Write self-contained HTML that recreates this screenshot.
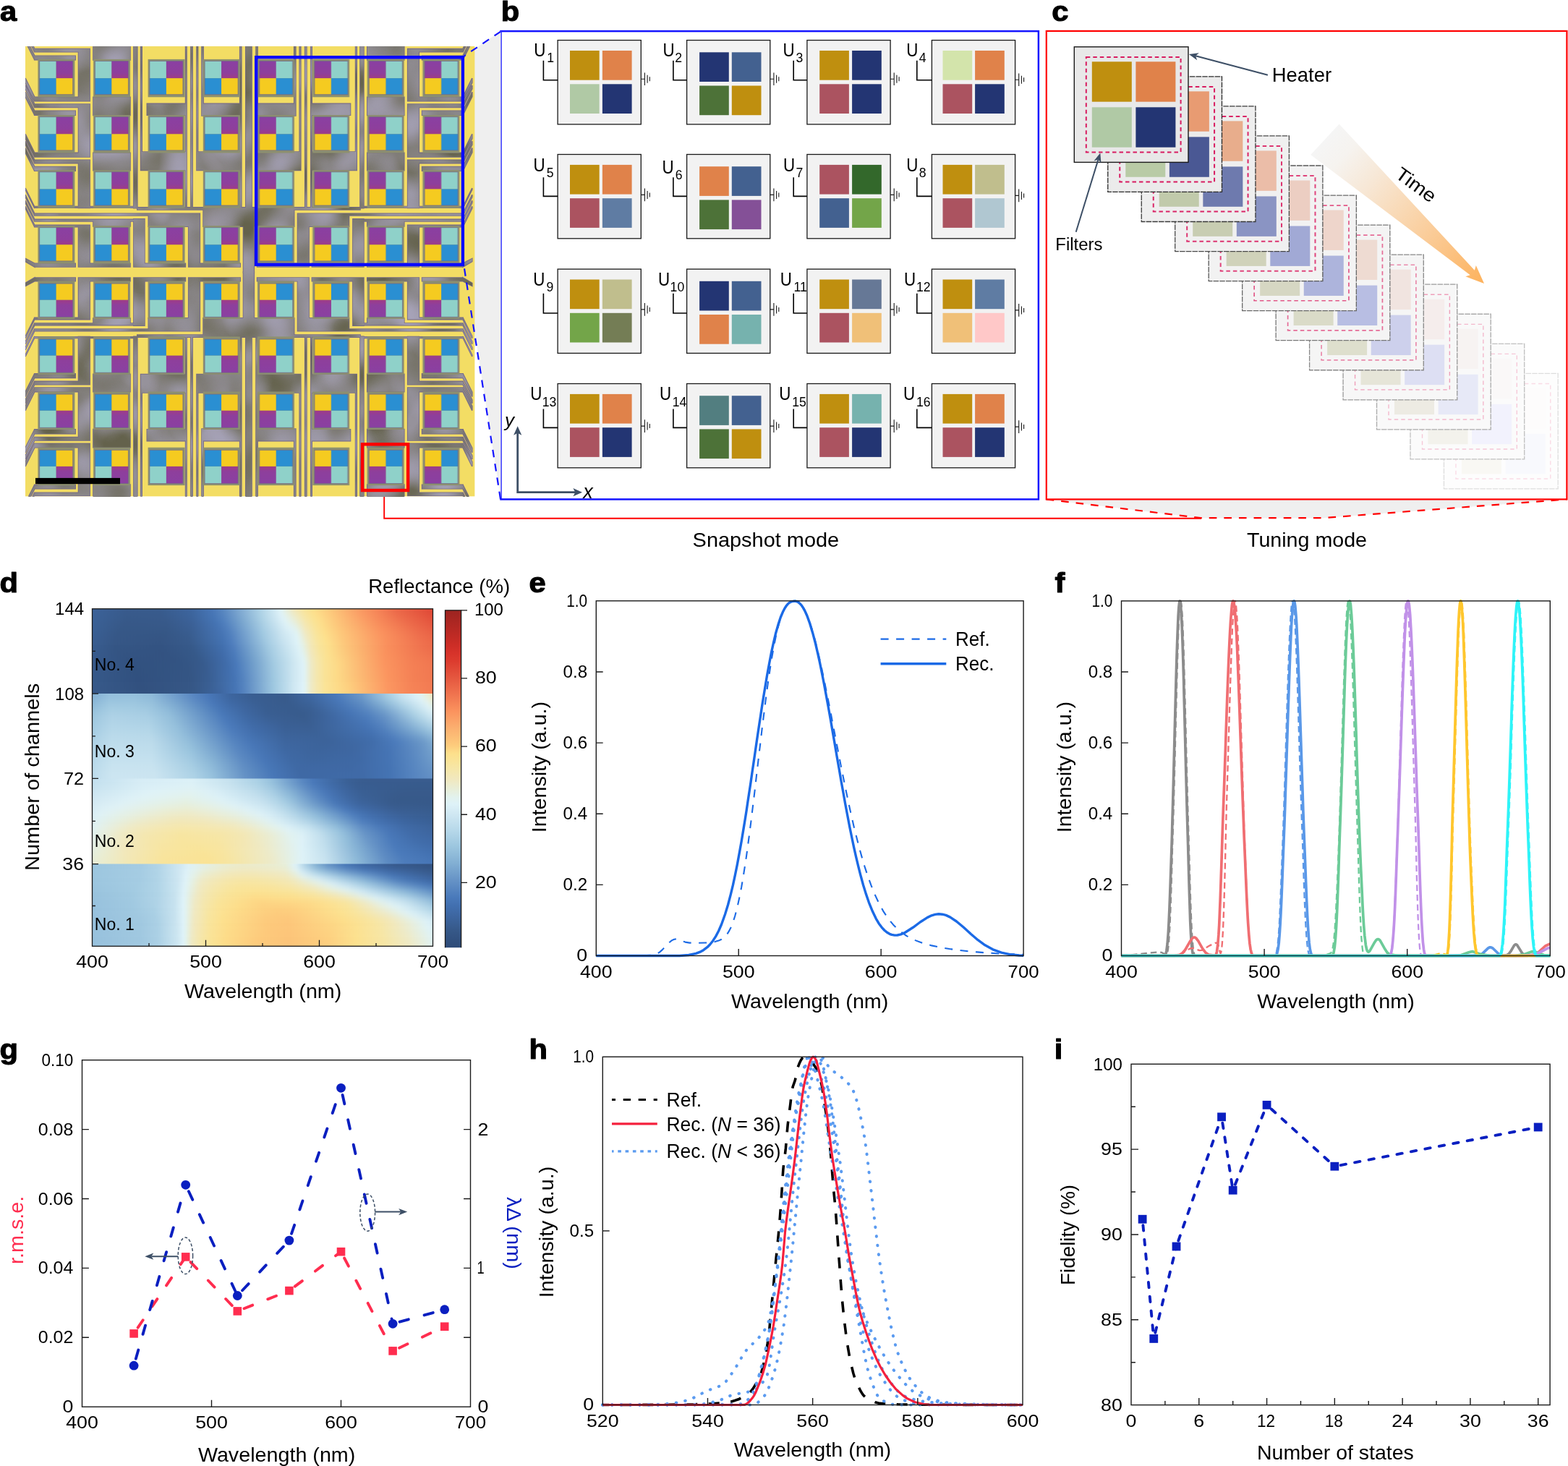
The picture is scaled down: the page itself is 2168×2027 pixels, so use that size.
<!DOCTYPE html>
<html lang="en">
<head>
<meta charset="utf-8">
<title>Figure</title>
<style>
html,body{margin:0;padding:0;background:#fff;}
body{width:2168px;height:2027px;overflow:hidden;}
svg{display:block;font-family:"Liberation Sans",sans-serif;}
</style>
</head>
<body>
<svg xmlns="http://www.w3.org/2000/svg" width="2168" height="2027" viewBox="0 0 2168 2027">
<rect width="2168" height="2027" fill="#fff"/>
<g id="panel_bc">
<path d="M1446.7 690.4 L1660 716.2 L1829 716.2 L2166.4 690.4Z" fill="#efefef"/>
<path d="M1446.7 690.4 L1660 716.2 L1829 716.2 L2166.4 690.4" fill="none" stroke="#ff0000" stroke-width="2.2" stroke-dasharray="10.6 10"/>
<path d="M531.2 680 L531.2 716.8 L1661 716.8" fill="none" stroke="#ff0000" stroke-width="1.9"/>
<rect x="1446.8" y="42.9" width="719.6" height="647.5" fill="#fff" stroke="#ff0000" stroke-width="2.2"/>
<rect x="692.5" y="43.1" width="743.4" height="647.3" fill="#fff" stroke="#1414ff" stroke-width="2.5"/>
<rect x="771.1" y="55.6" width="115.2" height="116.3" fill="#f2f2f2" stroke="#1a1a1a" stroke-width="1.3"/>
<rect x="788" y="70" width="40.7" height="40.7" fill="#BF8F0F"/>
<rect x="832.9" y="70" width="40.7" height="40.7" fill="#E0824A"/>
<rect x="788" y="116.3" width="40.7" height="40.7" fill="#B0C9A5"/>
<rect x="832.9" y="116.3" width="40.7" height="40.7" fill="#233573"/>
<path d="M751.4 83.7 L751.4 110.7 L771.1 110.7" fill="none" stroke="#000" stroke-width="1.6"/>
<path d="M886.3 109.2H891.4M891.4 100.4V118M895.1 103.7V114.7M898.3 106.2V112.2" fill="none" stroke="#1a1a1a" stroke-width="1.1"/>
<text transform="translate(738.2 77.7) scale(0.860 1)" font-size="26">U</text>
<text transform="translate(756.2 86.3) scale(0.980 1)" font-size="18">1</text>
<rect x="949.6" y="55.6" width="115.2" height="116.3" fill="#f2f2f2" stroke="#1a1a1a" stroke-width="1.3"/>
<rect x="967.1" y="72.3" width="40.7" height="40.7" fill="#233573"/>
<rect x="1011.8" y="72.3" width="40.7" height="40.7" fill="#436190"/>
<rect x="967.1" y="118.5" width="40.7" height="40.7" fill="#4D7238"/>
<rect x="1011.8" y="118.5" width="40.7" height="40.7" fill="#BF8F0F"/>
<path d="M930.9 83.7 L930.9 110.7 L949.6 110.7" fill="none" stroke="#000" stroke-width="1.6"/>
<path d="M1064.8 109.2H1069.9M1069.9 100.4V118M1073.6 103.7V114.7M1076.8 106.2V112.2" fill="none" stroke="#1a1a1a" stroke-width="1.1"/>
<text transform="translate(916.4 77.7) scale(0.860 1)" font-size="26">U</text>
<text transform="translate(933.2 86.3) scale(0.980 1)" font-size="18">2</text>
<rect x="1115.9" y="55.6" width="115.2" height="116.3" fill="#f2f2f2" stroke="#1a1a1a" stroke-width="1.3"/>
<rect x="1133.2" y="70" width="40.7" height="40.7" fill="#BF8F0F"/>
<rect x="1178.1" y="70" width="40.7" height="40.7" fill="#233573"/>
<rect x="1133.2" y="116.3" width="40.7" height="40.7" fill="#AB5360"/>
<rect x="1178.1" y="116.3" width="40.7" height="40.7" fill="#233573"/>
<path d="M1097.2 83.7 L1097.2 110.7 L1115.9 110.7" fill="none" stroke="#000" stroke-width="1.6"/>
<path d="M1231.1 109.2H1236.2M1236.2 100.4V118M1239.9 103.7V114.7M1243.1 106.2V112.2" fill="none" stroke="#1a1a1a" stroke-width="1.1"/>
<text transform="translate(1082.5 77.7) scale(0.860 1)" font-size="26">U</text>
<text transform="translate(1100.4 86.3) scale(0.980 1)" font-size="18">3</text>
<rect x="1288.4" y="55.6" width="115.2" height="116.3" fill="#f2f2f2" stroke="#1a1a1a" stroke-width="1.3"/>
<rect x="1303.5" y="70" width="40.7" height="40.7" fill="#D3E4AB"/>
<rect x="1348.1" y="70" width="40.7" height="40.7" fill="#E0824A"/>
<rect x="1303.5" y="116.3" width="40.7" height="40.7" fill="#AB5360"/>
<rect x="1348.1" y="116.3" width="40.7" height="40.7" fill="#233573"/>
<path d="M1267.8 83.7 L1267.8 110.7 L1288.4 110.7" fill="none" stroke="#000" stroke-width="1.6"/>
<path d="M1403.6 110.2H1408.7M1408.7 101.4V119M1412.4 104.7V115.7M1415.6 107.2V113.2" fill="none" stroke="#1a1a1a" stroke-width="1.1"/>
<text transform="translate(1253.2 77.7) scale(0.860 1)" font-size="26">U</text>
<text transform="translate(1270.7 86.3) scale(0.980 1)" font-size="18">4</text>
<rect x="771.1" y="213.5" width="115.2" height="116.3" fill="#f2f2f2" stroke="#1a1a1a" stroke-width="1.3"/>
<rect x="788" y="227.9" width="40.7" height="40.7" fill="#BF8F0F"/>
<rect x="832.9" y="227.9" width="40.7" height="40.7" fill="#E0824A"/>
<rect x="788" y="274.2" width="40.7" height="40.7" fill="#AB5360"/>
<rect x="832.9" y="274.2" width="40.7" height="40.7" fill="#5F7CA3"/>
<path d="M751.4 245.3 L751.4 271.4 L771.1 271.4" fill="none" stroke="#000" stroke-width="1.6"/>
<path d="M886.3 269.4H891.4M891.4 260.6V278.2M895.1 263.9V274.9M898.3 266.4V272.4" fill="none" stroke="#1a1a1a" stroke-width="1.1"/>
<text transform="translate(737.4 236.6) scale(0.860 1)" font-size="26">U</text>
<text transform="translate(755.8 245.2) scale(0.980 1)" font-size="18">5</text>
<rect x="949.6" y="213.5" width="115.2" height="116.3" fill="#f2f2f2" stroke="#1a1a1a" stroke-width="1.3"/>
<rect x="967.1" y="230.2" width="40.7" height="40.7" fill="#E0824A"/>
<rect x="1011.8" y="230.2" width="40.7" height="40.7" fill="#436190"/>
<rect x="967.1" y="276.4" width="40.7" height="40.7" fill="#4D7238"/>
<rect x="1011.8" y="276.4" width="40.7" height="40.7" fill="#845097"/>
<path d="M930.9 245.3 L930.9 271.4 L949.6 271.4" fill="none" stroke="#000" stroke-width="1.6"/>
<path d="M1064.8 269.4H1069.9M1069.9 260.6V278.2M1073.6 263.9V274.9M1076.8 266.4V272.4" fill="none" stroke="#1a1a1a" stroke-width="1.1"/>
<text transform="translate(915.4 239.8) scale(0.860 1)" font-size="26">U</text>
<text transform="translate(933.8 248.4) scale(0.980 1)" font-size="18">6</text>
<rect x="1115.9" y="213.5" width="115.2" height="116.3" fill="#f2f2f2" stroke="#1a1a1a" stroke-width="1.3"/>
<rect x="1133.2" y="227.9" width="40.7" height="40.7" fill="#AB5360"/>
<rect x="1178.1" y="227.9" width="40.7" height="40.7" fill="#33682B"/>
<rect x="1133.2" y="274.2" width="40.7" height="40.7" fill="#436190"/>
<rect x="1178.1" y="274.2" width="40.7" height="40.7" fill="#73A549"/>
<path d="M1097.2 245.3 L1097.2 271.4 L1115.9 271.4" fill="none" stroke="#000" stroke-width="1.6"/>
<path d="M1231.1 269.4H1236.2M1236.2 260.6V278.2M1239.9 263.9V274.9M1243.1 266.4V272.4" fill="none" stroke="#1a1a1a" stroke-width="1.1"/>
<text transform="translate(1083.1 236.6) scale(0.860 1)" font-size="26">U</text>
<text transform="translate(1100.4 245.2) scale(0.980 1)" font-size="18">7</text>
<rect x="1288.4" y="213.5" width="115.2" height="116.3" fill="#f2f2f2" stroke="#1a1a1a" stroke-width="1.3"/>
<rect x="1303.5" y="227.9" width="40.7" height="40.7" fill="#BF8F0F"/>
<rect x="1348.1" y="227.9" width="40.7" height="40.7" fill="#C0BE8D"/>
<rect x="1303.5" y="274.2" width="40.7" height="40.7" fill="#AB5360"/>
<rect x="1348.1" y="274.2" width="40.7" height="40.7" fill="#B0C7D1"/>
<path d="M1267.8 245.3 L1267.8 271.4 L1288.4 271.4" fill="none" stroke="#000" stroke-width="1.6"/>
<path d="M1403.6 270.4H1408.7M1408.7 261.6V279.2M1412.4 264.9V275.9M1415.6 267.4V273.4" fill="none" stroke="#1a1a1a" stroke-width="1.1"/>
<text transform="translate(1253.2 236.6) scale(0.860 1)" font-size="26">U</text>
<text transform="translate(1270.7 245.2) scale(0.980 1)" font-size="18">8</text>
<rect x="771.1" y="372.1" width="115.2" height="116.3" fill="#f2f2f2" stroke="#1a1a1a" stroke-width="1.3"/>
<rect x="788" y="386.5" width="40.7" height="40.7" fill="#BF8F0F"/>
<rect x="832.9" y="386.5" width="40.7" height="40.7" fill="#C0BE8D"/>
<rect x="788" y="432.8" width="40.7" height="40.7" fill="#73A549"/>
<rect x="832.9" y="432.8" width="40.7" height="40.7" fill="#747D55"/>
<path d="M751.4 405.8 L751.4 433 L771.1 433" fill="none" stroke="#000" stroke-width="1.6"/>
<path d="M886.3 427.9H891.4M891.4 419.1V436.7M895.1 422.4V433.4M898.3 424.9V430.9" fill="none" stroke="#1a1a1a" stroke-width="1.1"/>
<text transform="translate(737.3 394.8) scale(0.860 1)" font-size="26">U</text>
<text transform="translate(755.4 403.4) scale(0.980 1)" font-size="18">9</text>
<rect x="949.6" y="372.1" width="115.2" height="116.3" fill="#f2f2f2" stroke="#1a1a1a" stroke-width="1.3"/>
<rect x="967.1" y="388.8" width="40.7" height="40.7" fill="#233573"/>
<rect x="1011.8" y="388.8" width="40.7" height="40.7" fill="#436190"/>
<rect x="967.1" y="435" width="40.7" height="40.7" fill="#E0824A"/>
<rect x="1011.8" y="435" width="40.7" height="40.7" fill="#76B2AE"/>
<path d="M930.9 405.8 L930.9 433 L949.6 433" fill="none" stroke="#000" stroke-width="1.6"/>
<path d="M1064.8 427.9H1069.9M1069.9 419.1V436.7M1073.6 422.4V433.4M1076.8 424.9V430.9" fill="none" stroke="#1a1a1a" stroke-width="1.1"/>
<text transform="translate(910 394.8) scale(0.860 1)" font-size="26">U</text>
<text transform="translate(926.6 403.4) scale(0.980 1)" font-size="18">10</text>
<rect x="1115.9" y="372.1" width="115.2" height="116.3" fill="#f2f2f2" stroke="#1a1a1a" stroke-width="1.3"/>
<rect x="1133.2" y="386.5" width="40.7" height="40.7" fill="#BF8F0F"/>
<rect x="1178.1" y="386.5" width="40.7" height="40.7" fill="#667896"/>
<rect x="1133.2" y="432.8" width="40.7" height="40.7" fill="#AB5360"/>
<rect x="1178.1" y="432.8" width="40.7" height="40.7" fill="#F0C078"/>
<path d="M1097.2 405.8 L1097.2 433 L1115.9 433" fill="none" stroke="#000" stroke-width="1.6"/>
<path d="M1231.1 427.9H1236.2M1236.2 419.1V436.7M1239.9 422.4V433.4M1243.1 424.9V430.9" fill="none" stroke="#1a1a1a" stroke-width="1.1"/>
<text transform="translate(1078.8 394.8) scale(0.860 1)" font-size="26">U</text>
<text transform="translate(1097.6 403.4) scale(0.980 1)" font-size="18">11</text>
<rect x="1288.4" y="372.1" width="115.2" height="116.3" fill="#f2f2f2" stroke="#1a1a1a" stroke-width="1.3"/>
<rect x="1303.5" y="386.5" width="40.7" height="40.7" fill="#BF8F0F"/>
<rect x="1348.1" y="386.5" width="40.7" height="40.7" fill="#5F7CA3"/>
<rect x="1303.5" y="432.8" width="40.7" height="40.7" fill="#F0C078"/>
<rect x="1348.1" y="432.8" width="40.7" height="40.7" fill="#FFC8C8"/>
<path d="M1267.8 405.8 L1267.8 433 L1288.4 433" fill="none" stroke="#000" stroke-width="1.6"/>
<path d="M1403.6 428.9H1408.7M1408.7 420.1V437.7M1412.4 423.4V434.4M1415.6 425.9V431.9" fill="none" stroke="#1a1a1a" stroke-width="1.1"/>
<text transform="translate(1249.9 394.8) scale(0.860 1)" font-size="26">U</text>
<text transform="translate(1267 403.4) scale(0.980 1)" font-size="18">12</text>
<rect x="771.1" y="530.5" width="115.2" height="116.3" fill="#f2f2f2" stroke="#1a1a1a" stroke-width="1.3"/>
<rect x="788" y="544.9" width="40.7" height="40.7" fill="#BF8F0F"/>
<rect x="832.9" y="544.9" width="40.7" height="40.7" fill="#E0824A"/>
<rect x="788" y="591.2" width="40.7" height="40.7" fill="#AB5360"/>
<rect x="832.9" y="591.2" width="40.7" height="40.7" fill="#233573"/>
<path d="M751.4 565.4 L751.4 591.4 L771.1 591.4" fill="none" stroke="#000" stroke-width="1.6"/>
<path d="M886.3 589.1H891.4M891.4 580.3V597.9M895.1 583.6V594.6M898.3 586.1V592.1" fill="none" stroke="#1a1a1a" stroke-width="1.1"/>
<text transform="translate(733.2 553.2) scale(0.860 1)" font-size="26">U</text>
<text transform="translate(749.7 561.8) scale(0.980 1)" font-size="18">13</text>
<rect x="949.6" y="530.5" width="115.2" height="116.3" fill="#f2f2f2" stroke="#1a1a1a" stroke-width="1.3"/>
<rect x="967.1" y="547.2" width="40.7" height="40.7" fill="#527E80"/>
<rect x="1011.8" y="547.2" width="40.7" height="40.7" fill="#436190"/>
<rect x="967.1" y="593.4" width="40.7" height="40.7" fill="#4D7238"/>
<rect x="1011.8" y="593.4" width="40.7" height="40.7" fill="#BF8F0F"/>
<path d="M930.9 565.4 L930.9 591.4 L949.6 591.4" fill="none" stroke="#000" stroke-width="1.6"/>
<path d="M1064.8 589.1H1069.9M1069.9 580.3V597.9M1073.6 583.6V594.6M1076.8 586.1V592.1" fill="none" stroke="#1a1a1a" stroke-width="1.1"/>
<text transform="translate(912 553.2) scale(0.860 1)" font-size="26">U</text>
<text transform="translate(929.8 561.8) scale(0.980 1)" font-size="18">14</text>
<rect x="1115.9" y="530.5" width="115.2" height="116.3" fill="#f2f2f2" stroke="#1a1a1a" stroke-width="1.3"/>
<rect x="1133.2" y="544.9" width="40.7" height="40.7" fill="#BF8F0F"/>
<rect x="1178.1" y="544.9" width="40.7" height="40.7" fill="#76B2AE"/>
<rect x="1133.2" y="591.2" width="40.7" height="40.7" fill="#AB5360"/>
<rect x="1178.1" y="591.2" width="40.7" height="40.7" fill="#233573"/>
<path d="M1097.2 565.4 L1097.2 591.4 L1115.9 591.4" fill="none" stroke="#000" stroke-width="1.6"/>
<path d="M1231.1 589.1H1236.2M1236.2 580.3V597.9M1239.9 583.6V594.6M1243.1 586.1V592.1" fill="none" stroke="#1a1a1a" stroke-width="1.1"/>
<text transform="translate(1077.2 553.2) scale(0.860 1)" font-size="26">U</text>
<text transform="translate(1095.2 561.8) scale(0.980 1)" font-size="18">15</text>
<rect x="1288.4" y="530.5" width="115.2" height="116.3" fill="#f2f2f2" stroke="#1a1a1a" stroke-width="1.3"/>
<rect x="1303.5" y="544.9" width="40.7" height="40.7" fill="#BF8F0F"/>
<rect x="1348.1" y="544.9" width="40.7" height="40.7" fill="#E0824A"/>
<rect x="1303.5" y="591.2" width="40.7" height="40.7" fill="#AB5360"/>
<rect x="1348.1" y="591.2" width="40.7" height="40.7" fill="#233573"/>
<path d="M1267.8 565.4 L1267.8 591.4 L1288.4 591.4" fill="none" stroke="#000" stroke-width="1.6"/>
<path d="M1403.6 590.1H1408.7M1408.7 581.3V598.9M1412.4 584.6V595.6M1415.6 587.1V593.1" fill="none" stroke="#1a1a1a" stroke-width="1.1"/>
<text transform="translate(1249.1 553.2) scale(0.860 1)" font-size="26">U</text>
<text transform="translate(1267 561.8) scale(0.980 1)" font-size="18">16</text>
<path d="M715.7 598 L715.7 680.7 L796 680.7" fill="none" stroke="#3d4f66" stroke-width="2.8" stroke-linejoin="miter"/>
<path d="M715.7 589.2 L721.3 601.8 L715.7 598.8 L710.1 601.8Z" fill="#3d4f66"/>
<path d="M805 680.7 L792.4 686.3 L795.4 680.7 L792.4 675.1Z" fill="#3d4f66"/>
<text transform="translate(698 590.1)" font-size="26" font-style="italic">y</text>
<text transform="translate(806.3 688.8)" font-size="27" font-style="italic">x</text>
<defs><linearGradient id="tg" gradientUnits="userSpaceOnUse" x1="1832" y1="192" x2="2052" y2="392"><stop offset="0" stop-color="#f5f5f5"/><stop offset="0.12" stop-color="#f6f3ef"/><stop offset="0.3" stop-color="#f7e7d5"/><stop offset="0.5" stop-color="#f9d8b3"/><stop offset="0.75" stop-color="#fbc589"/><stop offset="1" stop-color="#fdb25c"/></linearGradient></defs>
<path d="M1851.6 171.4 L2038.8 373.7 L2040.8 367 L2052 391.9 L2026.3 382.3 L2032.7 380.2 L1812.2 214Z" fill="url(#tg)"/>
<rect x="1996.47" y="516.35" width="157.7" height="159.6" fill="#fdfdfd" stroke="#dddddd" stroke-width="1.3" stroke-dasharray="7.5 1.2"/>
<rect x="2081.57" y="536.85" width="55" height="55.4" fill="#FDFCFC"/>
<rect x="2020.97" y="599.85" width="55" height="55.4" fill="#F9F8F4"/>
<rect x="2081.57" y="599.85" width="55" height="55.4" fill="#F8F9FD"/>
<rect x="2012.97" y="530.45" width="130.8" height="131.6" fill="none" stroke="#fadce6" stroke-width="1.4" stroke-dasharray="5.5 4"/>
<rect x="1950" y="475.3" width="157.7" height="159.6" fill="#fbfbfb" stroke="#c0c0c0" stroke-width="1.3" stroke-dasharray="7.5 1.2"/>
<rect x="2035.1" y="495.8" width="55" height="55.4" fill="#FAF8F8"/>
<rect x="1974.5" y="558.8" width="55" height="55.4" fill="#F3F2EC"/>
<rect x="2035.1" y="558.8" width="55" height="55.4" fill="#F2F2FD"/>
<rect x="1966.5" y="489.4" width="130.8" height="131.6" fill="none" stroke="#f6c8d8" stroke-width="1.4" stroke-dasharray="5.5 4"/>
<rect x="1903.53" y="434.25" width="157.7" height="159.6" fill="#f9f9f9" stroke="#aaaaaa" stroke-width="1.3" stroke-dasharray="7.5 1.2"/>
<rect x="1988.63" y="454.75" width="55" height="55.4" fill="#F7F3F2"/>
<rect x="1928.03" y="517.75" width="55" height="55.4" fill="#EDEBE3"/>
<rect x="1988.63" y="517.75" width="55" height="55.4" fill="#E7E9F7"/>
<rect x="1920.03" y="448.35" width="130.8" height="131.6" fill="none" stroke="#f3b8cc" stroke-width="1.4" stroke-dasharray="5.5 4"/>
<rect x="1857.06" y="393.2" width="157.7" height="159.6" fill="#f7f7f7" stroke="#999999" stroke-width="1.3" stroke-dasharray="7.5 1.2"/>
<rect x="1942.16" y="413.7" width="55" height="55.4" fill="#F5EDEC"/>
<rect x="1881.56" y="476.7" width="55" height="55.4" fill="#E6E5D8"/>
<rect x="1942.16" y="476.7" width="55" height="55.4" fill="#DDDFF3"/>
<rect x="1873.56" y="407.3" width="130.8" height="131.6" fill="none" stroke="#ee9fba" stroke-width="1.4" stroke-dasharray="5.5 4"/>
<rect x="1810.59" y="352.15" width="157.7" height="159.6" fill="#f5f5f5" stroke="#888888" stroke-width="1.3" stroke-dasharray="7.5 1.2"/>
<rect x="1895.69" y="372.65" width="55" height="55.4" fill="#F1E4E0"/>
<rect x="1835.09" y="435.65" width="55" height="55.4" fill="#DEDFCD"/>
<rect x="1895.69" y="435.65" width="55" height="55.4" fill="#CDD0EC"/>
<rect x="1827.09" y="366.25" width="130.8" height="131.6" fill="none" stroke="#e98aab" stroke-width="1.7" stroke-dasharray="5.5 4"/>
<rect x="1764.12" y="311.1" width="157.7" height="159.6" fill="#f4f4f4" stroke="#787878" stroke-width="1.3" stroke-dasharray="7.5 1.2"/>
<rect x="1849.22" y="331.6" width="55" height="55.4" fill="#EEDBD2"/>
<rect x="1788.62" y="394.6" width="55" height="55.4" fill="#DADBC8"/>
<rect x="1849.22" y="394.6" width="55" height="55.4" fill="#B8BEE3"/>
<rect x="1780.62" y="325.2" width="130.8" height="131.6" fill="none" stroke="#e56c97" stroke-width="1.7" stroke-dasharray="5.5 4"/>
<rect x="1717.65" y="270.05" width="157.7" height="159.6" fill="#f3f3f3" stroke="#686868" stroke-width="1.3" stroke-dasharray="7.5 1.2"/>
<rect x="1802.75" y="290.55" width="55" height="55.4" fill="#EED5CB"/>
<rect x="1742.15" y="353.55" width="55" height="55.4" fill="#D6D7C3"/>
<rect x="1802.75" y="353.55" width="55" height="55.4" fill="#ADB4DC"/>
<rect x="1734.15" y="284.15" width="130.8" height="131.6" fill="none" stroke="#e25888" stroke-width="1.7" stroke-dasharray="5.5 4"/>
<rect x="1671.18" y="229" width="157.7" height="159.6" fill="#f2f2f2" stroke="#585858" stroke-width="1.3" stroke-dasharray="7.5 1.2"/>
<rect x="1756.28" y="249.5" width="55" height="55.4" fill="#ECCEC2"/>
<rect x="1695.68" y="312.5" width="55" height="55.4" fill="#D0D2BA"/>
<rect x="1756.28" y="312.5" width="55" height="55.4" fill="#A1A9D5"/>
<rect x="1687.68" y="243.1" width="130.8" height="131.6" fill="none" stroke="#df457c" stroke-width="2" stroke-dasharray="5.5 4"/>
<rect x="1624.71" y="187.95" width="157.7" height="159.6" fill="#f0f0f0" stroke="#484848" stroke-width="1.3" stroke-dasharray="7.5 1.2"/>
<rect x="1709.81" y="208.45" width="55" height="55.4" fill="#EBBDA8"/>
<rect x="1649.21" y="271.45" width="55" height="55.4" fill="#C8CDB2"/>
<rect x="1709.81" y="271.45" width="55" height="55.4" fill="#8A94C3"/>
<rect x="1641.21" y="202.05" width="130.8" height="131.6" fill="none" stroke="#dc3470" stroke-width="2" stroke-dasharray="5.5 4"/>
<rect x="1578.24" y="146.9" width="157.7" height="159.6" fill="#eeeeee" stroke="#383838" stroke-width="1.3" stroke-dasharray="7.5 1.2"/>
<rect x="1663.34" y="167.4" width="55" height="55.4" fill="#E8AD8C"/>
<rect x="1602.74" y="230.4" width="55" height="55.4" fill="#C1CAAB"/>
<rect x="1663.34" y="230.4" width="55" height="55.4" fill="#6E7AAE"/>
<rect x="1594.74" y="161" width="130.8" height="131.6" fill="none" stroke="#da2466" stroke-width="2" stroke-dasharray="5.5 4"/>
<rect x="1531.77" y="105.85" width="157.7" height="159.6" fill="#ebebeb" stroke="#2a2a2a" stroke-width="1.3" stroke-dasharray="7.5 1.2"/>
<rect x="1616.87" y="126.35" width="55" height="55.4" fill="#E89B72"/>
<rect x="1556.27" y="189.35" width="55" height="55.4" fill="#B9CBA6"/>
<rect x="1616.87" y="189.35" width="55" height="55.4" fill="#4A5894"/>
<rect x="1548.27" y="119.95" width="130.8" height="131.6" fill="none" stroke="#d81b60" stroke-width="2" stroke-dasharray="5.5 4"/>
<rect x="1485.3" y="64.8" width="157.7" height="159.6" fill="#e8e8e8" stroke="#1a1a1a" stroke-width="1.4"/>
<rect x="1509.8" y="85.3" width="55" height="55.4" fill="#BF8F0F"/>
<rect x="1570.4" y="85.3" width="55" height="55.4" fill="#E0824A"/>
<rect x="1509.8" y="148.3" width="55" height="55.4" fill="#B0C9A5"/>
<rect x="1570.4" y="148.3" width="55" height="55.4" fill="#233573"/>
<rect x="1501.8" y="78.9" width="130.8" height="131.6" fill="none" stroke="#d81b60" stroke-width="2" stroke-dasharray="5.5 4"/>
<line x1="1752.9" y1="103.8" x2="1653.08" y2="77.33" stroke="#3d4f66" stroke-width="2"/>
<path d="M1643.9 74.9 L1657.8 73.21 L1653.08 77.33 L1655.13 83.26Z" fill="#3d4f66"/>
<line x1="1487.7" y1="320.7" x2="1518.51" y2="220.58" stroke="#3d4f66" stroke-width="2"/>
<path d="M1521.3 211.5 L1522.45 225.45 L1518.51 220.58 L1512.51 222.4Z" fill="#3d4f66"/>
<text transform="translate(1758.8 113.1)" font-size="27.4">Heater</text>
<text transform="translate(1459.3 345.9) scale(1.040 1)" font-size="23">Filters</text>
<text transform="translate(1927.4 244.3) rotate(36) scale(1.100 1)" font-size="26">Time</text>
<text transform="translate(957.6 756.2) scale(1.056 1)" font-size="27.4">Snapshot mode</text>
<text transform="translate(1724 756.2) scale(1.045 1)" font-size="27.4">Tuning mode</text>
</g>
<g id="panel_a">
<defs><linearGradient id="pg" x1="0" y1="0" x2="0" y2="1"><stop offset="0" stop-color="#8a40a2"/><stop offset="0.7" stop-color="#8e3f9c"/><stop offset="1" stop-color="#a03c86"/></linearGradient><clipPath id="ia"><rect x="35.0" y="64.0" width="621.6" height="622.6"/></clipPath><filter id="nz" x="0" y="0" width="100%" height="100%" color-interpolation-filters="sRGB"><feTurbulence type="fractalNoise" baseFrequency="0.022" numOctaves="1" seed="7" result="n"/><feColorMatrix in="n" type="matrix" values="0 0 0 0 0  0 0 0 0 0  0 0 0 0 0  2.4 0 0 0 -0.72" result="a"/><feFlood flood-color="#64624c" result="f"/><feComposite in="f" in2="a" operator="in" result="dk"/><feColorMatrix in="n" type="matrix" values="0 0 0 0 0  0 0 0 0 0  0 0 0 0 0  0 2.0 0 0 -0.8" result="b"/><feFlood flood-color="#aca8c2" result="f2"/><feComposite in="f2" in2="b" operator="in" result="lt"/><feMerge result="m"><feMergeNode in="SourceGraphic"/><feMergeNode in="dk"/><feMergeNode in="lt"/></feMerge><feComposite in="m" in2="SourceGraphic" operator="in"/></filter><path id="qg" d="M47.7 67.5H123.6V71.8H47.7ZM47.7 77.2H104.2V82.6H47.7ZM108.5 67.5H124.1V139.6H108.5ZM129 64H180V83H129ZM47.7 134.2H124.1V139.8H47.7ZM47.7 144.1H124.1V148.4H47.7ZM47.7 153.3H104.2V159.1H47.7ZM108.5 148.4H124.1V217H108.5ZM129 134.2H180V159.5H129ZM47.7 211.4H124.1V217H47.7ZM47.7 221.3H124.1V225.6H47.7ZM47.7 230.5H104.2V236.3H47.7ZM108.5 225.6H124.1V287.4H108.5ZM129 211.4H180V235.6H129ZM47.7 285.5H184.9V287.2H47.7ZM47.7 295.3H276.3V298H47.7ZM47.7 303.4H199.9V306H47.7ZM47.7 311.4H124.1V313.6H47.7ZM129 303.4H180V313H129ZM108.5 311.4H124.1V369H108.5ZM47.7 364.2H104.2V369H47.7ZM108.5 364.2H180V369H108.5ZM184.9 302.8H199.9V369H184.9ZM184.9 364.2H256.4V369H184.9ZM184.9 64H189.8V287.8H184.9ZM194.6 64H196.2V235.4H194.6ZM263.9 64H266.1V287.8H263.9ZM256.6 64H258V287.8H256.6ZM272 64H273.6V235.4H272ZM279 64H281.1V160H279ZM331.7 64H333.8V287.8H331.7ZM339.8 64H344.4V313H339.8ZM336.5 287.8H344.4V377H336.5ZM203.3 143.4H258V159.3H203.3ZM279.2 143.4H333.8V159.3H279.2ZM195.2 210H258V235.4H195.2ZM272.2 210H333.8V235.4H272.2ZM189.8 286.7H339.8V289.9H189.8ZM205.3 295.3H276.3V313.2H205.3ZM281.1 289.9H339.8V313.2H281.1ZM260.7 295.3H276.3V369H260.7ZM260.7 364.2H332.2V369H260.7ZM47.8 67.5L35 41.5V46.23L47.8 71.8ZM47.8 77.2L35 51.2V57.14L47.8 82.6ZM47.8 134.2L35 108.2V114.36L47.8 139.8ZM47.8 144.1L35 118.1V122.83L47.8 148.4ZM47.8 153.3L35 127.3V133.68L47.8 159.1ZM47.8 211.4L35 185.4V191.56L47.8 217ZM47.8 221.3L35 195.3V200.03L47.8 225.6ZM47.8 230.5L35 204.5V210.88L47.8 236.3ZM47.8 286.2L35 260.2V262.07L47.8 287.9ZM47.8 295.3L35 269.3V272.27L47.8 298ZM47.8 303.4L35 277.4V280.26L47.8 306ZM47.8 311.4L35 285.4V287.82L47.8 313.6ZM47.8 364.2L35 357.5V361.5L47.8 369Z"/><g id="qa"><rect x="52.4" y="81.9" width="51" height="52.4" fill="#8d9070"/><rect x="54.7" y="84.5" width="23" height="23.7" fill="#8fd1c9"/><rect x="77.7" y="84.5" width="23" height="23.7" fill="url(#pg)"/><rect x="54.7" y="108.2" width="23" height="22.5" fill="#2a8fd2"/><rect x="77.7" y="108.2" width="23" height="22.5" fill="#f5cb20"/><rect x="54.7" y="84.5" width="46" height="46.2" fill="none" stroke="#6f6488" stroke-width="0.9" opacity="0.75"/><rect x="129.1" y="81.9" width="51" height="52.4" fill="#8d9070"/><rect x="131.4" y="84.5" width="23" height="23.7" fill="#8fd1c9"/><rect x="154.4" y="84.5" width="23" height="23.7" fill="url(#pg)"/><rect x="131.4" y="108.2" width="23" height="22.5" fill="#2a8fd2"/><rect x="154.4" y="108.2" width="23" height="22.5" fill="#f5cb20"/><rect x="131.4" y="84.5" width="46" height="46.2" fill="none" stroke="#6f6488" stroke-width="0.9" opacity="0.75"/><rect x="204.6" y="81.9" width="51" height="52.4" fill="#8d9070"/><rect x="206.9" y="84.5" width="23" height="23.7" fill="#8fd1c9"/><rect x="229.9" y="84.5" width="23" height="23.7" fill="url(#pg)"/><rect x="206.9" y="108.2" width="23" height="22.5" fill="#2a8fd2"/><rect x="229.9" y="108.2" width="23" height="22.5" fill="#f5cb20"/><rect x="206.9" y="84.5" width="46" height="46.2" fill="none" stroke="#6f6488" stroke-width="0.9" opacity="0.75"/><rect x="280.8" y="81.9" width="51" height="52.4" fill="#8d9070"/><rect x="283.1" y="84.5" width="23" height="23.7" fill="#8fd1c9"/><rect x="306.1" y="84.5" width="23" height="23.7" fill="url(#pg)"/><rect x="283.1" y="108.2" width="23" height="22.5" fill="#2a8fd2"/><rect x="306.1" y="108.2" width="23" height="22.5" fill="#f5cb20"/><rect x="283.1" y="84.5" width="46" height="46.2" fill="none" stroke="#6f6488" stroke-width="0.9" opacity="0.75"/><rect x="52.4" y="159.1" width="51" height="52.4" fill="#8d9070"/><rect x="54.7" y="161.7" width="23" height="23.7" fill="#8fd1c9"/><rect x="77.7" y="161.7" width="23" height="23.7" fill="url(#pg)"/><rect x="54.7" y="185.4" width="23" height="22.5" fill="#2a8fd2"/><rect x="77.7" y="185.4" width="23" height="22.5" fill="#f5cb20"/><rect x="54.7" y="161.7" width="46" height="46.2" fill="none" stroke="#6f6488" stroke-width="0.9" opacity="0.75"/><rect x="129.1" y="159.1" width="51" height="52.4" fill="#8d9070"/><rect x="131.4" y="161.7" width="23" height="23.7" fill="#8fd1c9"/><rect x="154.4" y="161.7" width="23" height="23.7" fill="url(#pg)"/><rect x="131.4" y="185.4" width="23" height="22.5" fill="#2a8fd2"/><rect x="154.4" y="185.4" width="23" height="22.5" fill="#f5cb20"/><rect x="131.4" y="161.7" width="46" height="46.2" fill="none" stroke="#6f6488" stroke-width="0.9" opacity="0.75"/><rect x="204.6" y="159.1" width="51" height="52.4" fill="#8d9070"/><rect x="206.9" y="161.7" width="23" height="23.7" fill="#8fd1c9"/><rect x="229.9" y="161.7" width="23" height="23.7" fill="url(#pg)"/><rect x="206.9" y="185.4" width="23" height="22.5" fill="#2a8fd2"/><rect x="229.9" y="185.4" width="23" height="22.5" fill="#f5cb20"/><rect x="206.9" y="161.7" width="46" height="46.2" fill="none" stroke="#6f6488" stroke-width="0.9" opacity="0.75"/><rect x="280.8" y="159.1" width="51" height="52.4" fill="#8d9070"/><rect x="283.1" y="161.7" width="23" height="23.7" fill="#8fd1c9"/><rect x="306.1" y="161.7" width="23" height="23.7" fill="url(#pg)"/><rect x="283.1" y="185.4" width="23" height="22.5" fill="#2a8fd2"/><rect x="306.1" y="185.4" width="23" height="22.5" fill="#f5cb20"/><rect x="283.1" y="161.7" width="46" height="46.2" fill="none" stroke="#6f6488" stroke-width="0.9" opacity="0.75"/><rect x="52.4" y="235.2" width="51" height="52.4" fill="#8d9070"/><rect x="54.7" y="237.8" width="23" height="23.7" fill="#8fd1c9"/><rect x="77.7" y="237.8" width="23" height="23.7" fill="url(#pg)"/><rect x="54.7" y="261.5" width="23" height="22.5" fill="#2a8fd2"/><rect x="77.7" y="261.5" width="23" height="22.5" fill="#f5cb20"/><rect x="54.7" y="237.8" width="46" height="46.2" fill="none" stroke="#6f6488" stroke-width="0.9" opacity="0.75"/><rect x="129.1" y="235.2" width="51" height="52.4" fill="#8d9070"/><rect x="131.4" y="237.8" width="23" height="23.7" fill="#8fd1c9"/><rect x="154.4" y="237.8" width="23" height="23.7" fill="url(#pg)"/><rect x="131.4" y="261.5" width="23" height="22.5" fill="#2a8fd2"/><rect x="154.4" y="261.5" width="23" height="22.5" fill="#f5cb20"/><rect x="131.4" y="237.8" width="46" height="46.2" fill="none" stroke="#6f6488" stroke-width="0.9" opacity="0.75"/><rect x="204.6" y="235.2" width="51" height="52.4" fill="#8d9070"/><rect x="206.9" y="237.8" width="23" height="23.7" fill="#8fd1c9"/><rect x="229.9" y="237.8" width="23" height="23.7" fill="url(#pg)"/><rect x="206.9" y="261.5" width="23" height="22.5" fill="#2a8fd2"/><rect x="229.9" y="261.5" width="23" height="22.5" fill="#f5cb20"/><rect x="206.9" y="237.8" width="46" height="46.2" fill="none" stroke="#6f6488" stroke-width="0.9" opacity="0.75"/><rect x="280.8" y="235.2" width="51" height="52.4" fill="#8d9070"/><rect x="283.1" y="237.8" width="23" height="23.7" fill="#8fd1c9"/><rect x="306.1" y="237.8" width="23" height="23.7" fill="url(#pg)"/><rect x="283.1" y="261.5" width="23" height="22.5" fill="#2a8fd2"/><rect x="306.1" y="261.5" width="23" height="22.5" fill="#f5cb20"/><rect x="283.1" y="237.8" width="46" height="46.2" fill="none" stroke="#6f6488" stroke-width="0.9" opacity="0.75"/><rect x="52.4" y="312.1" width="51" height="52.4" fill="#8d9070"/><rect x="54.7" y="314.7" width="23" height="23.7" fill="#8fd1c9"/><rect x="77.7" y="314.7" width="23" height="23.7" fill="url(#pg)"/><rect x="54.7" y="338.4" width="23" height="22.5" fill="#2a8fd2"/><rect x="77.7" y="338.4" width="23" height="22.5" fill="#f5cb20"/><rect x="54.7" y="314.7" width="46" height="46.2" fill="none" stroke="#6f6488" stroke-width="0.9" opacity="0.75"/><rect x="129.1" y="312.1" width="51" height="52.4" fill="#8d9070"/><rect x="131.4" y="314.7" width="23" height="23.7" fill="#8fd1c9"/><rect x="154.4" y="314.7" width="23" height="23.7" fill="url(#pg)"/><rect x="131.4" y="338.4" width="23" height="22.5" fill="#2a8fd2"/><rect x="154.4" y="338.4" width="23" height="22.5" fill="#f5cb20"/><rect x="131.4" y="314.7" width="46" height="46.2" fill="none" stroke="#6f6488" stroke-width="0.9" opacity="0.75"/><rect x="204.6" y="312.1" width="51" height="52.4" fill="#8d9070"/><rect x="206.9" y="314.7" width="23" height="23.7" fill="#8fd1c9"/><rect x="229.9" y="314.7" width="23" height="23.7" fill="url(#pg)"/><rect x="206.9" y="338.4" width="23" height="22.5" fill="#2a8fd2"/><rect x="229.9" y="338.4" width="23" height="22.5" fill="#f5cb20"/><rect x="206.9" y="314.7" width="46" height="46.2" fill="none" stroke="#6f6488" stroke-width="0.9" opacity="0.75"/><rect x="280.8" y="312.1" width="51" height="52.4" fill="#8d9070"/><rect x="283.1" y="314.7" width="23" height="23.7" fill="#8fd1c9"/><rect x="306.1" y="314.7" width="23" height="23.7" fill="url(#pg)"/><rect x="283.1" y="338.4" width="23" height="22.5" fill="#2a8fd2"/><rect x="306.1" y="338.4" width="23" height="22.5" fill="#f5cb20"/><rect x="283.1" y="314.7" width="46" height="46.2" fill="none" stroke="#6f6488" stroke-width="0.9" opacity="0.75"/></g></defs>
<path d="M642 77.3 L692.5 43.1 L692.5 690.4 L642 368Z" fill="#efefef"/>
<g clip-path="url(#ia)">
<rect x="35" y="64" width="621.6" height="622.6" fill="#f3dd64"/>
<g fill="none" stroke="#75698a" stroke-width="1.6"><use href="#qg"/><use href="#qg" transform="translate(687.8 0) scale(-1 1)"/><use href="#qg" transform="translate(0 753) scale(1 -1)"/><use href="#qg" transform="translate(687.8 753) scale(-1 -1)"/></g>
<g filter="url(#nz)" fill="#96929b"><use href="#qg"/><use href="#qg" transform="translate(687.8 0) scale(-1 1)"/><use href="#qg" transform="translate(0 753) scale(1 -1)"/><use href="#qg" transform="translate(687.8 753) scale(-1 -1)"/></g>
<use href="#qa"/>
<use href="#qa" transform="translate(687.8 0) scale(-1 1)"/>
<use href="#qa" transform="translate(0 753) scale(1 -1)"/>
<use href="#qa" transform="translate(687.8 753) scale(-1 -1)"/>
</g>
<rect x="354.2" y="79.2" width="285.7" height="286.7" fill="none" stroke="#0a0aff" stroke-width="4.4"/>
<rect x="501" y="614.3" width="63.1" height="63.7" fill="none" stroke="#ff0000" stroke-width="4.4"/>
<rect x="49" y="660.9" width="117" height="8.3" fill="#000"/>
<path d="M692.3 43.6 L642 77.3" fill="none" stroke="#1414ff" stroke-width="2.2" stroke-dasharray="10.5 9"/>
<path d="M692 690 L641.5 368" fill="none" stroke="#1414ff" stroke-width="2.2" stroke-dasharray="10.5 9"/>
</g>
<g id="panel_d">
<defs><linearGradient id="hb" gradientUnits="userSpaceOnUse" x1="127.5" y1="0" x2="598.5" y2="0"/><linearGradient id="h1" href="#hb"><stop offset="0.000" stop-color="#3b6299"/><stop offset="0.100" stop-color="#375a8c"/><stop offset="0.200" stop-color="#375b8d"/><stop offset="0.292" stop-color="#3c659e"/><stop offset="0.350" stop-color="#4675b6"/><stop offset="0.383" stop-color="#5786c0"/><stop offset="0.492" stop-color="#add2e6"/><stop offset="0.550" stop-color="#def2f8"/><stop offset="0.558" stop-color="#e1f2f0"/><stop offset="0.592" stop-color="#f1e8bd"/><stop offset="0.625" stop-color="#f9e49a"/><stop offset="0.650" stop-color="#fddf8b"/><stop offset="0.700" stop-color="#fdc87b"/><stop offset="0.783" stop-color="#fb9c64"/><stop offset="0.833" stop-color="#f78658"/><stop offset="0.892" stop-color="#ec6949"/><stop offset="1.000" stop-color="#e04735"/></linearGradient><linearGradient id="h2" href="#hb"><stop offset="0.000" stop-color="#3a6197"/><stop offset="0.100" stop-color="#37598a"/><stop offset="0.200" stop-color="#37598a"/><stop offset="0.292" stop-color="#3b639b"/><stop offset="0.358" stop-color="#4676b6"/><stop offset="0.392" stop-color="#5887c1"/><stop offset="0.492" stop-color="#a9cfe4"/><stop offset="0.550" stop-color="#d9eef6"/><stop offset="0.558" stop-color="#dff2f6"/><stop offset="0.567" stop-color="#e2f2ef"/><stop offset="0.617" stop-color="#f5e7ad"/><stop offset="0.642" stop-color="#fae395"/><stop offset="0.658" stop-color="#fde08c"/><stop offset="0.708" stop-color="#fdc77a"/><stop offset="0.792" stop-color="#fb9d64"/><stop offset="0.842" stop-color="#f68658"/><stop offset="0.900" stop-color="#ed6c4a"/><stop offset="1.000" stop-color="#e24d39"/></linearGradient><linearGradient id="h3" href="#hb"><stop offset="0.000" stop-color="#3a6096"/><stop offset="0.100" stop-color="#365888"/><stop offset="0.217" stop-color="#37598a"/><stop offset="0.292" stop-color="#3b6198"/><stop offset="0.358" stop-color="#4473b3"/><stop offset="0.383" stop-color="#4e7ebd"/><stop offset="0.433" stop-color="#74a1cc"/><stop offset="0.500" stop-color="#acd1e5"/><stop offset="0.558" stop-color="#dbeff7"/><stop offset="0.567" stop-color="#dff2f5"/><stop offset="0.583" stop-color="#e5f0e5"/><stop offset="0.625" stop-color="#f5e7ac"/><stop offset="0.650" stop-color="#fae395"/><stop offset="0.667" stop-color="#fddf8c"/><stop offset="0.717" stop-color="#fdc67a"/><stop offset="0.800" stop-color="#fb9d64"/><stop offset="0.850" stop-color="#f68658"/><stop offset="0.925" stop-color="#ec6949"/><stop offset="1.000" stop-color="#e4533c"/></linearGradient><linearGradient id="h4" href="#hb"><stop offset="0.000" stop-color="#3a6095"/><stop offset="0.092" stop-color="#365787"/><stop offset="0.217" stop-color="#365888"/><stop offset="0.292" stop-color="#3a5f95"/><stop offset="0.367" stop-color="#4473b3"/><stop offset="0.392" stop-color="#4f7ebd"/><stop offset="0.450" stop-color="#7daad1"/><stop offset="0.508" stop-color="#aed2e6"/><stop offset="0.567" stop-color="#dbf0f7"/><stop offset="0.575" stop-color="#dff2f6"/><stop offset="0.592" stop-color="#e3f1ea"/><stop offset="0.608" stop-color="#eaecd1"/><stop offset="0.625" stop-color="#f3e8b5"/><stop offset="0.650" stop-color="#f9e49a"/><stop offset="0.675" stop-color="#fdde8a"/><stop offset="0.717" stop-color="#fdc87b"/><stop offset="0.850" stop-color="#f88b5a"/><stop offset="0.942" stop-color="#ec6949"/><stop offset="1.000" stop-color="#e65840"/></linearGradient><linearGradient id="h5" href="#hb"><stop offset="0.000" stop-color="#395f94"/><stop offset="0.083" stop-color="#355786"/><stop offset="0.217" stop-color="#355786"/><stop offset="0.292" stop-color="#395e92"/><stop offset="0.375" stop-color="#4573b3"/><stop offset="0.400" stop-color="#507fbd"/><stop offset="0.500" stop-color="#a2cae2"/><stop offset="0.567" stop-color="#d5ebf4"/><stop offset="0.583" stop-color="#ddf1f8"/><stop offset="0.600" stop-color="#e2f2ee"/><stop offset="0.625" stop-color="#f1e8be"/><stop offset="0.658" stop-color="#fae398"/><stop offset="0.683" stop-color="#fddc89"/><stop offset="0.725" stop-color="#fdc87a"/><stop offset="0.850" stop-color="#fa8f5c"/><stop offset="0.958" stop-color="#ec6949"/><stop offset="1.000" stop-color="#e85e43"/></linearGradient><linearGradient id="h6" href="#hb"><stop offset="0.000" stop-color="#395e93"/><stop offset="0.075" stop-color="#355686"/><stop offset="0.208" stop-color="#345584"/><stop offset="0.283" stop-color="#375b8d"/><stop offset="0.383" stop-color="#4574b4"/><stop offset="0.408" stop-color="#5281be"/><stop offset="0.500" stop-color="#9ec7e0"/><stop offset="0.558" stop-color="#cbe4f0"/><stop offset="0.592" stop-color="#dbf0f7"/><stop offset="0.600" stop-color="#dff2f5"/><stop offset="0.608" stop-color="#e3f1eb"/><stop offset="0.625" stop-color="#edeac8"/><stop offset="0.650" stop-color="#f6e6a5"/><stop offset="0.667" stop-color="#fae395"/><stop offset="0.683" stop-color="#fde08c"/><stop offset="0.733" stop-color="#fdc77a"/><stop offset="0.842" stop-color="#fb9660"/><stop offset="0.958" stop-color="#ee6e4c"/><stop offset="1.000" stop-color="#ea6446"/></linearGradient><linearGradient id="h7" href="#hb"><stop offset="0.000" stop-color="#395d91"/><stop offset="0.067" stop-color="#355686"/><stop offset="0.200" stop-color="#345483"/><stop offset="0.283" stop-color="#375a8b"/><stop offset="0.383" stop-color="#4372b2"/><stop offset="0.408" stop-color="#4f7ebd"/><stop offset="0.508" stop-color="#a1c9e1"/><stop offset="0.558" stop-color="#c7e2ef"/><stop offset="0.600" stop-color="#def2f7"/><stop offset="0.608" stop-color="#e2f2ef"/><stop offset="0.633" stop-color="#f0e8c0"/><stop offset="0.658" stop-color="#f8e59f"/><stop offset="0.683" stop-color="#fce18e"/><stop offset="0.733" stop-color="#fdc87b"/><stop offset="0.858" stop-color="#fa915d"/><stop offset="0.967" stop-color="#ee6e4c"/><stop offset="1.000" stop-color="#eb6748"/></linearGradient><linearGradient id="h8" href="#hb"><stop offset="0.000" stop-color="#385d90"/><stop offset="0.067" stop-color="#355685"/><stop offset="0.200" stop-color="#335382"/><stop offset="0.292" stop-color="#375a8b"/><stop offset="0.383" stop-color="#4270af"/><stop offset="0.408" stop-color="#4c7bbc"/><stop offset="0.467" stop-color="#7ba8d0"/><stop offset="0.525" stop-color="#abd0e5"/><stop offset="0.575" stop-color="#cee6f2"/><stop offset="0.600" stop-color="#dcf1f7"/><stop offset="0.608" stop-color="#e0f2f2"/><stop offset="0.617" stop-color="#e4f1e7"/><stop offset="0.642" stop-color="#f2e8b7"/><stop offset="0.667" stop-color="#f9e49a"/><stop offset="0.692" stop-color="#fde08c"/><stop offset="0.742" stop-color="#fdc67a"/><stop offset="0.867" stop-color="#f98e5c"/><stop offset="0.975" stop-color="#ee6f4c"/><stop offset="1.000" stop-color="#ec6a49"/></linearGradient><linearGradient id="h9" href="#hb"><stop offset="0.000" stop-color="#385c8f"/><stop offset="0.067" stop-color="#345584"/><stop offset="0.200" stop-color="#335382"/><stop offset="0.292" stop-color="#365989"/><stop offset="0.383" stop-color="#416ead"/><stop offset="0.417" stop-color="#4f7ebd"/><stop offset="0.517" stop-color="#a0c9e1"/><stop offset="0.567" stop-color="#c6e2ef"/><stop offset="0.600" stop-color="#daeff6"/><stop offset="0.608" stop-color="#dff2f5"/><stop offset="0.617" stop-color="#e2f2ed"/><stop offset="0.642" stop-color="#f2e8bb"/><stop offset="0.667" stop-color="#f8e59d"/><stop offset="0.700" stop-color="#fddd8a"/><stop offset="0.750" stop-color="#fcc479"/><stop offset="0.867" stop-color="#fa8f5c"/><stop offset="0.975" stop-color="#ef714e"/><stop offset="1.000" stop-color="#ed6d4b"/></linearGradient><linearGradient id="h10" href="#hb"><stop offset="0.000" stop-color="#385b8d"/><stop offset="0.075" stop-color="#345483"/><stop offset="0.208" stop-color="#335281"/><stop offset="0.300" stop-color="#365989"/><stop offset="0.383" stop-color="#406caa"/><stop offset="0.417" stop-color="#4b7bbb"/><stop offset="0.475" stop-color="#7aa7cf"/><stop offset="0.533" stop-color="#abd0e5"/><stop offset="0.608" stop-color="#ddf2f8"/><stop offset="0.617" stop-color="#e1f2f1"/><stop offset="0.625" stop-color="#e5f0e4"/><stop offset="0.642" stop-color="#f1e8bf"/><stop offset="0.667" stop-color="#f8e5a0"/><stop offset="0.692" stop-color="#fce18f"/><stop offset="0.750" stop-color="#fdc67a"/><stop offset="0.858" stop-color="#fb935e"/><stop offset="0.950" stop-color="#f27951"/><stop offset="1.000" stop-color="#ef704d"/></linearGradient><linearGradient id="h11" href="#hb"><stop offset="0.000" stop-color="#375a8c"/><stop offset="0.100" stop-color="#325281"/><stop offset="0.242" stop-color="#335382"/><stop offset="0.308" stop-color="#365989"/><stop offset="0.383" stop-color="#3f6aa8"/><stop offset="0.417" stop-color="#4979b9"/><stop offset="0.475" stop-color="#76a3cd"/><stop offset="0.533" stop-color="#a7cde3"/><stop offset="0.600" stop-color="#d5ecf4"/><stop offset="0.617" stop-color="#dff2f5"/><stop offset="0.625" stop-color="#e3f2eb"/><stop offset="0.642" stop-color="#efe9c4"/><stop offset="0.658" stop-color="#f5e7ad"/><stop offset="0.683" stop-color="#fae395"/><stop offset="0.708" stop-color="#fddc89"/><stop offset="0.767" stop-color="#fcc077"/><stop offset="0.858" stop-color="#fb945f"/><stop offset="0.942" stop-color="#f37d53"/><stop offset="1.000" stop-color="#f0744f"/></linearGradient><linearGradient id="h12" href="#hb"><stop offset="0.000" stop-color="#375a8b"/><stop offset="0.117" stop-color="#32517f"/><stop offset="0.267" stop-color="#335483"/><stop offset="0.325" stop-color="#375a8c"/><stop offset="0.392" stop-color="#406ca9"/><stop offset="0.425" stop-color="#4a7abb"/><stop offset="0.483" stop-color="#79a6cf"/><stop offset="0.533" stop-color="#a3cbe2"/><stop offset="0.600" stop-color="#d3eaf3"/><stop offset="0.617" stop-color="#ddf1f8"/><stop offset="0.625" stop-color="#e1f2f0"/><stop offset="0.642" stop-color="#edeac8"/><stop offset="0.658" stop-color="#f4e7b0"/><stop offset="0.683" stop-color="#fae397"/><stop offset="0.725" stop-color="#fdd785"/><stop offset="0.775" stop-color="#fcbd76"/><stop offset="0.858" stop-color="#fb955f"/><stop offset="0.942" stop-color="#f47f54"/><stop offset="1.000" stop-color="#f17750"/></linearGradient><linearGradient id="h13" href="#hb"><stop offset="0.000" stop-color="#37598a"/><stop offset="0.125" stop-color="#31517f"/><stop offset="0.283" stop-color="#345584"/><stop offset="0.333" stop-color="#385c8f"/><stop offset="0.400" stop-color="#416ead"/><stop offset="0.425" stop-color="#4a7abb"/><stop offset="0.483" stop-color="#78a5ce"/><stop offset="0.533" stop-color="#a2cae1"/><stop offset="0.592" stop-color="#cee7f2"/><stop offset="0.617" stop-color="#ddf1f8"/><stop offset="0.625" stop-color="#e1f2f1"/><stop offset="0.642" stop-color="#edeac8"/><stop offset="0.658" stop-color="#f4e7b0"/><stop offset="0.683" stop-color="#fae397"/><stop offset="0.717" stop-color="#fddb88"/><stop offset="0.775" stop-color="#fcbe76"/><stop offset="0.858" stop-color="#fb9660"/><stop offset="0.933" stop-color="#f58155"/><stop offset="1.000" stop-color="#f17851"/></linearGradient><linearGradient id="h14" href="#hb"><stop offset="0.000" stop-color="#37598a"/><stop offset="0.125" stop-color="#31517f"/><stop offset="0.283" stop-color="#345584"/><stop offset="0.333" stop-color="#385c8f"/><stop offset="0.408" stop-color="#4371b1"/><stop offset="0.433" stop-color="#4e7ebd"/><stop offset="0.533" stop-color="#a1c9e1"/><stop offset="0.592" stop-color="#cee7f2"/><stop offset="0.617" stop-color="#ddf1f8"/><stop offset="0.625" stop-color="#e1f2f1"/><stop offset="0.642" stop-color="#edeac8"/><stop offset="0.658" stop-color="#f4e7b0"/><stop offset="0.683" stop-color="#fae397"/><stop offset="0.717" stop-color="#fddb88"/><stop offset="0.783" stop-color="#fcbb75"/><stop offset="0.867" stop-color="#fb945f"/><stop offset="0.950" stop-color="#f47e54"/><stop offset="1.000" stop-color="#f17851"/></linearGradient><linearGradient id="h15" href="#hb"><stop offset="0.000" stop-color="#365989"/><stop offset="0.133" stop-color="#31507f"/><stop offset="0.292" stop-color="#355685"/><stop offset="0.342" stop-color="#395e92"/><stop offset="0.417" stop-color="#4574b5"/><stop offset="0.442" stop-color="#5483bf"/><stop offset="0.533" stop-color="#a0c9e1"/><stop offset="0.592" stop-color="#cee7f2"/><stop offset="0.617" stop-color="#ddf1f8"/><stop offset="0.625" stop-color="#e1f2f1"/><stop offset="0.642" stop-color="#edeac8"/><stop offset="0.658" stop-color="#f4e7b0"/><stop offset="0.683" stop-color="#fae397"/><stop offset="0.717" stop-color="#fddb88"/><stop offset="0.775" stop-color="#fcc077"/><stop offset="0.867" stop-color="#fb955f"/><stop offset="0.942" stop-color="#f48055"/><stop offset="1.000" stop-color="#f27951"/></linearGradient><linearGradient id="h16" href="#hb"><stop offset="0.000" stop-color="#365989"/><stop offset="0.133" stop-color="#31507f"/><stop offset="0.292" stop-color="#355685"/><stop offset="0.342" stop-color="#395e92"/><stop offset="0.417" stop-color="#4574b4"/><stop offset="0.442" stop-color="#5382be"/><stop offset="0.533" stop-color="#9fc8e0"/><stop offset="0.592" stop-color="#cee7f2"/><stop offset="0.617" stop-color="#ddf1f8"/><stop offset="0.625" stop-color="#e1f2f1"/><stop offset="0.642" stop-color="#edeac8"/><stop offset="0.658" stop-color="#f4e7b0"/><stop offset="0.683" stop-color="#fae397"/><stop offset="0.717" stop-color="#fddb88"/><stop offset="0.758" stop-color="#fdca7b"/><stop offset="0.867" stop-color="#fb9660"/><stop offset="0.942" stop-color="#f58155"/><stop offset="1.000" stop-color="#f27951"/></linearGradient><linearGradient id="h17" href="#hb"><stop offset="0.000" stop-color="#365889"/><stop offset="0.142" stop-color="#31507e"/><stop offset="0.292" stop-color="#355685"/><stop offset="0.342" stop-color="#395e92"/><stop offset="0.417" stop-color="#4473b3"/><stop offset="0.442" stop-color="#5281be"/><stop offset="0.533" stop-color="#9ec8e0"/><stop offset="0.592" stop-color="#cee7f2"/><stop offset="0.617" stop-color="#ddf1f8"/><stop offset="0.625" stop-color="#e1f2f1"/><stop offset="0.642" stop-color="#edeac8"/><stop offset="0.658" stop-color="#f4e7b0"/><stop offset="0.683" stop-color="#fae397"/><stop offset="0.717" stop-color="#fddb89"/><stop offset="0.750" stop-color="#fdd07f"/><stop offset="0.867" stop-color="#fb9660"/><stop offset="0.933" stop-color="#f58356"/><stop offset="1.000" stop-color="#f27a52"/></linearGradient><linearGradient id="h18" href="#hb"><stop offset="0.000" stop-color="#365888"/><stop offset="0.150" stop-color="#31507e"/><stop offset="0.300" stop-color="#355786"/><stop offset="0.375" stop-color="#3d659f"/><stop offset="0.425" stop-color="#4776b7"/><stop offset="0.450" stop-color="#5886c0"/><stop offset="0.533" stop-color="#9ec7e0"/><stop offset="0.592" stop-color="#cee7f2"/><stop offset="0.617" stop-color="#ddf1f8"/><stop offset="0.625" stop-color="#e1f2f1"/><stop offset="0.642" stop-color="#edeac8"/><stop offset="0.658" stop-color="#f4e7b0"/><stop offset="0.683" stop-color="#fae397"/><stop offset="0.717" stop-color="#fddc89"/><stop offset="0.750" stop-color="#fdd180"/><stop offset="0.867" stop-color="#fb9761"/><stop offset="0.933" stop-color="#f68457"/><stop offset="1.000" stop-color="#f27a52"/></linearGradient><clipPath id="bc0"><rect x="127.5" y="841.8" width="471" height="117.8"/></clipPath><linearGradient id="h19" href="#hb"><stop offset="0.000" stop-color="#82afd3"/><stop offset="0.050" stop-color="#94bfdc"/><stop offset="0.117" stop-color="#95c0dc"/><stop offset="0.175" stop-color="#8db9d8"/><stop offset="0.300" stop-color="#5684c0"/><stop offset="0.342" stop-color="#4776b7"/><stop offset="0.408" stop-color="#3c649d"/><stop offset="0.467" stop-color="#385d91"/><stop offset="0.567" stop-color="#375a8b"/><stop offset="0.642" stop-color="#3d66a1"/><stop offset="0.717" stop-color="#4979ba"/><stop offset="0.792" stop-color="#6c99c9"/><stop offset="0.867" stop-color="#a6cde3"/><stop offset="0.908" stop-color="#c9e3f0"/><stop offset="0.950" stop-color="#ddf1f8"/><stop offset="0.967" stop-color="#e2f2ef"/><stop offset="1.000" stop-color="#f1e8be"/></linearGradient><linearGradient id="h20" href="#hb"><stop offset="0.000" stop-color="#89b5d6"/><stop offset="0.050" stop-color="#9ac4de"/><stop offset="0.125" stop-color="#9ac4de"/><stop offset="0.175" stop-color="#93bedb"/><stop offset="0.242" stop-color="#77a4ce"/><stop offset="0.308" stop-color="#5987c1"/><stop offset="0.350" stop-color="#4877b8"/><stop offset="0.408" stop-color="#3d67a2"/><stop offset="0.475" stop-color="#395e92"/><stop offset="0.567" stop-color="#375a8b"/><stop offset="0.642" stop-color="#3c649c"/><stop offset="0.725" stop-color="#4877b8"/><stop offset="0.792" stop-color="#6391c5"/><stop offset="0.875" stop-color="#9fc8e0"/><stop offset="0.917" stop-color="#c0deed"/><stop offset="0.967" stop-color="#ddf1f8"/><stop offset="0.983" stop-color="#e3f1eb"/><stop offset="1.000" stop-color="#eaedd2"/></linearGradient><linearGradient id="h21" href="#hb"><stop offset="0.000" stop-color="#8fbbd9"/><stop offset="0.050" stop-color="#a0c9e1"/><stop offset="0.117" stop-color="#a0c9e1"/><stop offset="0.175" stop-color="#99c3dd"/><stop offset="0.242" stop-color="#7eabd1"/><stop offset="0.358" stop-color="#4878b9"/><stop offset="0.408" stop-color="#3f6aa7"/><stop offset="0.500" stop-color="#385d91"/><stop offset="0.583" stop-color="#375b8d"/><stop offset="0.642" stop-color="#3a6197"/><stop offset="0.733" stop-color="#4776b6"/><stop offset="0.792" stop-color="#5a89c1"/><stop offset="0.842" stop-color="#78a5ce"/><stop offset="0.908" stop-color="#aad0e5"/><stop offset="0.983" stop-color="#def2f7"/><stop offset="1.000" stop-color="#e4f1e7"/></linearGradient><linearGradient id="h22" href="#hb"><stop offset="0.000" stop-color="#96c1dc"/><stop offset="0.058" stop-color="#a7cee3"/><stop offset="0.158" stop-color="#a2cae1"/><stop offset="0.217" stop-color="#90bcda"/><stop offset="0.375" stop-color="#4777b7"/><stop offset="0.450" stop-color="#3d659f"/><stop offset="0.517" stop-color="#385d90"/><stop offset="0.600" stop-color="#375b8d"/><stop offset="0.642" stop-color="#395e92"/><stop offset="0.758" stop-color="#4877b8"/><stop offset="0.808" stop-color="#5987c1"/><stop offset="0.858" stop-color="#75a2cd"/><stop offset="0.933" stop-color="#aed2e6"/><stop offset="0.992" stop-color="#daeff6"/><stop offset="1.000" stop-color="#dff2f6"/></linearGradient><linearGradient id="h23" href="#hb"><stop offset="0.000" stop-color="#9dc6df"/><stop offset="0.058" stop-color="#add1e6"/><stop offset="0.158" stop-color="#a8cee4"/><stop offset="0.225" stop-color="#94bfdb"/><stop offset="0.383" stop-color="#4878b9"/><stop offset="0.450" stop-color="#3e68a3"/><stop offset="0.508" stop-color="#395e93"/><stop offset="0.617" stop-color="#375a8b"/><stop offset="0.667" stop-color="#3a6096"/><stop offset="0.758" stop-color="#4473b3"/><stop offset="0.808" stop-color="#4f7fbd"/><stop offset="0.858" stop-color="#6794c7"/><stop offset="0.942" stop-color="#a7cee3"/><stop offset="1.000" stop-color="#d4ebf4"/></linearGradient><linearGradient id="h24" href="#hb"><stop offset="0.000" stop-color="#9fc8e0"/><stop offset="0.058" stop-color="#b0d3e7"/><stop offset="0.167" stop-color="#aad0e5"/><stop offset="0.233" stop-color="#94bfdb"/><stop offset="0.392" stop-color="#4979ba"/><stop offset="0.458" stop-color="#3e69a5"/><stop offset="0.525" stop-color="#3a6095"/><stop offset="0.625" stop-color="#385c8e"/><stop offset="0.708" stop-color="#3e67a3"/><stop offset="0.808" stop-color="#4a7abb"/><stop offset="0.867" stop-color="#6592c6"/><stop offset="0.958" stop-color="#a7cde3"/><stop offset="1.000" stop-color="#c5e1ef"/></linearGradient><linearGradient id="h25" href="#hb"><stop offset="0.000" stop-color="#a2cae1"/><stop offset="0.058" stop-color="#b2d5e8"/><stop offset="0.167" stop-color="#aed2e6"/><stop offset="0.242" stop-color="#94bfdb"/><stop offset="0.325" stop-color="#6d9ac9"/><stop offset="0.400" stop-color="#4a7abb"/><stop offset="0.467" stop-color="#3f6aa7"/><stop offset="0.567" stop-color="#395e93"/><stop offset="0.642" stop-color="#395e92"/><stop offset="0.800" stop-color="#4574b5"/><stop offset="0.842" stop-color="#5180be"/><stop offset="0.900" stop-color="#729fcb"/><stop offset="0.983" stop-color="#a9cfe4"/><stop offset="1.000" stop-color="#b6d7e9"/></linearGradient><linearGradient id="h26" href="#hb"><stop offset="0.000" stop-color="#a5cce3"/><stop offset="0.058" stop-color="#b5d7e9"/><stop offset="0.167" stop-color="#b2d5e8"/><stop offset="0.250" stop-color="#95c0dc"/><stop offset="0.325" stop-color="#729fcc"/><stop offset="0.408" stop-color="#4b7bbb"/><stop offset="0.475" stop-color="#406ba9"/><stop offset="0.567" stop-color="#3a6096"/><stop offset="0.642" stop-color="#3a5f94"/><stop offset="0.817" stop-color="#4574b5"/><stop offset="0.858" stop-color="#5281be"/><stop offset="0.933" stop-color="#7ba8d0"/><stop offset="1.000" stop-color="#a5cce3"/></linearGradient><linearGradient id="h27" href="#hb"><stop offset="0.000" stop-color="#a8cee4"/><stop offset="0.058" stop-color="#b8d9ea"/><stop offset="0.167" stop-color="#b6d8e9"/><stop offset="0.258" stop-color="#95c0dc"/><stop offset="0.333" stop-color="#73a0cc"/><stop offset="0.417" stop-color="#4d7cbc"/><stop offset="0.483" stop-color="#406dab"/><stop offset="0.567" stop-color="#3b6299"/><stop offset="0.658" stop-color="#3a6197"/><stop offset="0.817" stop-color="#4270b0"/><stop offset="0.867" stop-color="#4e7dbc"/><stop offset="0.950" stop-color="#77a4ce"/><stop offset="1.000" stop-color="#95c0dc"/></linearGradient><linearGradient id="h28" href="#hb"><stop offset="0.000" stop-color="#abd0e5"/><stop offset="0.058" stop-color="#bbdbeb"/><stop offset="0.175" stop-color="#b9d9ea"/><stop offset="0.275" stop-color="#93bedb"/><stop offset="0.408" stop-color="#5584bf"/><stop offset="0.458" stop-color="#4675b5"/><stop offset="0.567" stop-color="#3c649c"/><stop offset="0.683" stop-color="#3b6299"/><stop offset="0.825" stop-color="#416ead"/><stop offset="0.883" stop-color="#4c7cbc"/><stop offset="0.967" stop-color="#709dcb"/><stop offset="1.000" stop-color="#86b2d5"/></linearGradient><linearGradient id="h29" href="#hb"><stop offset="0.000" stop-color="#aed2e6"/><stop offset="0.058" stop-color="#bddcec"/><stop offset="0.175" stop-color="#bcdbeb"/><stop offset="0.283" stop-color="#94bfdb"/><stop offset="0.417" stop-color="#5685c0"/><stop offset="0.467" stop-color="#4776b7"/><stop offset="0.567" stop-color="#3d659f"/><stop offset="0.692" stop-color="#3b629a"/><stop offset="0.817" stop-color="#3f6ba8"/><stop offset="0.892" stop-color="#4a7abb"/><stop offset="0.975" stop-color="#6b98c8"/><stop offset="1.000" stop-color="#7ba8d0"/></linearGradient><linearGradient id="h30" href="#hb"><stop offset="0.000" stop-color="#b0d4e7"/><stop offset="0.058" stop-color="#c0deed"/><stop offset="0.175" stop-color="#beddec"/><stop offset="0.283" stop-color="#98c3dd"/><stop offset="0.358" stop-color="#76a3cd"/><stop offset="0.425" stop-color="#5786c0"/><stop offset="0.475" stop-color="#4877b8"/><stop offset="0.567" stop-color="#3d67a1"/><stop offset="0.667" stop-color="#3b639b"/><stop offset="0.775" stop-color="#3e67a2"/><stop offset="0.875" stop-color="#4675b6"/><stop offset="0.958" stop-color="#618fc4"/><stop offset="1.000" stop-color="#77a4ce"/></linearGradient><linearGradient id="h31" href="#hb"><stop offset="0.000" stop-color="#b2d5e8"/><stop offset="0.058" stop-color="#c2dfed"/><stop offset="0.175" stop-color="#c0deed"/><stop offset="0.292" stop-color="#99c4de"/><stop offset="0.358" stop-color="#7ba8d0"/><stop offset="0.425" stop-color="#5b89c2"/><stop offset="0.483" stop-color="#4878b8"/><stop offset="0.567" stop-color="#3e68a4"/><stop offset="0.642" stop-color="#3c649d"/><stop offset="0.758" stop-color="#3d66a1"/><stop offset="0.867" stop-color="#4473b3"/><stop offset="0.933" stop-color="#5785c0"/><stop offset="0.992" stop-color="#6f9cca"/><stop offset="1.000" stop-color="#74a1cc"/></linearGradient><linearGradient id="h32" href="#hb"><stop offset="0.000" stop-color="#b5d7e9"/><stop offset="0.058" stop-color="#c4e0ee"/><stop offset="0.175" stop-color="#c3e0ee"/><stop offset="0.292" stop-color="#9ec7e0"/><stop offset="0.358" stop-color="#80add2"/><stop offset="0.433" stop-color="#5c8ac2"/><stop offset="0.500" stop-color="#4776b7"/><stop offset="0.583" stop-color="#3e68a3"/><stop offset="0.658" stop-color="#3c659e"/><stop offset="0.783" stop-color="#3e68a5"/><stop offset="0.875" stop-color="#4574b5"/><stop offset="0.950" stop-color="#5b8ac2"/><stop offset="1.000" stop-color="#709dcb"/></linearGradient><linearGradient id="h33" href="#hb"><stop offset="0.000" stop-color="#b7d8ea"/><stop offset="0.058" stop-color="#c6e2ef"/><stop offset="0.175" stop-color="#c5e1ef"/><stop offset="0.283" stop-color="#a6cde3"/><stop offset="0.350" stop-color="#8ab6d6"/><stop offset="0.442" stop-color="#5d8bc2"/><stop offset="0.508" stop-color="#4776b7"/><stop offset="0.583" stop-color="#3e69a5"/><stop offset="0.642" stop-color="#3d66a0"/><stop offset="0.783" stop-color="#3e69a5"/><stop offset="0.875" stop-color="#4574b4"/><stop offset="0.942" stop-color="#5786c0"/><stop offset="1.000" stop-color="#6d9ac9"/></linearGradient><linearGradient id="h34" href="#hb"><stop offset="0.000" stop-color="#b9daea"/><stop offset="0.058" stop-color="#c8e3f0"/><stop offset="0.175" stop-color="#c8e3ef"/><stop offset="0.292" stop-color="#a7cee3"/><stop offset="0.350" stop-color="#8ebad9"/><stop offset="0.442" stop-color="#618ec4"/><stop offset="0.517" stop-color="#4777b7"/><stop offset="0.600" stop-color="#3e68a4"/><stop offset="0.750" stop-color="#3e67a3"/><stop offset="0.867" stop-color="#4372b2"/><stop offset="0.933" stop-color="#5483bf"/><stop offset="1.000" stop-color="#6996c8"/></linearGradient><linearGradient id="h35" href="#hb"><stop offset="0.000" stop-color="#bcdbeb"/><stop offset="0.058" stop-color="#cae4f0"/><stop offset="0.183" stop-color="#c9e3f0"/><stop offset="0.300" stop-color="#a9cfe4"/><stop offset="0.350" stop-color="#93bedb"/><stop offset="0.442" stop-color="#6492c5"/><stop offset="0.525" stop-color="#4777b7"/><stop offset="0.608" stop-color="#3e68a4"/><stop offset="0.783" stop-color="#3f69a6"/><stop offset="0.875" stop-color="#4473b3"/><stop offset="0.942" stop-color="#5584bf"/><stop offset="1.000" stop-color="#6693c6"/></linearGradient><linearGradient id="h36" href="#hb"><stop offset="0.000" stop-color="#bddcec"/><stop offset="0.058" stop-color="#cce5f1"/><stop offset="0.183" stop-color="#cbe4f0"/><stop offset="0.300" stop-color="#add2e6"/><stop offset="0.350" stop-color="#97c2dd"/><stop offset="0.450" stop-color="#6491c5"/><stop offset="0.533" stop-color="#4776b7"/><stop offset="0.617" stop-color="#3e68a4"/><stop offset="0.792" stop-color="#3f6aa7"/><stop offset="0.875" stop-color="#4473b3"/><stop offset="0.942" stop-color="#5583bf"/><stop offset="1.000" stop-color="#6390c5"/></linearGradient><clipPath id="bc1"><rect x="127.5" y="959.1" width="471" height="117.8"/></clipPath><linearGradient id="h37" href="#hb"><stop offset="0.000" stop-color="#c2dfee"/><stop offset="0.142" stop-color="#d6ecf5"/><stop offset="0.292" stop-color="#dbf0f7"/><stop offset="0.400" stop-color="#c5e1ee"/><stop offset="0.483" stop-color="#aad0e5"/><stop offset="0.525" stop-color="#95c0dc"/><stop offset="0.617" stop-color="#5685c0"/><stop offset="0.650" stop-color="#4776b7"/><stop offset="0.750" stop-color="#395f94"/><stop offset="0.800" stop-color="#385b8e"/><stop offset="1.000" stop-color="#385b8e"/></linearGradient><linearGradient id="h38" href="#hb"><stop offset="0.000" stop-color="#c6e2ef"/><stop offset="0.150" stop-color="#d9eef6"/><stop offset="0.292" stop-color="#def2f7"/><stop offset="0.400" stop-color="#cae4f0"/><stop offset="0.492" stop-color="#aed3e6"/><stop offset="0.533" stop-color="#98c2dd"/><stop offset="0.592" stop-color="#709dcb"/><stop offset="0.650" stop-color="#4c7cbc"/><stop offset="0.700" stop-color="#406caa"/><stop offset="0.775" stop-color="#395e92"/><stop offset="0.958" stop-color="#375b8c"/><stop offset="1.000" stop-color="#375b8c"/></linearGradient><linearGradient id="h39" href="#hb"><stop offset="0.000" stop-color="#cae4f0"/><stop offset="0.175" stop-color="#def2f8"/><stop offset="0.292" stop-color="#e0f2f3"/><stop offset="0.342" stop-color="#dcf0f7"/><stop offset="0.467" stop-color="#bfddec"/><stop offset="0.525" stop-color="#a7cde3"/><stop offset="0.583" stop-color="#81aed3"/><stop offset="0.633" stop-color="#5f8cc3"/><stop offset="0.675" stop-color="#4978b9"/><stop offset="0.733" stop-color="#3e67a2"/><stop offset="0.783" stop-color="#395e93"/><stop offset="0.917" stop-color="#375a8b"/><stop offset="1.000" stop-color="#375a8b"/></linearGradient><linearGradient id="h40" href="#hb"><stop offset="0.000" stop-color="#cee6f2"/><stop offset="0.150" stop-color="#dff2f7"/><stop offset="0.283" stop-color="#e2f2ee"/><stop offset="0.367" stop-color="#dbf0f7"/><stop offset="0.483" stop-color="#c1deed"/><stop offset="0.533" stop-color="#abd0e5"/><stop offset="0.583" stop-color="#8bb7d7"/><stop offset="0.650" stop-color="#5d8bc3"/><stop offset="0.692" stop-color="#4877b8"/><stop offset="0.750" stop-color="#3d66a0"/><stop offset="0.800" stop-color="#395f93"/><stop offset="0.908" stop-color="#37598a"/><stop offset="1.000" stop-color="#37598a"/></linearGradient><linearGradient id="h41" href="#hb"><stop offset="0.000" stop-color="#d2e9f3"/><stop offset="0.117" stop-color="#dff2f7"/><stop offset="0.275" stop-color="#e4f1e6"/><stop offset="0.383" stop-color="#ddf2f8"/><stop offset="0.492" stop-color="#c6e1ef"/><stop offset="0.542" stop-color="#b0d4e7"/><stop offset="0.583" stop-color="#95c0dc"/><stop offset="0.667" stop-color="#5b89c2"/><stop offset="0.708" stop-color="#4675b5"/><stop offset="0.783" stop-color="#3b6299"/><stop offset="0.892" stop-color="#365989"/><stop offset="1.000" stop-color="#365889"/></linearGradient><linearGradient id="h42" href="#hb"><stop offset="0.000" stop-color="#d5ebf4"/><stop offset="0.083" stop-color="#dff2f7"/><stop offset="0.200" stop-color="#e4f1e7"/><stop offset="0.275" stop-color="#e6efde"/><stop offset="0.333" stop-color="#e4f1e7"/><stop offset="0.417" stop-color="#def2f8"/><stop offset="0.508" stop-color="#c8e3f0"/><stop offset="0.567" stop-color="#acd1e5"/><stop offset="0.642" stop-color="#76a3cd"/><stop offset="0.717" stop-color="#4877b8"/><stop offset="0.775" stop-color="#3d66a1"/><stop offset="0.875" stop-color="#375a8c"/><stop offset="1.000" stop-color="#365989"/></linearGradient><linearGradient id="h43" href="#hb"><stop offset="0.000" stop-color="#d8edf5"/><stop offset="0.050" stop-color="#dff2f6"/><stop offset="0.208" stop-color="#e8eed9"/><stop offset="0.275" stop-color="#eaedd2"/><stop offset="0.342" stop-color="#e7efdd"/><stop offset="0.458" stop-color="#def2f8"/><stop offset="0.525" stop-color="#cbe5f1"/><stop offset="0.583" stop-color="#add1e5"/><stop offset="0.667" stop-color="#76a3cd"/><stop offset="0.742" stop-color="#4979ba"/><stop offset="0.783" stop-color="#406caa"/><stop offset="0.892" stop-color="#395d91"/><stop offset="1.000" stop-color="#375b8d"/></linearGradient><linearGradient id="h44" href="#hb"><stop offset="0.000" stop-color="#dbeff7"/><stop offset="0.025" stop-color="#dff2f6"/><stop offset="0.233" stop-color="#edebca"/><stop offset="0.292" stop-color="#eeeac8"/><stop offset="0.408" stop-color="#e6efe0"/><stop offset="0.492" stop-color="#def2f8"/><stop offset="0.558" stop-color="#c6e2ef"/><stop offset="0.642" stop-color="#95c0dc"/><stop offset="0.767" stop-color="#4a7abb"/><stop offset="0.817" stop-color="#406caa"/><stop offset="0.908" stop-color="#3a6096"/><stop offset="1.000" stop-color="#385d90"/></linearGradient><linearGradient id="h45" href="#hb"><stop offset="0.000" stop-color="#ddf2f8"/><stop offset="0.067" stop-color="#e4f1e6"/><stop offset="0.167" stop-color="#edebcb"/><stop offset="0.258" stop-color="#f1e8bc"/><stop offset="0.333" stop-color="#f0e9c2"/><stop offset="0.433" stop-color="#e8eed9"/><stop offset="0.517" stop-color="#dff2f7"/><stop offset="0.592" stop-color="#c1deed"/><stop offset="0.667" stop-color="#95c0dc"/><stop offset="0.792" stop-color="#4a7abb"/><stop offset="0.867" stop-color="#3f69a6"/><stop offset="0.950" stop-color="#3a6198"/><stop offset="1.000" stop-color="#395f94"/></linearGradient><linearGradient id="h46" href="#hb"><stop offset="0.000" stop-color="#dff2f6"/><stop offset="0.133" stop-color="#eeeac7"/><stop offset="0.242" stop-color="#f3e7b4"/><stop offset="0.325" stop-color="#f3e8b6"/><stop offset="0.417" stop-color="#efeac5"/><stop offset="0.508" stop-color="#e3f1e9"/><stop offset="0.550" stop-color="#dcf1f7"/><stop offset="0.633" stop-color="#badaeb"/><stop offset="0.717" stop-color="#86b3d5"/><stop offset="0.792" stop-color="#5684c0"/><stop offset="0.833" stop-color="#4776b6"/><stop offset="0.917" stop-color="#3d67a2"/><stop offset="1.000" stop-color="#3a6198"/></linearGradient><linearGradient id="h47" href="#hb"><stop offset="0.000" stop-color="#e0f2f3"/><stop offset="0.108" stop-color="#efe9c4"/><stop offset="0.192" stop-color="#f4e7b1"/><stop offset="0.275" stop-color="#f6e7a9"/><stop offset="0.400" stop-color="#f3e7b4"/><stop offset="0.458" stop-color="#efeac5"/><stop offset="0.533" stop-color="#e4f1e8"/><stop offset="0.575" stop-color="#def2f8"/><stop offset="0.633" stop-color="#c9e4f0"/><stop offset="0.717" stop-color="#95c0dc"/><stop offset="0.758" stop-color="#79a6cf"/><stop offset="0.792" stop-color="#618fc4"/><stop offset="0.850" stop-color="#4978b9"/><stop offset="0.917" stop-color="#3f6aa7"/><stop offset="1.000" stop-color="#3c639b"/></linearGradient><linearGradient id="h48" href="#hb"><stop offset="0.000" stop-color="#e1f2f0"/><stop offset="0.083" stop-color="#efeac5"/><stop offset="0.150" stop-color="#f4e7b1"/><stop offset="0.258" stop-color="#f7e5a1"/><stop offset="0.383" stop-color="#f6e6a8"/><stop offset="0.450" stop-color="#f3e8b6"/><stop offset="0.525" stop-color="#e9edd6"/><stop offset="0.575" stop-color="#e2f2ef"/><stop offset="0.617" stop-color="#dcf1f7"/><stop offset="0.667" stop-color="#c3e0ee"/><stop offset="0.733" stop-color="#97c2dd"/><stop offset="0.800" stop-color="#6794c7"/><stop offset="0.875" stop-color="#4776b7"/><stop offset="0.942" stop-color="#3f6aa7"/><stop offset="1.000" stop-color="#3d659f"/></linearGradient><linearGradient id="h49" href="#hb"><stop offset="0.000" stop-color="#e2f2ed"/><stop offset="0.075" stop-color="#eeeac7"/><stop offset="0.150" stop-color="#f4e7af"/><stop offset="0.258" stop-color="#f8e59f"/><stop offset="0.367" stop-color="#f7e6a4"/><stop offset="0.442" stop-color="#f3e7b3"/><stop offset="0.517" stop-color="#ebeccf"/><stop offset="0.583" stop-color="#e1f2f0"/><stop offset="0.617" stop-color="#ddf1f7"/><stop offset="0.675" stop-color="#c1deed"/><stop offset="0.742" stop-color="#94bfdb"/><stop offset="0.800" stop-color="#6c99c9"/><stop offset="0.875" stop-color="#4979ba"/><stop offset="0.942" stop-color="#406caa"/><stop offset="1.000" stop-color="#3e68a4"/></linearGradient><linearGradient id="h50" href="#hb"><stop offset="0.000" stop-color="#e3f1e9"/><stop offset="0.083" stop-color="#f0e9c2"/><stop offset="0.175" stop-color="#f6e6a8"/><stop offset="0.267" stop-color="#f8e59d"/><stop offset="0.367" stop-color="#f7e5a1"/><stop offset="0.450" stop-color="#f3e7b5"/><stop offset="0.525" stop-color="#eaecd1"/><stop offset="0.592" stop-color="#e1f2f1"/><stop offset="0.617" stop-color="#ddf1f8"/><stop offset="0.683" stop-color="#bfddec"/><stop offset="0.750" stop-color="#91bdda"/><stop offset="0.817" stop-color="#6794c7"/><stop offset="0.883" stop-color="#4979ba"/><stop offset="0.967" stop-color="#406caa"/><stop offset="1.000" stop-color="#3f6aa8"/></linearGradient><linearGradient id="h51" href="#hb"><stop offset="0.000" stop-color="#e5f0e5"/><stop offset="0.092" stop-color="#f1e8bd"/><stop offset="0.200" stop-color="#f7e5a2"/><stop offset="0.300" stop-color="#f9e49a"/><stop offset="0.375" stop-color="#f8e5a0"/><stop offset="0.492" stop-color="#f0e9c1"/><stop offset="0.600" stop-color="#e0f2f3"/><stop offset="0.617" stop-color="#ddf2f8"/><stop offset="0.683" stop-color="#c1dfed"/><stop offset="0.767" stop-color="#89b6d6"/><stop offset="0.842" stop-color="#5f8cc3"/><stop offset="0.892" stop-color="#4979ba"/><stop offset="0.983" stop-color="#416eac"/><stop offset="1.000" stop-color="#416dac"/></linearGradient><linearGradient id="h52" href="#hb"><stop offset="0.000" stop-color="#e6f0e0"/><stop offset="0.100" stop-color="#f2e8b9"/><stop offset="0.208" stop-color="#f8e59f"/><stop offset="0.325" stop-color="#f9e498"/><stop offset="0.383" stop-color="#f8e5a0"/><stop offset="0.517" stop-color="#edebc9"/><stop offset="0.608" stop-color="#dff2f5"/><stop offset="0.625" stop-color="#dbf0f7"/><stop offset="0.683" stop-color="#c4e0ee"/><stop offset="0.783" stop-color="#83b0d4"/><stop offset="0.850" stop-color="#5e8cc3"/><stop offset="0.900" stop-color="#4a7abb"/><stop offset="1.000" stop-color="#4270b0"/></linearGradient><linearGradient id="h53" href="#hb"><stop offset="0.000" stop-color="#e7efdc"/><stop offset="0.100" stop-color="#f2e8b8"/><stop offset="0.208" stop-color="#f8e49d"/><stop offset="0.333" stop-color="#fae396"/><stop offset="0.392" stop-color="#f8e5a0"/><stop offset="0.525" stop-color="#edebca"/><stop offset="0.583" stop-color="#e3f1e9"/><stop offset="0.617" stop-color="#def2f8"/><stop offset="0.683" stop-color="#c7e2ef"/><stop offset="0.775" stop-color="#8cb8d8"/><stop offset="0.858" stop-color="#5e8cc3"/><stop offset="0.908" stop-color="#4c7cbc"/><stop offset="1.000" stop-color="#4473b3"/></linearGradient><linearGradient id="h54" href="#hb"><stop offset="0.000" stop-color="#e8eed8"/><stop offset="0.125" stop-color="#f4e7af"/><stop offset="0.208" stop-color="#f9e49b"/><stop offset="0.342" stop-color="#fae395"/><stop offset="0.400" stop-color="#f7e5a1"/><stop offset="0.533" stop-color="#ecebcc"/><stop offset="0.575" stop-color="#e6f0e1"/><stop offset="0.600" stop-color="#e1f2f1"/><stop offset="0.617" stop-color="#def2f7"/><stop offset="0.683" stop-color="#c9e4f0"/><stop offset="0.767" stop-color="#94bfdb"/><stop offset="0.867" stop-color="#5e8cc3"/><stop offset="0.917" stop-color="#4e7dbc"/><stop offset="1.000" stop-color="#4776b7"/></linearGradient><clipPath id="bc2"><rect x="127.5" y="1076.4" width="471" height="118.7"/></clipPath><linearGradient id="h55" href="#hb"><stop offset="0.000" stop-color="#9cc6df"/><stop offset="0.142" stop-color="#a5cce3"/><stop offset="0.192" stop-color="#b1d4e7"/><stop offset="0.267" stop-color="#d5ebf4"/><stop offset="0.283" stop-color="#def2f8"/><stop offset="0.383" stop-color="#e9edd4"/><stop offset="0.442" stop-color="#ecebcb"/><stop offset="0.533" stop-color="#eaedd2"/><stop offset="0.567" stop-color="#e7efdb"/><stop offset="0.592" stop-color="#dff2f5"/><stop offset="0.600" stop-color="#d8eef6"/><stop offset="0.625" stop-color="#aed2e6"/><stop offset="0.658" stop-color="#83b0d3"/><stop offset="0.692" stop-color="#6492c5"/><stop offset="0.742" stop-color="#4777b7"/><stop offset="0.792" stop-color="#3e68a4"/><stop offset="0.892" stop-color="#37598b"/><stop offset="1.000" stop-color="#335382"/></linearGradient><linearGradient id="h56" href="#hb"><stop offset="0.000" stop-color="#9cc6df"/><stop offset="0.142" stop-color="#a5cce3"/><stop offset="0.192" stop-color="#b0d4e7"/><stop offset="0.258" stop-color="#d1e8f3"/><stop offset="0.275" stop-color="#dcf0f7"/><stop offset="0.300" stop-color="#e2f2ed"/><stop offset="0.333" stop-color="#e8eed8"/><stop offset="0.408" stop-color="#f0e9c1"/><stop offset="0.475" stop-color="#f1e8be"/><stop offset="0.558" stop-color="#edebcb"/><stop offset="0.575" stop-color="#e9edd4"/><stop offset="0.600" stop-color="#e1f2f1"/><stop offset="0.608" stop-color="#daeff6"/><stop offset="0.667" stop-color="#9ac4de"/><stop offset="0.750" stop-color="#6390c5"/><stop offset="0.800" stop-color="#4a7abb"/><stop offset="0.867" stop-color="#3f69a6"/><stop offset="0.975" stop-color="#375a8c"/><stop offset="1.000" stop-color="#365888"/></linearGradient><linearGradient id="h57" href="#hb"><stop offset="0.000" stop-color="#9cc6df"/><stop offset="0.142" stop-color="#a5cce3"/><stop offset="0.192" stop-color="#b0d4e7"/><stop offset="0.250" stop-color="#cce5f1"/><stop offset="0.275" stop-color="#def2f8"/><stop offset="0.292" stop-color="#e2f2ee"/><stop offset="0.325" stop-color="#ebecd0"/><stop offset="0.383" stop-color="#f2e8ba"/><stop offset="0.442" stop-color="#f4e7b1"/><stop offset="0.533" stop-color="#f2e8b9"/><stop offset="0.567" stop-color="#f0e8c0"/><stop offset="0.592" stop-color="#eaedd3"/><stop offset="0.617" stop-color="#e0f2f3"/><stop offset="0.625" stop-color="#dcf1f7"/><stop offset="0.725" stop-color="#95c0dc"/><stop offset="0.842" stop-color="#5483bf"/><stop offset="0.883" stop-color="#4473b3"/><stop offset="1.000" stop-color="#3a5f95"/></linearGradient><linearGradient id="h58" href="#hb"><stop offset="0.000" stop-color="#9cc6df"/><stop offset="0.142" stop-color="#a5cce3"/><stop offset="0.192" stop-color="#b0d4e7"/><stop offset="0.250" stop-color="#cce5f1"/><stop offset="0.275" stop-color="#dff2f7"/><stop offset="0.292" stop-color="#e4f1e7"/><stop offset="0.317" stop-color="#edebcb"/><stop offset="0.350" stop-color="#f2e8b9"/><stop offset="0.417" stop-color="#f6e6a7"/><stop offset="0.483" stop-color="#f6e6a6"/><stop offset="0.575" stop-color="#f2e8b7"/><stop offset="0.600" stop-color="#eeeac6"/><stop offset="0.650" stop-color="#e1f2f0"/><stop offset="0.667" stop-color="#ddf1f7"/><stop offset="0.783" stop-color="#93bedb"/><stop offset="0.892" stop-color="#5181be"/><stop offset="0.925" stop-color="#4675b5"/><stop offset="1.000" stop-color="#3d66a1"/></linearGradient><linearGradient id="h59" href="#hb"><stop offset="0.000" stop-color="#9bc5df"/><stop offset="0.133" stop-color="#a4cce2"/><stop offset="0.192" stop-color="#b0d4e7"/><stop offset="0.250" stop-color="#cce5f1"/><stop offset="0.267" stop-color="#dbeff7"/><stop offset="0.275" stop-color="#dff2f5"/><stop offset="0.283" stop-color="#e2f2ee"/><stop offset="0.308" stop-color="#ecebcd"/><stop offset="0.325" stop-color="#f1e8be"/><stop offset="0.392" stop-color="#f7e6a5"/><stop offset="0.450" stop-color="#f9e49c"/><stop offset="0.533" stop-color="#f7e5a3"/><stop offset="0.583" stop-color="#f5e7ae"/><stop offset="0.633" stop-color="#eeeac6"/><stop offset="0.692" stop-color="#e1f2f1"/><stop offset="0.708" stop-color="#dcf0f7"/><stop offset="0.808" stop-color="#9fc8e0"/><stop offset="0.908" stop-color="#6491c5"/><stop offset="0.975" stop-color="#4878b9"/><stop offset="1.000" stop-color="#4472b2"/></linearGradient><linearGradient id="h60" href="#hb"><stop offset="0.000" stop-color="#9ac4de"/><stop offset="0.125" stop-color="#a3cbe2"/><stop offset="0.192" stop-color="#b0d4e7"/><stop offset="0.250" stop-color="#cce6f1"/><stop offset="0.267" stop-color="#dcf0f7"/><stop offset="0.275" stop-color="#e0f2f3"/><stop offset="0.292" stop-color="#e6efde"/><stop offset="0.317" stop-color="#f0e9c0"/><stop offset="0.358" stop-color="#f5e7aa"/><stop offset="0.425" stop-color="#f9e498"/><stop offset="0.508" stop-color="#fae397"/><stop offset="0.583" stop-color="#f7e5a1"/><stop offset="0.650" stop-color="#f2e8ba"/><stop offset="0.708" stop-color="#e5f0e2"/><stop offset="0.733" stop-color="#e0f2f3"/><stop offset="0.750" stop-color="#dbf0f7"/><stop offset="0.883" stop-color="#8ebad9"/><stop offset="0.992" stop-color="#5988c1"/><stop offset="1.000" stop-color="#5685c0"/></linearGradient><linearGradient id="h61" href="#hb"><stop offset="0.000" stop-color="#99c3dd"/><stop offset="0.117" stop-color="#a1cae1"/><stop offset="0.192" stop-color="#b0d4e7"/><stop offset="0.242" stop-color="#c7e2ef"/><stop offset="0.267" stop-color="#ddf1f7"/><stop offset="0.275" stop-color="#e0f2f2"/><stop offset="0.308" stop-color="#efe9c4"/><stop offset="0.342" stop-color="#f5e7ad"/><stop offset="0.400" stop-color="#f9e498"/><stop offset="0.483" stop-color="#fce18f"/><stop offset="0.592" stop-color="#fae396"/><stop offset="0.650" stop-color="#f7e6a5"/><stop offset="0.717" stop-color="#efeac5"/><stop offset="0.758" stop-color="#e5f0e3"/><stop offset="0.783" stop-color="#dff2f5"/><stop offset="0.800" stop-color="#d8eef6"/><stop offset="0.925" stop-color="#95c0dc"/><stop offset="1.000" stop-color="#6d9ac9"/></linearGradient><linearGradient id="h62" href="#hb"><stop offset="0.000" stop-color="#98c2dd"/><stop offset="0.117" stop-color="#a1c9e1"/><stop offset="0.192" stop-color="#b0d4e7"/><stop offset="0.242" stop-color="#c7e2ef"/><stop offset="0.267" stop-color="#def2f8"/><stop offset="0.275" stop-color="#e1f2f0"/><stop offset="0.300" stop-color="#edeac9"/><stop offset="0.325" stop-color="#f3e7b3"/><stop offset="0.375" stop-color="#f9e49a"/><stop offset="0.475" stop-color="#fddb88"/><stop offset="0.583" stop-color="#fddf8b"/><stop offset="0.675" stop-color="#fae398"/><stop offset="0.742" stop-color="#f4e7b1"/><stop offset="0.775" stop-color="#edebc9"/><stop offset="0.817" stop-color="#e2f2ef"/><stop offset="0.833" stop-color="#def2f8"/><stop offset="0.925" stop-color="#b1d4e7"/><stop offset="0.992" stop-color="#89b5d6"/><stop offset="1.000" stop-color="#85b1d4"/></linearGradient><linearGradient id="h63" href="#hb"><stop offset="0.000" stop-color="#97c1dd"/><stop offset="0.117" stop-color="#a0c9e1"/><stop offset="0.192" stop-color="#b0d3e7"/><stop offset="0.242" stop-color="#c7e2ef"/><stop offset="0.267" stop-color="#def2f8"/><stop offset="0.275" stop-color="#e1f2ef"/><stop offset="0.300" stop-color="#eeeac5"/><stop offset="0.325" stop-color="#f4e7b0"/><stop offset="0.367" stop-color="#f9e499"/><stop offset="0.433" stop-color="#fddd8a"/><stop offset="0.500" stop-color="#fdd382"/><stop offset="0.633" stop-color="#fdd886"/><stop offset="0.700" stop-color="#fce191"/><stop offset="0.750" stop-color="#f8e59f"/><stop offset="0.808" stop-color="#eeeac7"/><stop offset="0.850" stop-color="#e3f2ec"/><stop offset="0.875" stop-color="#def2f7"/><stop offset="0.925" stop-color="#c7e2ef"/><stop offset="1.000" stop-color="#98c2dd"/></linearGradient><linearGradient id="h64" href="#hb"><stop offset="0.000" stop-color="#97c1dd"/><stop offset="0.117" stop-color="#9fc8e0"/><stop offset="0.183" stop-color="#acd1e5"/><stop offset="0.242" stop-color="#c7e2ef"/><stop offset="0.267" stop-color="#def2f8"/><stop offset="0.275" stop-color="#e2f2ef"/><stop offset="0.300" stop-color="#efe9c4"/><stop offset="0.333" stop-color="#f6e6a8"/><stop offset="0.367" stop-color="#fae397"/><stop offset="0.425" stop-color="#fdde8a"/><stop offset="0.500" stop-color="#fdd180"/><stop offset="0.583" stop-color="#fdd080"/><stop offset="0.683" stop-color="#fdde8b"/><stop offset="0.750" stop-color="#f9e499"/><stop offset="0.817" stop-color="#f0e8c0"/><stop offset="0.883" stop-color="#e1f2f0"/><stop offset="0.900" stop-color="#def2f7"/><stop offset="1.000" stop-color="#a8cee4"/></linearGradient><linearGradient id="h65" href="#hb"><stop offset="0.000" stop-color="#97c1dd"/><stop offset="0.125" stop-color="#a0c8e0"/><stop offset="0.183" stop-color="#aad0e5"/><stop offset="0.242" stop-color="#c7e2ef"/><stop offset="0.267" stop-color="#def2f8"/><stop offset="0.275" stop-color="#e2f2ef"/><stop offset="0.300" stop-color="#f0e9c2"/><stop offset="0.342" stop-color="#f7e5a1"/><stop offset="0.383" stop-color="#fce191"/><stop offset="0.433" stop-color="#fdd987"/><stop offset="0.542" stop-color="#fdcb7c"/><stop offset="0.617" stop-color="#fdd080"/><stop offset="0.725" stop-color="#fce18f"/><stop offset="0.775" stop-color="#f8e59e"/><stop offset="0.858" stop-color="#ecebcd"/><stop offset="0.908" stop-color="#e1f2f0"/><stop offset="0.925" stop-color="#def2f8"/><stop offset="1.000" stop-color="#b9daea"/></linearGradient><linearGradient id="h66" href="#hb"><stop offset="0.000" stop-color="#97c1dd"/><stop offset="0.133" stop-color="#a0c8e0"/><stop offset="0.183" stop-color="#a9cfe4"/><stop offset="0.242" stop-color="#c7e2ef"/><stop offset="0.267" stop-color="#def2f8"/><stop offset="0.275" stop-color="#e2f2ef"/><stop offset="0.292" stop-color="#ececcd"/><stop offset="0.300" stop-color="#f0e9c1"/><stop offset="0.342" stop-color="#f8e59f"/><stop offset="0.383" stop-color="#fce18f"/><stop offset="0.508" stop-color="#fdcc7d"/><stop offset="0.575" stop-color="#fdc97b"/><stop offset="0.733" stop-color="#fde08d"/><stop offset="0.800" stop-color="#f8e5a0"/><stop offset="0.867" stop-color="#f0e8c0"/><stop offset="0.933" stop-color="#e1f2f0"/><stop offset="0.950" stop-color="#def2f7"/><stop offset="1.000" stop-color="#c9e3f0"/></linearGradient><linearGradient id="h67" href="#hb"><stop offset="0.000" stop-color="#97c1dd"/><stop offset="0.142" stop-color="#a0c8e0"/><stop offset="0.192" stop-color="#abd0e5"/><stop offset="0.242" stop-color="#c7e2ef"/><stop offset="0.267" stop-color="#def2f8"/><stop offset="0.275" stop-color="#e2f2ee"/><stop offset="0.292" stop-color="#ecebcc"/><stop offset="0.300" stop-color="#f1e8bf"/><stop offset="0.342" stop-color="#f8e59d"/><stop offset="0.383" stop-color="#fde08d"/><stop offset="0.508" stop-color="#fdca7c"/><stop offset="0.575" stop-color="#fdc67a"/><stop offset="0.742" stop-color="#fdde8a"/><stop offset="0.825" stop-color="#f8e59f"/><stop offset="0.883" stop-color="#f2e8bb"/><stop offset="0.967" stop-color="#e1f2f1"/><stop offset="0.983" stop-color="#def2f8"/><stop offset="1.000" stop-color="#d7edf5"/></linearGradient><linearGradient id="h68" href="#hb"><stop offset="0.000" stop-color="#97c1dd"/><stop offset="0.142" stop-color="#a0c8e0"/><stop offset="0.192" stop-color="#abd0e5"/><stop offset="0.250" stop-color="#cde6f1"/><stop offset="0.267" stop-color="#def2f8"/><stop offset="0.275" stop-color="#e2f2ee"/><stop offset="0.292" stop-color="#edebca"/><stop offset="0.300" stop-color="#f1e8be"/><stop offset="0.342" stop-color="#f9e49c"/><stop offset="0.392" stop-color="#fdde8a"/><stop offset="0.508" stop-color="#fdca7b"/><stop offset="0.575" stop-color="#fdc67a"/><stop offset="0.708" stop-color="#fdd684"/><stop offset="0.775" stop-color="#fce190"/><stop offset="0.842" stop-color="#f7e6a4"/><stop offset="0.900" stop-color="#f0e9c2"/><stop offset="0.975" stop-color="#e0f2f2"/><stop offset="0.992" stop-color="#ddf1f8"/><stop offset="1.000" stop-color="#daeff6"/></linearGradient><linearGradient id="h69" href="#hb"><stop offset="0.000" stop-color="#97c1dd"/><stop offset="0.142" stop-color="#a0c8e0"/><stop offset="0.192" stop-color="#abd0e5"/><stop offset="0.250" stop-color="#cde6f1"/><stop offset="0.267" stop-color="#def2f8"/><stop offset="0.275" stop-color="#e2f2ed"/><stop offset="0.292" stop-color="#edeac9"/><stop offset="0.308" stop-color="#f3e7b5"/><stop offset="0.350" stop-color="#fae397"/><stop offset="0.400" stop-color="#fddb88"/><stop offset="0.525" stop-color="#fdc77a"/><stop offset="0.583" stop-color="#fdc67a"/><stop offset="0.700" stop-color="#fdd483"/><stop offset="0.775" stop-color="#fce190"/><stop offset="0.850" stop-color="#f6e6a6"/><stop offset="0.917" stop-color="#edeac9"/><stop offset="0.983" stop-color="#e0f2f2"/><stop offset="1.000" stop-color="#ddf1f7"/></linearGradient><linearGradient id="h70" href="#hb"><stop offset="0.000" stop-color="#97c1dd"/><stop offset="0.142" stop-color="#a0c8e0"/><stop offset="0.192" stop-color="#abd0e5"/><stop offset="0.250" stop-color="#cde6f1"/><stop offset="0.267" stop-color="#def2f8"/><stop offset="0.275" stop-color="#e2f2ed"/><stop offset="0.292" stop-color="#eeeac7"/><stop offset="0.308" stop-color="#f3e7b4"/><stop offset="0.342" stop-color="#f9e49a"/><stop offset="0.392" stop-color="#fddc89"/><stop offset="0.500" stop-color="#fdca7b"/><stop offset="0.575" stop-color="#fdc479"/><stop offset="0.692" stop-color="#fdd180"/><stop offset="0.775" stop-color="#fce18f"/><stop offset="0.850" stop-color="#f7e6a5"/><stop offset="0.925" stop-color="#edebc9"/><stop offset="0.992" stop-color="#e0f2f3"/><stop offset="1.000" stop-color="#dff2f7"/></linearGradient><linearGradient id="h71" href="#hb"><stop offset="0.000" stop-color="#97c1dd"/><stop offset="0.142" stop-color="#a0c8e0"/><stop offset="0.192" stop-color="#abd0e5"/><stop offset="0.250" stop-color="#cde6f1"/><stop offset="0.267" stop-color="#def2f8"/><stop offset="0.275" stop-color="#e2f2ec"/><stop offset="0.292" stop-color="#eeeac5"/><stop offset="0.317" stop-color="#f5e7ab"/><stop offset="0.350" stop-color="#fae396"/><stop offset="0.392" stop-color="#fddc89"/><stop offset="0.492" stop-color="#fdca7c"/><stop offset="0.575" stop-color="#fcc479"/><stop offset="0.692" stop-color="#fdd080"/><stop offset="0.775" stop-color="#fce18f"/><stop offset="0.858" stop-color="#f6e6a6"/><stop offset="0.925" stop-color="#efeac5"/><stop offset="1.000" stop-color="#e0f2f4"/></linearGradient><linearGradient id="h72" href="#hb"><stop offset="0.000" stop-color="#97c1dd"/><stop offset="0.142" stop-color="#a0c8e0"/><stop offset="0.192" stop-color="#abd0e5"/><stop offset="0.250" stop-color="#cde6f1"/><stop offset="0.267" stop-color="#def2f8"/><stop offset="0.275" stop-color="#e3f2ec"/><stop offset="0.292" stop-color="#efe9c4"/><stop offset="0.317" stop-color="#f5e7aa"/><stop offset="0.350" stop-color="#fae395"/><stop offset="0.383" stop-color="#fddd8a"/><stop offset="0.475" stop-color="#fdcb7c"/><stop offset="0.575" stop-color="#fcc379"/><stop offset="0.692" stop-color="#fdce7f"/><stop offset="0.775" stop-color="#fce18e"/><stop offset="0.858" stop-color="#f7e6a5"/><stop offset="0.933" stop-color="#efeac5"/><stop offset="1.000" stop-color="#e1f2f1"/></linearGradient><clipPath id="bc3"><rect x="127.5" y="1194.6" width="471" height="114.2"/></clipPath><filter id="vb" x="-5%" y="-5%" width="110%" height="110%" color-interpolation-filters="sRGB"><feGaussianBlur stdDeviation="0 4.56"/></filter><linearGradient id="cb" x1="0" y1="0" x2="0" y2="1"><stop offset="0.000" stop-color="#9C2420"/><stop offset="0.050" stop-color="#B32823"/><stop offset="0.100" stop-color="#CB2D26"/><stop offset="0.125" stop-color="#D6322A"/><stop offset="0.150" stop-color="#DC3B2E"/><stop offset="0.200" stop-color="#E5573F"/><stop offset="0.250" stop-color="#F0744F"/><stop offset="0.300" stop-color="#FB935E"/><stop offset="0.350" stop-color="#FBB070"/><stop offset="0.400" stop-color="#FDCB7C"/><stop offset="0.425" stop-color="#FDE08C"/><stop offset="0.450" stop-color="#F9E49A"/><stop offset="0.475" stop-color="#F5E7AC"/><stop offset="0.500" stop-color="#F1E8BE"/><stop offset="0.530" stop-color="#E8EED8"/><stop offset="0.555" stop-color="#E2F2EE"/><stop offset="0.575" stop-color="#DEF2F8"/><stop offset="0.600" stop-color="#D2E9F3"/><stop offset="0.650" stop-color="#B8D9EA"/><stop offset="0.700" stop-color="#9CC6DF"/><stop offset="0.750" stop-color="#82AFD3"/><stop offset="0.800" stop-color="#6693C6"/><stop offset="0.850" stop-color="#4A7ABB"/><stop offset="0.875" stop-color="#4270B0"/><stop offset="0.900" stop-color="#3E68A4"/><stop offset="0.950" stop-color="#365888"/><stop offset="1.000" stop-color="#2E4B78"/></linearGradient></defs>
<g clip-path="url(#bc0)"><g filter="url(#vb)"><rect x="119.5" y="828.77" width="487" height="7.02" fill="url(#h1)"/><rect x="119.5" y="835.28" width="487" height="7.02" fill="url(#h1)"/><rect x="119.5" y="841.8" width="487" height="7.02" fill="url(#h1)"/><rect x="119.5" y="848.32" width="487" height="7.02" fill="url(#h2)"/><rect x="119.5" y="854.83" width="487" height="7.02" fill="url(#h3)"/><rect x="119.5" y="861.35" width="487" height="7.02" fill="url(#h4)"/><rect x="119.5" y="867.87" width="487" height="7.02" fill="url(#h5)"/><rect x="119.5" y="874.38" width="487" height="7.02" fill="url(#h6)"/><rect x="119.5" y="880.9" width="487" height="7.02" fill="url(#h7)"/><rect x="119.5" y="887.42" width="487" height="7.02" fill="url(#h8)"/><rect x="119.5" y="893.93" width="487" height="7.02" fill="url(#h9)"/><rect x="119.5" y="900.45" width="487" height="7.02" fill="url(#h10)"/><rect x="119.5" y="906.97" width="487" height="7.02" fill="url(#h11)"/><rect x="119.5" y="913.48" width="487" height="7.02" fill="url(#h12)"/><rect x="119.5" y="920" width="487" height="7.02" fill="url(#h13)"/><rect x="119.5" y="926.52" width="487" height="7.02" fill="url(#h14)"/><rect x="119.5" y="933.03" width="487" height="7.02" fill="url(#h15)"/><rect x="119.5" y="939.55" width="487" height="7.02" fill="url(#h16)"/><rect x="119.5" y="946.07" width="487" height="7.02" fill="url(#h17)"/><rect x="119.5" y="952.58" width="487" height="7.02" fill="url(#h18)"/><rect x="119.5" y="959.1" width="487" height="7.02" fill="url(#h18)"/><rect x="119.5" y="965.62" width="487" height="7.02" fill="url(#h18)"/></g></g>
<g clip-path="url(#bc1)"><g filter="url(#vb)"><rect x="119.5" y="946.07" width="487" height="7.02" fill="url(#h19)"/><rect x="119.5" y="952.58" width="487" height="7.02" fill="url(#h19)"/><rect x="119.5" y="959.1" width="487" height="7.02" fill="url(#h19)"/><rect x="119.5" y="965.62" width="487" height="7.02" fill="url(#h20)"/><rect x="119.5" y="972.13" width="487" height="7.02" fill="url(#h21)"/><rect x="119.5" y="978.65" width="487" height="7.02" fill="url(#h22)"/><rect x="119.5" y="985.17" width="487" height="7.02" fill="url(#h23)"/><rect x="119.5" y="991.68" width="487" height="7.02" fill="url(#h24)"/><rect x="119.5" y="998.2" width="487" height="7.02" fill="url(#h25)"/><rect x="119.5" y="1004.72" width="487" height="7.02" fill="url(#h26)"/><rect x="119.5" y="1011.23" width="487" height="7.02" fill="url(#h27)"/><rect x="119.5" y="1017.75" width="487" height="7.02" fill="url(#h28)"/><rect x="119.5" y="1024.27" width="487" height="7.02" fill="url(#h29)"/><rect x="119.5" y="1030.78" width="487" height="7.02" fill="url(#h30)"/><rect x="119.5" y="1037.3" width="487" height="7.02" fill="url(#h31)"/><rect x="119.5" y="1043.82" width="487" height="7.02" fill="url(#h32)"/><rect x="119.5" y="1050.33" width="487" height="7.02" fill="url(#h33)"/><rect x="119.5" y="1056.85" width="487" height="7.02" fill="url(#h34)"/><rect x="119.5" y="1063.37" width="487" height="7.02" fill="url(#h35)"/><rect x="119.5" y="1069.88" width="487" height="7.02" fill="url(#h36)"/><rect x="119.5" y="1076.4" width="487" height="7.02" fill="url(#h36)"/><rect x="119.5" y="1082.92" width="487" height="7.02" fill="url(#h36)"/></g></g>
<g clip-path="url(#bc2)"><g filter="url(#vb)"><rect x="119.5" y="1063.27" width="487" height="7.07" fill="url(#h37)"/><rect x="119.5" y="1069.83" width="487" height="7.07" fill="url(#h37)"/><rect x="119.5" y="1076.4" width="487" height="7.07" fill="url(#h37)"/><rect x="119.5" y="1082.97" width="487" height="7.07" fill="url(#h38)"/><rect x="119.5" y="1089.53" width="487" height="7.07" fill="url(#h39)"/><rect x="119.5" y="1096.1" width="487" height="7.07" fill="url(#h40)"/><rect x="119.5" y="1102.67" width="487" height="7.07" fill="url(#h41)"/><rect x="119.5" y="1109.23" width="487" height="7.07" fill="url(#h42)"/><rect x="119.5" y="1115.8" width="487" height="7.07" fill="url(#h43)"/><rect x="119.5" y="1122.37" width="487" height="7.07" fill="url(#h44)"/><rect x="119.5" y="1128.93" width="487" height="7.07" fill="url(#h45)"/><rect x="119.5" y="1135.5" width="487" height="7.07" fill="url(#h46)"/><rect x="119.5" y="1142.07" width="487" height="7.07" fill="url(#h47)"/><rect x="119.5" y="1148.63" width="487" height="7.07" fill="url(#h48)"/><rect x="119.5" y="1155.2" width="487" height="7.07" fill="url(#h49)"/><rect x="119.5" y="1161.77" width="487" height="7.07" fill="url(#h50)"/><rect x="119.5" y="1168.33" width="487" height="7.07" fill="url(#h51)"/><rect x="119.5" y="1174.9" width="487" height="7.07" fill="url(#h52)"/><rect x="119.5" y="1181.47" width="487" height="7.07" fill="url(#h53)"/><rect x="119.5" y="1188.03" width="487" height="7.07" fill="url(#h54)"/><rect x="119.5" y="1194.6" width="487" height="7.07" fill="url(#h54)"/><rect x="119.5" y="1201.17" width="487" height="7.07" fill="url(#h54)"/></g></g>
<g clip-path="url(#bc3)"><g filter="url(#vb)"><rect x="119.5" y="1181.97" width="487" height="6.82" fill="url(#h55)"/><rect x="119.5" y="1188.28" width="487" height="6.82" fill="url(#h55)"/><rect x="119.5" y="1194.6" width="487" height="6.82" fill="url(#h55)"/><rect x="119.5" y="1200.92" width="487" height="6.82" fill="url(#h56)"/><rect x="119.5" y="1207.23" width="487" height="6.82" fill="url(#h57)"/><rect x="119.5" y="1213.55" width="487" height="6.82" fill="url(#h58)"/><rect x="119.5" y="1219.87" width="487" height="6.82" fill="url(#h59)"/><rect x="119.5" y="1226.18" width="487" height="6.82" fill="url(#h60)"/><rect x="119.5" y="1232.5" width="487" height="6.82" fill="url(#h61)"/><rect x="119.5" y="1238.82" width="487" height="6.82" fill="url(#h62)"/><rect x="119.5" y="1245.13" width="487" height="6.82" fill="url(#h63)"/><rect x="119.5" y="1251.45" width="487" height="6.82" fill="url(#h64)"/><rect x="119.5" y="1257.77" width="487" height="6.82" fill="url(#h65)"/><rect x="119.5" y="1264.08" width="487" height="6.82" fill="url(#h66)"/><rect x="119.5" y="1270.4" width="487" height="6.82" fill="url(#h67)"/><rect x="119.5" y="1276.72" width="487" height="6.82" fill="url(#h68)"/><rect x="119.5" y="1283.03" width="487" height="6.82" fill="url(#h69)"/><rect x="119.5" y="1289.35" width="487" height="6.82" fill="url(#h70)"/><rect x="119.5" y="1295.67" width="487" height="6.82" fill="url(#h71)"/><rect x="119.5" y="1301.98" width="487" height="6.82" fill="url(#h72)"/><rect x="119.5" y="1308.3" width="487" height="6.82" fill="url(#h72)"/><rect x="119.5" y="1314.62" width="487" height="6.82" fill="url(#h72)"/></g></g>
<rect x="127.5" y="841.8" width="471" height="466.5" fill="none" stroke="#1a1a1a" stroke-width="1.3"/>
<path d="M284.5 1308.3v-8.5M441.5 1308.3v-8.5" fill="none" stroke="#1a1a1a" stroke-width="1.3"/>
<text transform="translate(127.5 1338.4) scale(1.102 1)" font-size="24.3" text-anchor="middle">400</text>
<text transform="translate(284.5 1338.4) scale(1.102 1)" font-size="24.3" text-anchor="middle">500</text>
<text transform="translate(441.5 1338.4) scale(1.102 1)" font-size="24.3" text-anchor="middle">600</text>
<text transform="translate(598.5 1338.4) scale(1.061 1)" font-size="24.3" text-anchor="middle">700</text>
<path d="M206 1308.3v-4.4M363 1308.3v-4.4M520 1308.3v-4.4" fill="none" stroke="#1a1a1a" stroke-width="1.3"/>
<path d="M127.5 959.1h8.5M127.5 1076.4h8.5M127.5 1194.6h8.5M127.5 900.3h4.4M127.5 1017.8h4.4M127.5 1135.3h4.4M127.5 1252.5h4.4" fill="none" stroke="#1a1a1a" stroke-width="1.3"/>
<text transform="translate(116.1 850.2) scale(0.987 1)" font-size="24.3" text-anchor="end">144</text>
<text transform="translate(116.1 967.5) scale(0.987 1)" font-size="24.3" text-anchor="end">108</text>
<text transform="translate(116.1 1084.8) scale(1.040 1)" font-size="24.3" text-anchor="end">72</text>
<text transform="translate(116.1 1203) scale(1.102 1)" font-size="24.3" text-anchor="end">36</text>
<text transform="translate(130.8 927.4)" font-size="23">No. 4</text>
<text transform="translate(130.8 1046.9)" font-size="23">No. 3</text>
<text transform="translate(130.8 1170.5)" font-size="23">No. 2</text>
<text transform="translate(130.8 1286)" font-size="23">No. 1</text>
<rect x="615.5" y="843.8" width="22.1" height="466.4" fill="url(#cb)"/>
<path d="M615.5 1310.2V843.8H637.6V1310.2" fill="none" stroke="#1a1a1a" stroke-width="1.3"/>
<text transform="translate(656.9 1227.7) scale(1.102 1)" font-size="24.3">20</text>
<text transform="translate(656.9 1133.55) scale(1.102 1)" font-size="24.3">40</text>
<text transform="translate(656.9 1039.4) scale(1.102 1)" font-size="24.3">60</text>
<text transform="translate(656.9 945.25) scale(1.102 1)" font-size="24.3">80</text>
<text transform="translate(655.9 851.1) scale(0.987 1)" font-size="24.3">100</text>
<path d="M637.6 1220.4h8.4M637.6 1126.25h8.4M637.6 1032.1h8.4M637.6 937.95h8.4M637.6 843.8h8.4" fill="none" stroke="#1a1a1a" stroke-width="1.3"/>
<text transform="translate(509.2 820.4) scale(1.006 1)" font-size="27.4">Reflectance (%)</text>
<text transform="translate(363.6 1380) scale(1.048 1)" font-size="27.4" text-anchor="middle">Wavelength (nm)</text>
<text transform="translate(54.3 1074.4) rotate(-90) scale(1.058 1)" font-size="27.4" text-anchor="middle">Number of channels</text>
</g>
<g id="panel_ef">
<path d="M824.3 1321.5 837.1 1321.5 849.9 1321.5 862.7 1321.5 875.5 1321.5 888.3 1321.4 901.1 1320.8 906.0 1319.7 909.0 1318.5 911.9 1316.6 915.9 1313.1 924.7 1303.7 927.7 1301.2 929.7 1299.9 931.6 1299.0 933.6 1298.5 935.6 1298.5 938.5 1299.2 947.4 1302.6 953.3 1303.6 966.1 1303.8 978.9 1303.4 988.7 1302.1 993.7 1300.6 997.6 1298.7 1000.6 1296.7 1003.5 1293.8 1005.5 1291.4 1007.4 1288.4 1010.4 1282.7 1013.4 1275.4 1016.3 1266.2 1019.3 1255.0 1022.2 1241.7 1025.2 1226.5 1028.1 1209.2 1030.1 1196.6 1032.1 1183.3 1034.0 1169.2 1036.0 1154.5 1038.0 1139.1 1039.9 1123.3 1041.9 1107.1 1043.9 1090.6 1045.8 1073.8 1047.8 1057.0 1049.8 1040.2 1051.8 1023.6 1053.7 1007.2 1055.7 991.1 1057.7 975.6 1059.6 960.5 1061.6 946.1 1063.6 932.5 1065.5 919.6 1067.5 907.6 1070.5 891.2 1073.4 876.9 1076.4 864.8 1079.3 854.7 1082.3 846.7 1084.3 842.5 1086.2 839.0 1088.2 836.2 1090.2 834.2 1092.1 832.7 1094.1 831.7 1096.1 831.1 1100.0 830.8 1101.0 830.8 1103.0 831.4 1104.9 832.6 1106.9 834.5 1108.9 837.0 1111.8 841.8 1114.8 847.9 1118.7 858.0 1122.7 870.1 1126.6 884.1 1130.5 899.7 1133.5 912.4 1136.4 925.7 1139.4 939.7 1142.3 954.1 1145.3 968.9 1148.3 984.0 1151.2 999.3 1154.2 1014.6 1157.1 1029.9 1160.1 1045.2 1163.0 1060.2 1166.0 1075.0 1168.9 1089.5 1171.9 1103.6 1174.8 1117.3 1177.8 1130.5 1180.7 1143.2 1183.7 1155.3 1187.6 1170.6 1191.6 1184.9 1195.5 1198.1 1199.5 1210.2 1204.4 1223.9 1209.3 1236.1 1215.2 1248.8 1221.1 1259.6 1228.0 1270.1 1235.9 1279.6 1243.8 1287.1 1253.6 1294.1 1264.4 1299.7 1276.3 1304.1 1288.1 1307.4 1299.9 1309.9 1312.7 1312.0 1325.5 1313.8 1338.3 1315.2 1351.1 1316.4 1363.9 1317.4 1376.7 1318.2 1389.5 1318.9 1402.3 1319.4 1415.1 1319.9" fill="none" stroke="#1b6ae6" stroke-width="2.1" stroke-linejoin="round" stroke-dasharray="11 10.5"/>
<path d="M824.3 1321.5 837.1 1321.5 849.9 1321.5 862.7 1321.5 875.5 1321.5 888.3 1321.5 901.1 1321.5 913.9 1321.5 926.7 1321.5 939.5 1321.5 952.3 1320.5 962.2 1318.4 968.1 1316.2 973.0 1313.4 977.9 1309.7 981.8 1305.7 985.8 1300.7 989.7 1294.6 993.7 1287.0 997.6 1278.0 1002.5 1264.3 1006.5 1251.3 1010.4 1236.4 1013.4 1223.9 1016.3 1210.3 1019.3 1195.7 1022.2 1179.9 1025.2 1163.2 1028.1 1145.6 1030.1 1133.4 1032.1 1120.9 1034.0 1108.1 1036.0 1095.1 1038.0 1081.9 1039.9 1068.5 1041.9 1055.1 1043.9 1041.6 1045.8 1028.2 1047.8 1014.8 1049.8 1001.6 1051.8 988.5 1053.7 975.8 1055.7 963.3 1057.7 951.2 1060.6 933.8 1063.6 917.5 1066.5 902.4 1069.5 888.6 1072.4 876.3 1076.4 862.3 1079.3 853.5 1082.3 846.3 1085.2 840.7 1087.2 837.7 1089.2 835.3 1091.1 833.6 1093.1 832.3 1095.1 831.6 1098.0 831.2 1100.0 831.3 1102.0 831.8 1103.9 832.9 1105.9 834.5 1107.9 836.6 1109.9 839.4 1112.8 844.6 1115.8 851.2 1119.7 861.9 1123.6 874.9 1127.6 890.0 1130.5 902.6 1133.5 916.1 1136.4 930.5 1139.4 945.6 1142.3 961.4 1145.3 977.8 1148.3 994.5 1151.2 1011.4 1154.2 1028.6 1157.1 1045.8 1160.1 1062.8 1163.0 1079.7 1166.0 1096.3 1168.9 1112.5 1171.9 1128.3 1174.8 1143.5 1177.8 1158.0 1180.7 1171.9 1183.7 1185.1 1186.7 1197.6 1189.6 1209.2 1193.5 1223.5 1197.5 1236.4 1201.4 1247.8 1206.4 1260.1 1211.3 1270.3 1215.2 1276.9 1219.2 1282.3 1223.1 1286.5 1227.0 1289.6 1230.0 1291.3 1232.9 1292.4 1236.9 1293.1 1240.8 1293.0 1245.7 1291.9 1251.6 1289.3 1262.5 1282.3 1272.3 1275.0 1282.2 1268.6 1288.1 1265.8 1293.0 1264.4 1297.9 1263.8 1302.8 1264.2 1307.8 1265.4 1313.7 1268.1 1322.5 1274.0 1332.4 1282.3 1342.2 1291.2 1352.1 1299.7 1361.9 1306.8 1372.8 1312.8 1384.6 1317.1 1396.4 1319.6 1409.2 1321.0 1415.1 1321.3" fill="none" stroke="#1b6ae6" stroke-width="3.4" stroke-linejoin="round"/>
<rect x="824.3" y="830.8" width="590.8" height="490.7" fill="none" stroke="#1a1a1a" stroke-width="1.4"/>
<path d="M1021.23 1321.5v-9.4M1218.17 1321.5v-9.4" fill="none" stroke="#1a1a1a" stroke-width="1.4"/>
<text transform="translate(824.3 1352.1) scale(1.102 1)" font-size="24.3" text-anchor="middle">400</text>
<text transform="translate(1021.23 1352.1) scale(1.102 1)" font-size="24.3" text-anchor="middle">500</text>
<text transform="translate(1218.17 1352.1) scale(1.102 1)" font-size="24.3" text-anchor="middle">600</text>
<text transform="translate(1415.1 1352.1) scale(1.061 1)" font-size="24.3" text-anchor="middle">700</text>
<path d="M824.3 1223.36h9.4M824.3 1125.22h9.4M824.3 1027.08h9.4M824.3 928.94h9.4" fill="none" stroke="#1a1a1a" stroke-width="1.4"/>
<text transform="translate(812.1 1329.4) scale(1.102 1)" font-size="24.3" text-anchor="end">0</text>
<text transform="translate(812.1 1231.26) scale(0.995 1)" font-size="24.3" text-anchor="end">0.2</text>
<text transform="translate(812.1 1133.12) scale(0.995 1)" font-size="24.3" text-anchor="end">0.4</text>
<text transform="translate(812.1 1034.98) scale(0.995 1)" font-size="24.3" text-anchor="end">0.6</text>
<text transform="translate(812.1 936.84) scale(0.995 1)" font-size="24.3" text-anchor="end">0.8</text>
<text transform="translate(812.1 838.7) scale(0.856 1)" font-size="24.3" text-anchor="end">1.0</text>
<text transform="translate(1119.6 1393.9) scale(1.048 1)" font-size="27.4" text-anchor="middle">Wavelength (nm)</text>
<text transform="translate(754.7 1060.6) rotate(-90) scale(1.045 1)" font-size="27.4" text-anchor="middle">Intensity (a.u.)</text>
<line x1="1217.6" y1="883.6" x2="1308.3" y2="883.6" stroke="#1b6ae6" stroke-width="2.1" stroke-dasharray="11 10.5"/>
<line x1="1217.6" y1="917.7" x2="1308.3" y2="917.7" stroke="#1b6ae6" stroke-width="3.4"/>
<text transform="translate(1321 892.5) scale(0.950 1)" font-size="27.4">Ref.</text>
<text transform="translate(1321 926.9) scale(0.950 1)" font-size="27.4">Rec.</text>
<path d="M1550.5 1321.1 1562.8 1320.4 1575.0 1319.2 1587.3 1317.7 1599.5 1316.6 1605.8 1316.8 1612.2 1320.2 1612.5 1320.1 1612.9 1319.9 1613.3 1319.4 1614.1 1317.3 1614.9 1313.3 1615.7 1306.7 1616.9 1290.7 1617.7 1275.1 1618.5 1255.4 1619.3 1232.0 1619.7 1219.2 1620.1 1205.9 1620.5 1192.6 1620.8 1179.5 1621.2 1166.9 1621.6 1154.1 1622.0 1140.8 1622.4 1126.9 1622.8 1112.6 1623.2 1097.8 1623.6 1082.7 1624.0 1067.3 1624.4 1051.6 1624.8 1035.8 1625.2 1020.0 1625.6 1004.1 1626.0 988.4 1626.4 972.9 1626.8 957.7 1627.2 942.9 1627.6 928.7 1628.0 915.0 1628.4 902.1 1628.7 890.0 1629.5 868.6 1630.3 851.6 1631.1 839.4 1631.9 832.5 1632.3 831.1 1632.7 831.1 1633.1 832.5 1633.9 839.4 1634.7 851.6 1635.5 868.6 1636.3 890.0 1636.7 902.1 1637.0 915.0 1637.4 928.7 1637.8 942.9 1638.2 957.7 1638.6 972.9 1639.0 988.4 1639.4 1004.1 1639.8 1020.0 1640.2 1035.8 1640.6 1051.6 1641.0 1067.3 1641.4 1082.7 1641.8 1097.8 1642.2 1112.6 1642.6 1126.9 1643.0 1140.8 1643.4 1154.2 1643.8 1167.0 1644.2 1179.5 1644.6 1192.6 1645.0 1206.0 1645.3 1219.2 1645.7 1232.0 1646.1 1244.1 1646.9 1265.8 1647.7 1283.5 1648.5 1297.1 1649.7 1310.7 1650.5 1316.0 1651.3 1319.2 1652.1 1320.8 1652.9 1321.4 1665.1 1321.5 1677.4 1321.5 1689.6 1321.5 1701.9 1321.5 1714.1 1321.5 1726.4 1321.5 1738.6 1321.5 1750.9 1321.5 1763.1 1321.5 1775.4 1321.5 1787.6 1321.5 1799.9 1321.5 1812.1 1321.5 1824.4 1321.5 1836.6 1321.5 1848.9 1321.5 1861.1 1321.5 1873.4 1321.5 1885.6 1321.5 1897.9 1321.5 1910.1 1321.5 1922.4 1321.5 1934.6 1321.5 1946.9 1321.5 1959.1 1321.5 1971.4 1321.5 1983.6 1321.5 1995.9 1321.5 2008.1 1321.5 2020.4 1321.5 2032.6 1321.5 2044.9 1321.5 2057.1 1321.5 2069.4 1321.5 2081.6 1321.5 2093.9 1321.5 2106.2 1321.5 2118.4 1321.5 2130.7 1321.5 2142.9 1321.5 2143.3 1321.5" fill="none" stroke="#8c8c8c" stroke-width="2.3" stroke-linejoin="round" stroke-dasharray="8.5 5"/>
<path d="M1550.5 1321.5 1562.8 1321.5 1575.0 1321.5 1587.3 1321.5 1599.5 1321.5 1609.8 1321.4 1610.6 1321.0 1611.4 1319.9 1612.2 1317.8 1612.9 1314.3 1614.1 1305.1 1615.3 1289.6 1616.1 1275.2 1616.9 1257.4 1617.7 1236.5 1618.5 1213.7 1619.3 1190.8 1620.1 1167.0 1620.5 1154.2 1620.8 1140.8 1621.2 1126.9 1621.6 1112.6 1622.0 1097.8 1622.4 1082.7 1622.8 1067.3 1623.2 1051.6 1623.6 1035.8 1624.0 1020.0 1624.4 1004.1 1624.8 988.4 1625.2 972.9 1625.6 957.7 1626.0 942.9 1626.4 928.7 1626.8 915.0 1627.2 902.1 1627.6 890.0 1628.4 868.6 1629.1 851.6 1629.9 839.4 1630.7 832.5 1631.1 831.1 1631.5 831.1 1631.9 832.5 1632.7 839.4 1633.5 851.6 1634.3 868.6 1635.1 890.0 1635.5 902.1 1635.9 915.0 1636.3 928.7 1636.7 942.9 1637.0 957.7 1637.4 972.9 1637.8 988.4 1638.2 1004.1 1638.6 1020.0 1639.0 1035.8 1639.4 1051.6 1639.8 1067.3 1640.2 1082.7 1640.6 1097.8 1641.0 1112.6 1641.4 1126.9 1641.8 1140.8 1642.2 1154.2 1642.6 1167.9 1643.0 1182.4 1643.4 1197.2 1643.8 1211.9 1644.2 1226.1 1644.6 1239.5 1645.0 1252.0 1645.7 1273.7 1646.5 1290.7 1647.3 1303.2 1648.1 1311.8 1648.9 1317.1 1649.7 1320.0 1650.1 1320.8 1650.5 1321.3 1650.9 1321.5 1663.1 1321.5 1675.4 1321.5 1687.6 1321.5 1699.9 1321.5 1712.1 1321.5 1724.4 1321.5 1736.6 1321.5 1748.9 1321.5 1761.1 1321.5 1773.4 1321.5 1785.6 1321.5 1797.9 1321.5 1810.1 1321.5 1822.4 1321.5 1834.6 1321.5 1846.9 1321.5 1859.2 1321.5 1871.4 1321.5 1883.7 1321.5 1895.9 1321.5 1908.2 1321.5 1920.4 1321.5 1932.7 1321.5 1944.9 1321.5 1957.2 1321.5 1969.4 1321.5 1981.7 1321.5 1993.9 1321.5 2006.2 1321.5 2018.4 1321.5 2030.7 1321.5 2042.9 1321.5 2055.2 1321.5 2067.4 1321.5 2079.7 1321.4 2083.6 1320.6 2086.0 1319.0 2089.2 1314.8 2093.5 1307.4 2094.7 1306.2 2095.5 1305.8 2096.3 1305.8 2097.5 1306.5 2104.2 1317.2 2106.5 1319.7 2110.1 1321.2 2122.4 1321.5 2134.6 1321.5 2143.3 1321.5" fill="none" stroke="#8c8c8c" stroke-width="3.7" stroke-linejoin="round"/>
<path d="M1550.5 1321.5 1562.8 1321.5 1575.0 1321.5 1587.3 1321.5 1599.5 1321.5 1611.8 1321.5 1624.0 1321.4 1632.3 1319.8 1642.6 1313.0 1646.5 1311.1 1650.1 1311.2 1658.4 1314.1 1661.9 1313.9 1672.2 1307.6 1680.1 1303.9 1682.1 1303.7 1682.9 1304.0 1683.7 1304.8 1684.5 1306.6 1686.8 1316.4 1687.2 1317.6 1687.6 1318.0 1688.0 1317.7 1688.4 1316.5 1689.2 1311.6 1690.0 1302.7 1690.8 1289.6 1691.6 1271.7 1692.4 1249.1 1692.8 1236.2 1693.2 1222.2 1693.6 1207.3 1694.0 1191.7 1694.4 1175.7 1694.7 1159.6 1695.1 1143.7 1695.5 1128.4 1695.9 1114.2 1696.3 1101.5 1696.7 1089.0 1697.1 1076.3 1697.5 1063.4 1697.9 1050.3 1698.3 1037.2 1698.7 1023.9 1699.1 1010.7 1699.5 997.6 1699.9 984.5 1700.3 971.6 1700.7 959.0 1701.1 946.6 1701.5 934.5 1702.3 911.7 1703.0 891.0 1703.8 872.7 1704.6 857.4 1705.4 845.3 1706.2 836.8 1707.0 832.0 1707.4 831.0 1707.8 831.0 1708.2 832.0 1709.0 836.8 1710.2 851.0 1711.0 864.7 1711.7 881.5 1712.5 901.1 1713.3 922.9 1714.1 946.6 1714.5 959.0 1714.9 971.6 1715.3 984.5 1715.7 997.6 1716.1 1010.7 1716.5 1023.9 1716.9 1037.2 1717.3 1050.3 1717.7 1063.4 1718.1 1076.3 1718.5 1089.0 1718.9 1101.5 1719.3 1113.8 1720.0 1137.4 1720.8 1159.6 1721.6 1180.2 1722.4 1200.4 1723.2 1221.2 1724.0 1241.0 1724.8 1258.9 1725.6 1274.5 1726.4 1287.4 1727.5 1302.0 1728.7 1311.6 1729.9 1317.2 1730.7 1319.4 1731.5 1320.7 1732.3 1321.3 1744.5 1321.5 1756.8 1321.5 1769.0 1321.5 1781.3 1321.5 1793.5 1321.5 1805.8 1321.5 1818.1 1321.5 1830.3 1321.5 1842.6 1321.5 1854.8 1321.5 1867.1 1321.5 1879.3 1321.5 1891.6 1321.5 1903.8 1321.5 1916.1 1321.5 1928.3 1321.5 1940.6 1321.5 1952.8 1321.5 1965.1 1321.5 1977.3 1321.5 1989.6 1321.5 2001.8 1321.5 2014.1 1321.5 2026.3 1321.5 2038.6 1321.5 2050.8 1321.5 2063.1 1321.5 2075.3 1321.5 2087.6 1321.5 2099.8 1321.5 2112.1 1321.5 2124.3 1321.5 2136.6 1321.5 2143.3 1321.5" fill="none" stroke="#f06e72" stroke-width="2.3" stroke-linejoin="round" stroke-dasharray="8.5 5"/>
<path d="M1550.5 1321.5 1562.8 1321.5 1575.0 1321.5 1587.3 1321.5 1599.5 1321.5 1611.8 1321.5 1624.0 1321.4 1631.1 1320.2 1634.7 1318.0 1638.6 1313.5 1645.0 1302.4 1648.1 1297.8 1649.7 1296.4 1650.9 1296.0 1652.1 1296.1 1653.6 1297.0 1656.8 1301.1 1662.7 1311.7 1667.1 1317.3 1671.4 1320.2 1680.1 1321.4 1680.5 1321.2 1680.9 1320.8 1681.7 1319.0 1682.5 1315.6 1683.7 1306.8 1684.9 1292.4 1685.7 1279.0 1686.4 1262.6 1687.2 1243.1 1688.0 1220.8 1688.8 1196.5 1689.2 1183.8 1689.6 1171.0 1690.0 1158.3 1690.4 1146.0 1691.2 1123.2 1692.0 1102.3 1692.8 1080.5 1693.6 1058.1 1694.4 1035.4 1695.1 1012.5 1695.9 989.8 1696.7 967.4 1697.5 945.9 1698.3 925.3 1699.1 906.1 1699.9 888.5 1700.7 872.9 1701.5 859.4 1702.7 843.8 1703.4 836.7 1704.2 832.3 1704.6 831.3 1705.0 830.9 1705.4 831.3 1705.8 832.3 1706.6 836.7 1707.8 848.4 1709.0 865.9 1709.8 880.5 1710.6 897.1 1711.3 915.5 1712.1 935.4 1712.9 956.5 1713.7 978.5 1714.5 1001.1 1715.3 1023.9 1716.1 1046.8 1716.9 1069.4 1717.7 1091.5 1718.5 1112.9 1719.3 1133.4 1720.0 1152.9 1720.8 1171.3 1721.6 1190.0 1722.4 1209.5 1723.2 1228.4 1724.0 1246.1 1724.8 1262.0 1725.6 1275.8 1726.8 1292.5 1727.9 1304.5 1729.1 1312.6 1730.3 1317.5 1731.1 1319.5 1731.9 1320.7 1732.7 1321.3 1744.9 1321.5 1757.2 1321.5 1769.4 1321.5 1781.7 1321.5 1793.9 1321.5 1806.2 1321.5 1818.4 1321.5 1830.7 1321.5 1842.9 1321.5 1855.2 1321.5 1867.5 1321.5 1879.7 1321.5 1892.0 1321.5 1904.2 1321.5 1916.5 1321.5 1928.7 1321.5 1941.0 1321.5 1953.2 1321.5 1965.5 1321.5 1977.7 1321.5 1990.0 1321.5 2002.2 1321.5 2014.5 1321.5 2026.7 1321.5 2039.0 1321.5 2051.2 1321.5 2063.5 1321.5 2075.7 1321.5 2088.0 1321.5 2100.2 1321.5 2112.5 1321.3 2122.0 1319.7 2127.5 1316.4 2136.6 1308.0 2143.3 1304.9" fill="none" stroke="#f06e72" stroke-width="3.7" stroke-linejoin="round"/>
<path d="M1550.5 1321.5 1562.8 1321.5 1575.0 1321.5 1587.3 1321.5 1599.5 1321.5 1611.8 1321.5 1624.0 1321.5 1636.3 1321.5 1648.5 1321.5 1660.8 1321.5 1673.0 1321.5 1685.3 1321.5 1697.5 1321.5 1709.8 1321.5 1722.0 1321.5 1734.3 1321.5 1746.5 1321.5 1758.8 1321.5 1761.9 1321.5 1762.7 1321.1 1763.5 1320.2 1764.3 1318.6 1765.1 1315.8 1766.3 1308.8 1767.5 1297.5 1768.7 1280.8 1769.4 1266.3 1770.2 1249.2 1771.0 1229.9 1771.8 1209.0 1772.6 1187.7 1773.4 1167.4 1774.2 1146.2 1775.0 1123.7 1775.8 1099.9 1776.2 1087.7 1776.6 1075.2 1776.9 1062.5 1777.3 1049.7 1777.7 1036.9 1778.1 1023.9 1778.5 1011.0 1778.9 998.1 1779.3 985.4 1779.7 972.7 1780.1 960.3 1780.5 948.2 1781.3 924.9 1782.1 903.3 1782.9 883.9 1783.7 867.1 1784.5 853.1 1785.6 838.3 1786.4 832.8 1786.8 831.4 1787.2 830.9 1787.6 831.4 1788.0 832.8 1788.8 838.3 1790.0 853.1 1790.8 867.1 1791.6 883.9 1792.4 903.3 1793.2 924.9 1793.9 948.2 1794.3 960.3 1794.7 972.7 1795.1 985.4 1795.5 998.1 1795.9 1011.0 1796.3 1023.9 1796.7 1036.9 1797.1 1049.7 1797.5 1062.5 1797.9 1075.2 1798.3 1087.7 1798.7 1099.9 1799.1 1111.9 1799.9 1135.1 1800.7 1157.0 1801.5 1178.8 1802.2 1201.9 1803.0 1224.6 1803.8 1245.6 1804.6 1264.1 1805.4 1279.8 1806.2 1292.4 1807.4 1306.2 1808.6 1314.7 1809.4 1318.1 1810.1 1320.1 1810.9 1321.1 1811.7 1321.5 1824.0 1321.5 1836.2 1321.5 1848.5 1321.5 1860.7 1321.5 1873.0 1321.5 1885.2 1321.5 1897.5 1321.5 1909.7 1321.5 1922.0 1321.5 1934.2 1321.5 1946.5 1321.5 1958.7 1321.5 1971.0 1321.5 1983.2 1321.5 1995.5 1321.5 2007.7 1321.5 2020.0 1321.5 2032.2 1321.5 2044.5 1321.5 2056.8 1321.5 2069.0 1321.5 2081.3 1321.5 2093.5 1321.5 2105.8 1321.5 2118.0 1321.5 2130.3 1321.5 2142.5 1321.5 2143.3 1321.5" fill="none" stroke="#5a98e8" stroke-width="2.3" stroke-linejoin="round" stroke-dasharray="8.5 5"/>
<path d="M1550.5 1321.5 1562.8 1321.5 1575.0 1321.5 1587.3 1321.5 1599.5 1321.5 1611.8 1321.5 1624.0 1321.5 1636.3 1321.5 1648.5 1321.5 1660.8 1321.5 1673.0 1321.5 1685.3 1321.5 1697.5 1321.5 1709.8 1321.5 1722.0 1321.5 1734.3 1321.5 1746.5 1321.5 1758.8 1321.5 1763.5 1321.4 1764.3 1320.9 1765.1 1319.8 1765.9 1317.7 1767.1 1312.4 1768.3 1303.2 1769.4 1289.2 1770.2 1276.7 1771.0 1261.7 1771.8 1244.2 1772.6 1224.6 1773.4 1203.6 1774.2 1182.4 1775.0 1162.2 1775.8 1141.6 1776.6 1119.8 1777.3 1096.9 1778.1 1073.1 1778.5 1060.9 1778.9 1048.7 1779.3 1036.3 1779.7 1023.9 1780.1 1011.5 1780.5 999.2 1780.9 986.9 1781.3 974.8 1782.1 951.2 1782.9 928.7 1783.7 907.7 1784.5 888.5 1785.2 871.7 1786.0 857.4 1787.2 841.4 1788.0 834.7 1788.4 832.6 1788.8 831.3 1789.2 830.9 1789.6 831.3 1790.0 832.6 1790.8 837.7 1792.0 851.3 1792.8 864.2 1793.5 879.8 1794.3 897.8 1795.1 917.9 1795.9 939.8 1796.7 962.9 1797.5 986.9 1797.9 999.2 1798.3 1011.5 1798.7 1023.9 1799.1 1036.3 1799.5 1048.7 1799.9 1060.9 1800.3 1073.1 1801.1 1096.9 1801.8 1119.8 1802.6 1141.6 1803.4 1162.2 1804.2 1182.4 1805.0 1203.6 1805.8 1224.6 1806.6 1244.2 1807.4 1261.7 1808.2 1276.7 1809.0 1289.2 1810.1 1303.2 1811.3 1312.4 1812.5 1317.7 1813.3 1319.8 1814.1 1320.9 1814.9 1321.4 1827.1 1321.5 1839.4 1321.5 1851.6 1321.5 1863.9 1321.5 1876.1 1321.5 1888.4 1321.5 1900.6 1321.5 1912.9 1321.5 1925.1 1321.5 1937.4 1321.5 1949.7 1321.5 1961.9 1321.5 1974.2 1321.5 1986.4 1321.5 1998.7 1321.5 2010.9 1321.5 2023.2 1321.5 2035.4 1321.5 2045.7 1320.7 2049.6 1318.7 2057.9 1310.7 2059.9 1309.8 2061.5 1309.8 2063.9 1311.0 2072.2 1319.0 2077.7 1321.1 2089.9 1321.5 2102.2 1321.5 2114.5 1321.5 2126.7 1321.5 2139.0 1321.5 2143.3 1321.5" fill="none" stroke="#5a98e8" stroke-width="3.7" stroke-linejoin="round"/>
<path d="M1550.5 1321.5 1562.8 1321.5 1575.0 1321.5 1587.3 1321.5 1599.5 1321.5 1611.8 1321.5 1624.0 1321.5 1636.3 1321.5 1648.5 1321.5 1660.8 1321.5 1673.0 1321.5 1685.3 1321.5 1697.5 1321.5 1709.8 1321.5 1722.0 1321.5 1734.3 1321.5 1746.5 1321.5 1758.8 1321.5 1771.0 1321.5 1783.3 1321.5 1795.5 1321.5 1807.8 1321.5 1820.0 1321.5 1831.9 1320.9 1839.4 1318.1 1840.6 1317.0 1841.4 1315.5 1842.2 1313.2 1843.3 1307.3 1844.5 1297.7 1845.7 1283.2 1846.5 1270.6 1847.3 1255.6 1848.1 1238.7 1848.9 1220.6 1849.7 1202.2 1850.5 1183.1 1851.2 1162.2 1852.0 1139.7 1852.8 1115.7 1853.2 1103.2 1853.6 1090.5 1854.0 1077.5 1854.4 1064.3 1854.8 1050.9 1855.2 1037.5 1855.6 1023.9 1856.0 1010.4 1856.4 997.0 1856.8 983.6 1857.2 970.5 1857.6 957.5 1858.0 944.9 1858.4 932.7 1859.2 909.5 1859.9 888.5 1860.7 870.3 1861.5 855.1 1862.7 838.9 1863.5 832.9 1863.9 831.4 1864.3 830.9 1864.7 831.4 1865.1 832.9 1865.9 838.9 1867.1 855.1 1867.8 870.3 1868.6 888.5 1869.4 909.5 1870.2 932.7 1870.6 944.9 1871.0 957.5 1871.4 970.5 1871.8 983.6 1872.2 997.0 1872.6 1010.4 1873.0 1023.9 1873.4 1037.5 1873.8 1050.9 1874.2 1064.3 1874.6 1077.5 1875.0 1090.5 1875.4 1103.2 1875.7 1115.7 1876.1 1127.9 1876.9 1151.3 1877.3 1163.5 1877.7 1176.4 1878.1 1189.6 1878.5 1202.7 1878.9 1215.5 1879.3 1227.9 1880.1 1250.7 1880.9 1270.2 1881.7 1286.1 1882.5 1298.5 1883.7 1311.1 1884.4 1316.2 1885.2 1319.3 1886.0 1320.9 1886.4 1321.3 1898.7 1321.5 1910.9 1321.5 1923.2 1321.5 1935.4 1321.5 1947.7 1321.5 1959.9 1321.5 1972.2 1321.5 1984.4 1321.5 1996.7 1321.5 2008.9 1321.5 2021.2 1321.5 2033.4 1321.5 2045.7 1321.5 2057.9 1321.5 2070.2 1321.5 2082.4 1321.5 2094.7 1321.5 2106.9 1321.5 2119.2 1321.5 2131.4 1321.5 2143.3 1321.5" fill="none" stroke="#6ccb98" stroke-width="2.3" stroke-linejoin="round" stroke-dasharray="8.5 5"/>
<path d="M1550.5 1321.5 1562.8 1321.5 1575.0 1321.5 1587.3 1321.5 1599.5 1321.5 1611.8 1321.5 1624.0 1321.5 1636.3 1321.5 1648.5 1321.5 1660.8 1321.5 1673.0 1321.5 1685.3 1321.5 1697.5 1321.5 1709.8 1321.5 1722.0 1321.5 1734.3 1321.5 1746.5 1321.5 1758.8 1321.5 1771.0 1321.5 1783.3 1321.5 1795.5 1321.5 1807.8 1321.5 1820.0 1321.5 1832.3 1321.5 1841.8 1321.4 1842.6 1320.9 1843.3 1319.4 1844.1 1316.8 1845.3 1309.8 1846.5 1297.8 1847.7 1279.8 1848.5 1264.0 1849.3 1245.2 1850.1 1223.9 1850.9 1200.8 1851.6 1177.0 1852.4 1154.5 1853.2 1133.0 1854.0 1110.2 1854.8 1086.3 1855.2 1074.1 1855.6 1061.7 1856.0 1049.2 1856.4 1036.6 1856.8 1023.9 1857.2 1011.3 1857.6 998.7 1858.0 986.2 1858.4 973.8 1858.8 961.6 1859.5 938.1 1860.3 915.9 1861.1 895.6 1861.9 877.5 1862.7 862.0 1863.5 849.3 1864.7 836.3 1865.5 831.9 1865.9 831.0 1866.3 831.0 1866.7 831.9 1867.5 836.3 1868.6 849.3 1869.4 862.0 1870.2 877.5 1871.0 895.6 1871.8 915.9 1872.6 938.1 1873.4 961.6 1873.8 973.8 1874.2 986.2 1874.6 998.7 1875.0 1011.3 1875.4 1023.9 1875.7 1036.6 1876.1 1049.2 1876.5 1061.7 1876.9 1074.1 1877.3 1086.3 1877.7 1098.4 1878.5 1121.7 1879.3 1143.9 1880.1 1164.7 1880.9 1184.1 1881.7 1201.9 1882.5 1218.9 1883.3 1235.9 1884.0 1251.9 1884.8 1266.3 1885.6 1278.8 1886.8 1293.7 1888.4 1306.8 1889.6 1312.5 1890.4 1314.6 1891.2 1315.8 1892.0 1316.2 1892.7 1316.0 1893.9 1314.9 1899.9 1304.1 1902.6 1299.9 1904.2 1298.7 1905.4 1298.5 1906.6 1298.9 1908.2 1300.4 1914.1 1310.9 1918.0 1317.0 1921.2 1319.7 1933.4 1321.5 1945.7 1321.5 1958.0 1321.5 1970.2 1321.5 1982.5 1321.5 1994.7 1321.5 2007.0 1321.5 2019.2 1320.9 2030.7 1316.7 2035.8 1315.6 2047.3 1319.4 2059.1 1321.4 2071.4 1321.5 2083.6 1321.5 2095.9 1321.4 2107.7 1319.6 2118.0 1315.7 2123.1 1316.2 2134.6 1320.5 2143.3 1321.4" fill="none" stroke="#6ccb98" stroke-width="3.7" stroke-linejoin="round"/>
<path d="M1550.5 1321.5 1562.8 1321.5 1575.0 1321.5 1587.3 1321.5 1599.5 1321.5 1611.8 1321.5 1624.0 1321.5 1636.3 1321.5 1648.5 1321.5 1660.8 1321.5 1673.0 1321.5 1685.3 1321.5 1697.5 1321.5 1709.8 1321.5 1722.0 1321.5 1734.3 1321.5 1746.5 1321.5 1758.8 1321.5 1771.0 1321.5 1783.3 1321.5 1795.5 1321.5 1807.8 1321.5 1820.0 1321.5 1832.3 1321.5 1844.5 1321.5 1856.8 1321.5 1869.0 1321.5 1881.3 1321.5 1893.5 1321.5 1905.8 1321.5 1918.0 1321.5 1920.8 1321.4 1921.6 1320.9 1922.4 1319.8 1923.2 1317.7 1924.0 1314.4 1925.1 1306.0 1926.3 1292.6 1927.1 1280.3 1927.9 1265.2 1928.7 1247.2 1929.5 1226.9 1930.3 1205.2 1931.1 1183.3 1931.9 1162.2 1932.7 1139.7 1933.4 1115.7 1933.8 1103.2 1934.2 1090.5 1934.6 1077.5 1935.0 1064.3 1935.4 1050.9 1935.8 1037.5 1936.2 1023.9 1936.6 1010.4 1937.0 997.0 1937.4 983.6 1937.8 970.5 1938.2 957.5 1938.6 944.9 1939.0 932.7 1939.8 909.5 1940.6 888.5 1941.4 870.3 1942.1 855.1 1943.3 838.9 1944.1 832.9 1944.5 831.4 1944.9 830.9 1945.3 831.4 1945.7 832.9 1946.5 838.9 1947.7 855.1 1948.5 870.3 1949.3 888.5 1950.0 909.5 1950.8 932.7 1951.2 944.9 1951.6 957.5 1952.0 970.5 1952.4 983.6 1952.8 997.0 1953.2 1010.4 1953.6 1023.9 1954.0 1037.5 1954.4 1050.9 1954.8 1064.3 1955.2 1077.5 1955.6 1090.5 1956.0 1103.2 1956.4 1115.7 1956.8 1129.2 1957.2 1143.9 1957.6 1159.3 1958.0 1175.1 1958.3 1190.8 1958.7 1206.2 1959.1 1220.9 1959.5 1234.8 1959.9 1247.8 1960.7 1270.4 1961.5 1288.4 1962.3 1301.9 1963.1 1311.3 1963.9 1317.2 1964.7 1320.3 1965.1 1321.1 1965.5 1321.5 1977.7 1321.5 1990.0 1321.5 2002.2 1321.5 2014.5 1321.5 2026.7 1321.5 2039.0 1321.5 2051.2 1321.5 2063.5 1321.5 2075.7 1321.5 2088.0 1321.5 2100.2 1321.5 2112.5 1321.5 2124.7 1321.5 2137.0 1321.5 2143.3 1321.5" fill="none" stroke="#c191e8" stroke-width="2.3" stroke-linejoin="round" stroke-dasharray="8.5 5"/>
<path d="M1550.5 1321.5 1562.8 1321.5 1575.0 1321.5 1587.3 1321.5 1599.5 1321.5 1611.8 1321.5 1624.0 1321.5 1636.3 1321.5 1648.5 1321.5 1660.8 1321.5 1673.0 1321.5 1685.3 1321.5 1697.5 1321.5 1709.8 1321.5 1722.0 1321.5 1734.3 1321.5 1746.5 1321.5 1758.8 1321.5 1771.0 1321.5 1783.3 1321.5 1795.5 1321.5 1807.8 1321.5 1820.0 1321.5 1832.3 1321.5 1844.5 1321.5 1856.8 1321.5 1869.0 1321.5 1881.3 1321.5 1893.5 1321.5 1905.8 1321.5 1918.0 1321.5 1921.2 1321.4 1922.0 1320.9 1922.8 1319.6 1923.6 1317.2 1924.8 1311.0 1925.9 1300.4 1927.1 1284.5 1927.9 1270.5 1928.7 1253.8 1929.5 1234.6 1930.3 1213.4 1931.1 1190.9 1931.9 1168.4 1932.7 1147.5 1933.4 1126.9 1934.2 1105.3 1935.0 1082.7 1935.8 1059.5 1936.6 1035.8 1937.4 1012.0 1938.2 988.4 1939.0 965.3 1939.8 942.9 1940.6 921.8 1941.4 902.1 1942.1 884.3 1942.9 868.6 1943.7 855.4 1944.9 840.6 1945.7 834.4 1946.1 832.5 1946.5 831.3 1946.9 830.9 1947.3 831.3 1947.7 832.5 1948.5 837.1 1949.7 849.8 1950.8 868.6 1951.6 884.3 1952.4 902.1 1953.2 921.8 1954.0 942.9 1954.8 965.3 1955.6 988.4 1956.4 1012.0 1957.2 1035.8 1958.0 1059.5 1958.7 1082.7 1959.5 1105.3 1960.3 1126.9 1961.1 1148.7 1961.9 1172.9 1962.3 1185.4 1962.7 1197.8 1963.1 1210.0 1963.9 1233.1 1964.7 1253.8 1965.5 1271.6 1966.3 1286.2 1967.4 1302.6 1968.6 1313.0 1969.4 1317.3 1970.2 1319.9 1971.0 1321.1 1971.4 1321.4 1983.6 1321.5 1995.9 1321.5 2008.1 1321.5 2020.4 1321.5 2032.6 1321.5 2044.9 1321.5 2057.1 1321.5 2069.4 1321.5 2081.6 1321.5 2093.9 1321.5 2106.2 1321.4 2118.4 1320.7 2128.7 1317.0 2139.3 1311.3 2143.3 1310.3" fill="none" stroke="#c191e8" stroke-width="3.7" stroke-linejoin="round"/>
<path d="M1550.5 1321.5 1562.8 1321.5 1575.0 1321.5 1587.3 1321.5 1599.5 1321.5 1611.8 1321.5 1624.0 1321.5 1636.3 1321.5 1648.5 1321.5 1660.8 1321.5 1673.0 1321.5 1685.3 1321.5 1697.5 1321.5 1709.8 1321.5 1722.0 1321.5 1734.3 1321.5 1746.5 1321.5 1758.8 1321.5 1771.0 1321.5 1783.3 1321.5 1795.5 1321.5 1807.8 1321.5 1820.0 1321.5 1832.3 1321.5 1844.5 1321.5 1856.8 1321.5 1869.0 1321.5 1881.3 1321.5 1893.5 1321.5 1905.8 1321.5 1918.0 1321.5 1930.3 1321.5 1942.5 1321.5 1954.8 1321.5 1967.0 1321.5 1979.3 1321.4 1991.1 1318.3 1994.3 1318.2 2001.0 1320.5 2001.4 1320.2 2001.8 1319.5 2002.6 1316.1 2003.4 1309.5 2004.6 1291.9 2005.4 1274.1 2006.2 1251.2 2006.6 1237.9 2007.0 1223.5 2007.4 1208.1 2007.7 1192.0 2008.1 1175.5 2008.5 1158.9 2008.9 1142.7 2009.3 1127.3 2009.7 1113.3 2010.1 1100.2 2010.5 1086.8 2010.9 1073.1 2011.3 1059.2 2011.7 1045.2 2012.1 1031.0 2012.5 1016.9 2012.9 1002.7 2013.3 988.7 2013.7 974.8 2014.1 961.2 2014.5 947.9 2014.9 935.0 2015.3 922.5 2016.0 899.2 2016.8 878.6 2017.6 861.2 2018.4 847.4 2019.2 837.7 2020.0 832.1 2020.4 831.0 2020.8 831.0 2021.2 832.1 2022.0 837.7 2023.2 853.8 2023.9 869.5 2024.7 888.5 2025.5 910.5 2026.3 935.0 2026.7 947.9 2027.1 961.2 2027.5 974.8 2027.9 988.7 2028.3 1002.7 2028.7 1016.9 2029.1 1031.0 2029.5 1045.2 2029.9 1059.2 2030.3 1073.1 2030.7 1086.8 2031.1 1100.2 2031.5 1113.4 2031.9 1126.2 2032.2 1138.6 2032.6 1150.6 2033.4 1173.4 2034.2 1194.3 2035.0 1213.4 2035.8 1232.4 2036.6 1250.5 2037.4 1266.8 2038.2 1280.7 2039.4 1297.0 2040.5 1308.1 2041.7 1315.0 2042.9 1318.8 2043.7 1320.2 2044.5 1321.0 2045.7 1321.5 2057.9 1321.5 2070.2 1321.5 2082.4 1321.5 2094.7 1321.5 2106.9 1321.5 2119.2 1321.5 2131.4 1321.5 2143.3 1321.5" fill="none" stroke="#ffc62d" stroke-width="2.3" stroke-linejoin="round" stroke-dasharray="8.5 5"/>
<path d="M1550.5 1321.5 1562.8 1321.5 1575.0 1321.5 1587.3 1321.5 1599.5 1321.5 1611.8 1321.5 1624.0 1321.5 1636.3 1321.5 1648.5 1321.5 1660.8 1321.5 1673.0 1321.5 1685.3 1321.5 1697.5 1321.5 1709.8 1321.5 1722.0 1321.5 1734.3 1321.5 1746.5 1321.5 1758.8 1321.5 1771.0 1321.5 1783.3 1321.5 1795.5 1321.5 1807.8 1321.5 1820.0 1321.5 1832.3 1321.5 1844.5 1321.5 1856.8 1321.5 1869.0 1321.5 1881.3 1321.5 1893.5 1321.5 1905.8 1321.5 1918.0 1321.5 1930.3 1321.5 1942.5 1321.5 1954.8 1321.5 1967.0 1321.5 1979.3 1321.5 1991.5 1321.5 1999.8 1321.5 2000.2 1321.3 2000.6 1320.7 2001.0 1319.6 2001.8 1315.3 2002.6 1307.6 2003.8 1288.2 2004.6 1269.0 2005.4 1244.8 2005.8 1230.9 2006.2 1216.0 2006.6 1200.2 2007.0 1183.8 2007.4 1167.2 2007.7 1150.7 2008.1 1134.8 2008.5 1120.1 2008.9 1106.8 2009.3 1093.5 2009.7 1080.0 2010.1 1066.2 2010.5 1052.2 2010.9 1038.1 2011.3 1023.9 2011.7 1009.8 2012.1 995.7 2012.5 981.7 2012.9 968.0 2013.3 954.5 2013.7 941.4 2014.1 928.7 2014.5 916.4 2015.3 893.8 2016.0 873.9 2016.8 857.4 2017.6 844.6 2018.4 835.9 2018.8 833.1 2019.2 831.5 2019.6 830.9 2020.0 831.5 2020.4 833.1 2021.2 839.7 2022.4 857.4 2023.2 873.9 2023.9 893.8 2024.7 916.4 2025.1 928.7 2025.5 941.4 2025.9 954.5 2026.3 968.0 2026.7 981.7 2027.1 995.7 2027.5 1009.8 2027.9 1023.9 2028.3 1038.1 2028.7 1052.2 2029.1 1066.2 2029.5 1080.0 2029.9 1093.5 2030.3 1106.8 2030.7 1119.8 2031.1 1132.4 2031.5 1144.7 2032.2 1167.9 2033.0 1189.2 2033.8 1208.7 2034.6 1227.7 2035.4 1246.1 2036.2 1262.9 2037.0 1277.5 2037.8 1289.5 2039.0 1303.1 2040.2 1312.0 2041.3 1317.2 2042.1 1319.2 2042.9 1320.5 2043.7 1321.1 2056.0 1321.5 2068.2 1321.5 2080.5 1321.5 2092.7 1321.5 2105.0 1321.5 2117.2 1321.5 2129.5 1321.5 2141.7 1321.5 2143.3 1321.5" fill="none" stroke="#ffc62d" stroke-width="3.7" stroke-linejoin="round"/>
<path d="M1550.5 1321.5 1562.8 1321.5 1575.0 1321.5 1587.3 1321.5 1599.5 1321.5 1611.8 1321.5 1624.0 1321.5 1636.3 1321.5 1648.5 1321.5 1660.8 1321.5 1673.0 1321.5 1685.3 1321.5 1697.5 1321.5 1709.8 1321.5 1722.0 1321.5 1734.3 1321.5 1746.5 1321.5 1758.8 1321.5 1771.0 1321.5 1783.3 1321.5 1795.5 1321.5 1807.8 1321.5 1820.0 1321.5 1832.3 1321.5 1844.5 1321.5 1856.8 1321.5 1869.0 1321.5 1881.3 1321.5 1893.5 1321.5 1905.8 1321.5 1918.0 1321.5 1930.3 1321.5 1942.5 1321.5 1954.8 1321.5 1967.0 1321.5 1979.3 1321.5 1991.5 1321.5 2003.8 1321.5 2016.0 1321.5 2028.3 1321.5 2040.5 1321.5 2052.8 1321.5 2065.1 1321.5 2074.1 1321.5 2074.9 1321.1 2075.7 1320.0 2076.5 1317.9 2077.3 1314.5 2078.5 1306.0 2079.7 1292.6 2080.5 1280.3 2081.3 1265.3 2082.0 1247.5 2082.8 1227.3 2083.6 1205.2 2084.4 1182.3 2085.2 1160.1 2086.0 1139.5 2086.8 1118.0 2087.6 1095.5 2088.4 1072.1 2089.2 1048.2 2089.6 1036.1 2089.9 1023.9 2090.3 1011.8 2090.7 999.7 2091.1 987.7 2091.9 964.1 2092.7 941.4 2093.5 919.9 2094.3 900.0 2095.1 882.1 2095.9 866.4 2096.7 853.4 2097.9 839.1 2098.6 833.4 2099.0 831.8 2099.4 831.0 2099.8 831.0 2100.2 831.8 2101.0 835.9 2102.2 847.9 2103.4 866.4 2104.2 882.1 2105.0 900.0 2105.8 919.9 2106.5 941.4 2107.3 964.1 2108.1 987.7 2108.5 999.7 2108.9 1011.8 2109.3 1023.9 2109.7 1036.1 2110.1 1048.2 2110.5 1060.2 2111.3 1083.9 2112.1 1106.8 2112.9 1128.9 2113.7 1149.8 2114.5 1169.5 2115.2 1190.1 2116.0 1211.2 2116.8 1231.6 2117.6 1250.3 2118.4 1266.8 2119.2 1280.9 2120.4 1297.3 2121.6 1308.5 2122.7 1315.5 2123.5 1318.4 2124.3 1320.1 2125.1 1321.1 2125.9 1321.5 2138.2 1321.5 2143.3 1321.5" fill="none" stroke="#2ef4f8" stroke-width="2.3" stroke-linejoin="round" stroke-dasharray="8.5 5"/>
<path d="M1550.5 1321.5 1562.8 1321.5 1575.0 1321.5 1587.3 1321.5 1599.5 1321.5 1611.8 1321.5 1624.0 1321.5 1636.3 1321.5 1648.5 1321.5 1660.8 1321.5 1673.0 1321.5 1685.3 1321.5 1697.5 1321.5 1709.8 1321.5 1722.0 1321.5 1734.3 1321.5 1746.5 1321.5 1758.8 1321.5 1771.0 1321.5 1783.3 1321.5 1795.5 1321.5 1807.8 1321.5 1820.0 1321.5 1832.3 1321.5 1844.5 1321.5 1856.8 1321.5 1869.0 1321.5 1881.3 1321.5 1893.5 1321.5 1905.8 1321.5 1918.0 1321.5 1930.3 1321.5 1942.5 1321.5 1954.8 1321.5 1967.0 1321.5 1979.3 1321.5 1991.5 1321.5 2003.8 1321.5 2016.0 1321.5 2028.3 1321.5 2040.5 1321.5 2052.8 1321.5 2065.1 1321.5 2073.0 1321.5 2073.7 1321.1 2074.5 1320.0 2075.3 1317.9 2076.1 1314.5 2077.3 1306.0 2078.5 1292.6 2079.3 1280.3 2080.1 1265.3 2080.9 1247.5 2081.6 1227.3 2082.4 1205.2 2083.2 1182.3 2084.0 1160.1 2084.8 1139.5 2085.6 1118.0 2086.4 1095.5 2087.2 1072.1 2088.0 1048.2 2088.4 1036.1 2088.8 1023.9 2089.2 1011.8 2089.6 999.7 2089.9 987.7 2090.7 964.1 2091.5 941.4 2092.3 919.9 2093.1 900.0 2093.9 882.1 2094.7 866.4 2095.5 853.4 2096.7 839.1 2097.5 833.4 2097.9 831.8 2098.2 831.0 2098.6 831.0 2099.0 831.8 2099.8 835.9 2101.0 847.9 2102.2 866.4 2103.0 882.1 2103.8 900.0 2104.6 919.9 2105.4 941.4 2106.2 964.1 2106.9 987.7 2107.3 999.7 2107.7 1011.8 2108.1 1023.9 2108.5 1036.1 2108.9 1048.2 2109.3 1060.2 2110.1 1083.9 2110.9 1106.8 2111.7 1128.9 2112.5 1149.8 2113.3 1169.5 2114.1 1190.1 2114.8 1211.2 2115.6 1231.6 2116.4 1250.3 2117.2 1266.8 2118.0 1280.9 2119.2 1297.3 2120.4 1308.5 2121.6 1315.5 2122.4 1318.4 2123.1 1320.1 2123.9 1321.1 2124.7 1321.5 2137.0 1321.5 2143.3 1321.5" fill="none" stroke="#2ef4f8" stroke-width="3.7" stroke-linejoin="round"/>
<rect x="1550.5" y="830.9" width="592.8" height="490.6" fill="none" stroke="#1a1a1a" stroke-width="1.4"/>
<path d="M1748.1 1321.5v-9.4M1945.7 1321.5v-9.4" fill="none" stroke="#1a1a1a" stroke-width="1.4"/>
<text transform="translate(1550.5 1352.1) scale(1.102 1)" font-size="24.3" text-anchor="middle">400</text>
<text transform="translate(1748.1 1352.1) scale(1.102 1)" font-size="24.3" text-anchor="middle">500</text>
<text transform="translate(1945.7 1352.1) scale(1.102 1)" font-size="24.3" text-anchor="middle">600</text>
<text transform="translate(2143.3 1352.1) scale(1.061 1)" font-size="24.3" text-anchor="middle">700</text>
<path d="M1550.5 1223.38h9.4M1550.5 1125.26h9.4M1550.5 1027.14h9.4M1550.5 929.02h9.4" fill="none" stroke="#1a1a1a" stroke-width="1.4"/>
<text transform="translate(1538.3 1329.4) scale(1.102 1)" font-size="24.3" text-anchor="end">0</text>
<text transform="translate(1538.3 1231.28) scale(0.995 1)" font-size="24.3" text-anchor="end">0.2</text>
<text transform="translate(1538.3 1133.16) scale(0.995 1)" font-size="24.3" text-anchor="end">0.4</text>
<text transform="translate(1538.3 1035.04) scale(0.995 1)" font-size="24.3" text-anchor="end">0.6</text>
<text transform="translate(1538.3 936.92) scale(0.995 1)" font-size="24.3" text-anchor="end">0.8</text>
<text transform="translate(1538.3 838.8) scale(0.856 1)" font-size="24.3" text-anchor="end">1.0</text>
<text transform="translate(1847 1393.9) scale(1.048 1)" font-size="27.4" text-anchor="middle">Wavelength (nm)</text>
<text transform="translate(1480.6 1060.6) rotate(-90) scale(1.045 1)" font-size="27.4" text-anchor="middle">Intensity (a.u.)</text>
</g>
<g id="panel_ghi">
<path d="M185.1 1843.9L256.7 1737.9M256.7 1737.9L328.3 1812.9M328.3 1812.9L399.9 1784.6M399.9 1784.6L471.5 1730.7M471.5 1730.7L543.1 1867.9M543.1 1867.9L614.7 1834.2" fill="none" stroke="#ff2d4f" stroke-width="3.9" stroke-dasharray="12.6 22.6" stroke-dashoffset="-9.9" stroke-linecap="round"/>
<path d="M185.1 1888.2L256.7 1638.3M256.7 1638.3L328.3 1791.5M328.3 1791.5L399.9 1715.1M399.9 1715.1L471.5 1504.3M471.5 1504.3L543.1 1830.3M543.1 1830.3L614.7 1810.7" fill="none" stroke="#0a1fc0" stroke-width="3.9" stroke-dasharray="12.6 22.6" stroke-dashoffset="-9.9" stroke-linecap="round"/>
<rect x="179.3" y="1838.1" width="11.6" height="11.6" fill="#ff2d4f"/>
<rect x="250.9" y="1732.1" width="11.6" height="11.6" fill="#ff2d4f"/>
<rect x="322.5" y="1807.1" width="11.6" height="11.6" fill="#ff2d4f"/>
<rect x="394.1" y="1778.8" width="11.6" height="11.6" fill="#ff2d4f"/>
<rect x="465.7" y="1724.9" width="11.6" height="11.6" fill="#ff2d4f"/>
<rect x="537.3" y="1862.1" width="11.6" height="11.6" fill="#ff2d4f"/>
<rect x="608.9" y="1828.4" width="11.6" height="11.6" fill="#ff2d4f"/>
<circle cx="185.1" cy="1888.2" r="6.4" fill="#0a1fc0"/>
<circle cx="256.7" cy="1638.3" r="6.4" fill="#0a1fc0"/>
<circle cx="328.3" cy="1791.5" r="6.4" fill="#0a1fc0"/>
<circle cx="399.9" cy="1715.1" r="6.4" fill="#0a1fc0"/>
<circle cx="471.5" cy="1504.3" r="6.4" fill="#0a1fc0"/>
<circle cx="543.1" cy="1830.3" r="6.4" fill="#0a1fc0"/>
<circle cx="614.7" cy="1810.7" r="6.4" fill="#0a1fc0"/>
<ellipse cx="256.4" cy="1736.3" rx="10.2" ry="25.3" fill="none" stroke="#3d4f66" stroke-width="1.5" stroke-dasharray="4 2.6"/>
<ellipse cx="508.2" cy="1676.6" rx="10.4" ry="25.6" fill="none" stroke="#3d4f66" stroke-width="1.5" stroke-dasharray="4 2.6"/>
<line x1="246.3" y1="1737.2" x2="209.3" y2="1737.2" stroke="#3d4f66" stroke-width="2"/>
<path d="M200.3 1737.2 L212.3 1732.6 L209.3 1737.2 L212.3 1741.8Z" fill="#3d4f66"/>
<line x1="518.6" y1="1675.6" x2="554.2" y2="1675.6" stroke="#3d4f66" stroke-width="2"/>
<path d="M563.2 1675.6 L551.2 1680.2 L554.2 1675.6 L551.2 1671Z" fill="#3d4f66"/>
<rect x="113.5" y="1465.7" width="537" height="479.5" fill="none" stroke="#1a1a1a" stroke-width="1.4"/>
<path d="M292.5 1945.2v-9.4M471.5 1945.2v-9.4" fill="none" stroke="#1a1a1a" stroke-width="1.4"/>
<text transform="translate(113.5 1975.3) scale(1.102 1)" font-size="24.3" text-anchor="middle">400</text>
<text transform="translate(292.5 1975.3) scale(1.102 1)" font-size="24.3" text-anchor="middle">500</text>
<text transform="translate(471.5 1975.3) scale(1.102 1)" font-size="24.3" text-anchor="middle">600</text>
<text transform="translate(650.5 1975.3) scale(1.061 1)" font-size="24.3" text-anchor="middle">700</text>
<path d="M113.5 1849.3h9.4M113.5 1753.4h9.4M113.5 1657.5h9.4M113.5 1561.6h9.4" fill="none" stroke="#1a1a1a" stroke-width="1.4"/>
<text transform="translate(101.3 1953.2) scale(1.102 1)" font-size="24.3" text-anchor="end">0</text>
<text transform="translate(101.3 1857.3) scale(1.025 1)" font-size="24.3" text-anchor="end">0.02</text>
<text transform="translate(101.3 1761.4) scale(1.025 1)" font-size="24.3" text-anchor="end">0.04</text>
<text transform="translate(101.3 1665.5) scale(1.025 1)" font-size="24.3" text-anchor="end">0.06</text>
<text transform="translate(101.3 1569.6) scale(1.025 1)" font-size="24.3" text-anchor="end">0.08</text>
<text transform="translate(101.3 1473.7) scale(0.926 1)" font-size="24.3" text-anchor="end">0.10</text>
<path d="M650.5 1849.3h-9.4M650.5 1657.5h-9.4" fill="none" stroke="#1a1a1a" stroke-width="1.4"/>
<path d="M650.5 1753.4h-9.4M650.5 1561.6h-9.4" fill="none" stroke="#1a1a1a" stroke-width="1.4"/>
<text transform="translate(660.5 1953.2) scale(1.102 1)" font-size="24.3">0</text>
<text transform="translate(659.5 1761.4) scale(0.755 1)" font-size="24.3">1</text>
<text transform="translate(660.5 1569.6) scale(1.102 1)" font-size="24.3">2</text>
<text transform="translate(382.6 2020.7) scale(1.048 1)" font-size="27.4" text-anchor="middle">Wavelength (nm)</text>
<text transform="translate(32.3 1700.8) rotate(-90) scale(1.050 1)" font-size="27.4" text-anchor="middle" fill="#ff2d4f">r.m.s.e.</text>
<text transform="translate(701.2 1705) rotate(90) scale(1.060 1)" font-size="27.4" text-anchor="middle" fill="#0a1fc0">λΔ (nm)</text>
<path d="M833.3 1942.5 846.0 1942.5 858.7 1942.5 871.4 1942.5 884.1 1942.4 896.8 1942.4 909.5 1942.3 922.2 1942.2 934.9 1942.1 947.6 1942.0 960.3 1941.8 973.0 1941.3 985.7 1940.7 998.4 1939.7 1011.1 1938.0 1021.1 1934.8 1032.0 1929.1 1034.7 1927.2 1037.5 1924.6 1041.1 1920.1 1045.6 1912.7 1051.1 1901.6 1052.9 1896.8 1054.7 1890.6 1057.4 1879.2 1059.2 1870.4 1061.0 1859.4 1062.9 1845.9 1063.8 1838.2 1065.6 1819.0 1067.4 1799.7 1069.2 1780.6 1071.0 1761.4 1072.8 1742.5 1074.7 1724.2 1076.5 1705.2 1078.3 1684.3 1080.1 1661.0 1081.0 1646.7 1081.9 1631.2 1082.8 1617.9 1083.7 1608.8 1085.5 1595.3 1086.4 1587.7 1088.3 1564.8 1089.2 1555.1 1091.0 1540.7 1092.8 1526.8 1094.6 1510.4 1095.5 1505.4 1096.4 1502.0 1099.2 1494.2 1100.1 1490.4 1101.9 1480.1 1102.8 1476.7 1105.5 1469.7 1107.3 1466.0 1109.1 1463.2 1110.0 1462.2 1110.9 1461.6 1111.9 1461.3 1113.7 1461.5 1115.5 1462.2 1117.3 1463.3 1120.0 1465.6 1123.7 1469.9 1129.1 1478.0 1130.0 1479.6 1130.9 1481.6 1132.7 1486.9 1135.4 1497.4 1136.4 1501.5 1138.2 1513.2 1140.0 1526.3 1142.7 1542.8 1144.5 1556.2 1146.3 1572.2 1148.1 1590.7 1150.0 1612.2 1150.9 1624.5 1152.7 1646.3 1154.5 1664.3 1155.4 1674.2 1156.3 1686.5 1157.2 1699.6 1158.1 1712.4 1159.0 1725.4 1159.9 1738.4 1160.9 1751.4 1161.8 1764.0 1162.7 1776.1 1164.5 1798.1 1166.3 1816.1 1168.1 1831.9 1169.9 1846.3 1171.7 1859.1 1174.5 1875.3 1177.2 1888.2 1179.9 1899.0 1181.7 1904.9 1186.3 1916.0 1189.9 1923.3 1192.6 1927.6 1194.4 1929.8 1196.2 1931.4 1204.4 1936.4 1210.8 1939.1 1216.2 1940.4 1228.9 1941.3 1241.6 1941.8 1254.3 1942.0 1267.0 1942.1 1279.7 1942.2 1292.4 1942.2 1305.1 1942.3 1317.8 1942.3 1330.5 1942.4 1343.2 1942.4 1355.9 1942.4 1368.6 1942.5 1381.3 1942.5 1394.0 1942.5 1406.7 1942.5 1414.0 1942.5" fill="none" stroke="#000" stroke-width="3.6" stroke-linejoin="round" stroke-dasharray="15 15.5" stroke-dashoffset="6"/>
<path d="M833.3 1942.5 846.0 1942.5 858.7 1942.5 871.4 1942.5 884.1 1942.5 896.8 1942.4 909.5 1942.4 922.2 1942.4 934.9 1942.3 947.6 1942.2 960.3 1942.2 973.0 1942.1 985.7 1942.0 998.4 1941.8 1011.1 1941.7 1023.8 1941.4 1027.5 1940.7 1032.0 1938.8 1037.5 1935.2 1040.2 1932.9 1041.1 1931.7 1042.0 1929.8 1043.8 1924.5 1047.4 1910.3 1051.1 1896.2 1054.7 1882.2 1058.3 1867.0 1061.0 1854.1 1063.8 1839.4 1066.5 1821.5 1068.3 1807.8 1070.1 1793.0 1071.9 1777.4 1073.7 1761.4 1075.6 1745.0 1077.4 1727.1 1079.2 1707.8 1081.0 1688.1 1082.8 1669.3 1084.6 1652.2 1086.4 1636.0 1088.3 1620.0 1090.1 1604.6 1091.9 1590.0 1093.7 1576.6 1096.4 1559.5 1099.2 1545.5 1101.9 1532.8 1105.5 1517.8 1109.1 1505.2 1112.8 1495.0 1118.2 1482.8 1122.7 1474.8 1126.4 1469.6 1131.8 1463.2 1133.6 1461.8 1134.5 1461.4 1135.4 1461.3 1136.4 1461.6 1137.3 1462.2 1139.1 1464.3 1144.5 1473.1 1146.3 1475.5 1152.7 1481.5 1162.7 1488.9 1169.0 1494.1 1173.6 1499.0 1178.1 1505.4 1179.9 1508.6 1181.7 1512.9 1184.4 1521.4 1188.1 1535.9 1190.8 1548.6 1193.5 1562.4 1195.3 1572.6 1197.1 1585.0 1199.0 1599.2 1200.8 1614.5 1202.6 1630.1 1204.4 1645.5 1206.2 1660.5 1208.0 1676.2 1209.8 1692.2 1211.7 1708.1 1213.5 1723.3 1215.3 1737.4 1217.1 1750.2 1218.9 1762.3 1221.6 1779.5 1224.4 1795.2 1227.1 1809.6 1229.8 1823.4 1232.5 1836.6 1235.3 1848.9 1238.9 1863.0 1241.6 1871.3 1246.1 1882.9 1251.6 1894.8 1257.0 1904.7 1262.5 1912.5 1270.6 1921.8 1277.0 1927.7 1282.4 1931.4 1294.2 1936.0 1306.0 1938.9 1318.7 1940.4 1331.4 1941.2 1344.1 1941.7 1356.8 1942.0 1369.5 1942.2 1382.2 1942.3 1394.9 1942.4 1407.6 1942.5 1414.0 1942.5" fill="none" stroke="#5b9bf0" stroke-width="4.1" stroke-linejoin="round" stroke-dasharray="0.5 12.2" stroke-linecap="round"/>
<path d="M833.3 1942.5 846.0 1942.5 858.7 1942.4 871.4 1942.4 884.1 1942.3 896.8 1942.1 909.5 1941.9 922.2 1941.1 934.9 1939.6 946.7 1937.1 958.5 1933.0 969.4 1927.2 979.4 1922.3 991.2 1918.2 997.5 1915.3 1000.3 1913.6 1003.0 1911.1 1010.2 1901.4 1017.5 1890.5 1023.8 1879.5 1030.2 1869.1 1034.7 1863.5 1043.8 1855.1 1049.2 1849.5 1055.6 1841.4 1058.3 1837.1 1061.0 1831.6 1062.0 1829.4 1062.9 1826.8 1064.7 1819.5 1067.4 1804.7 1070.1 1787.3 1071.9 1775.2 1073.7 1763.2 1075.6 1750.4 1077.4 1736.5 1079.2 1722.0 1081.0 1707.0 1082.8 1691.7 1084.6 1676.3 1086.4 1661.2 1088.3 1646.3 1090.1 1630.5 1091.9 1614.2 1093.7 1597.7 1095.5 1581.5 1097.3 1566.1 1099.2 1551.8 1101.0 1539.1 1103.7 1522.5 1106.4 1505.6 1109.1 1489.6 1111.9 1475.9 1113.7 1468.8 1114.6 1466.0 1115.5 1463.8 1116.4 1462.3 1117.3 1461.4 1118.2 1461.3 1119.1 1461.7 1120.0 1462.6 1120.9 1463.8 1122.7 1467.3 1124.6 1472.1 1128.2 1484.3 1131.8 1498.5 1135.4 1513.2 1138.2 1526.8 1140.9 1542.9 1143.6 1560.6 1145.4 1572.7 1147.2 1584.6 1150.0 1601.6 1152.7 1618.6 1155.4 1635.8 1158.1 1653.1 1160.9 1670.4 1163.6 1687.5 1166.3 1704.4 1169.0 1721.3 1171.7 1737.9 1174.5 1754.4 1177.2 1770.8 1179.9 1787.1 1182.6 1803.0 1185.3 1818.3 1188.1 1833.2 1190.8 1848.6 1193.5 1863.8 1196.2 1878.0 1199.0 1890.5 1200.8 1897.5 1205.3 1911.1 1209.8 1922.7 1212.6 1928.4 1214.4 1931.5 1216.2 1933.8 1217.1 1934.6 1225.3 1939.1 1232.5 1941.6 1238.0 1942.4 1250.7 1942.5 1263.4 1942.5 1276.1 1942.5 1288.8 1942.5 1301.5 1942.5 1314.2 1942.5 1326.9 1942.5 1339.6 1942.5 1352.3 1942.5 1365.0 1942.5 1377.7 1942.5 1390.4 1942.5 1403.1 1942.5 1414.0 1942.5" fill="none" stroke="#5b9bf0" stroke-width="4.1" stroke-linejoin="round" stroke-dasharray="0.5 12.2" stroke-linecap="round"/>
<path d="M833.3 1942.5 846.0 1942.5 858.7 1942.5 871.4 1942.5 884.1 1942.5 896.8 1942.5 909.5 1942.5 922.2 1942.5 934.9 1942.5 947.6 1942.5 960.3 1942.5 973.0 1942.5 985.7 1942.5 998.4 1942.5 1011.1 1942.5 1023.8 1942.5 1036.5 1942.5 1041.1 1942.4 1042.9 1942.0 1045.6 1940.7 1049.2 1938.1 1054.7 1932.9 1056.5 1930.7 1059.2 1926.3 1062.9 1918.7 1067.4 1906.8 1070.1 1898.8 1072.8 1889.0 1075.6 1877.3 1078.3 1863.9 1081.0 1848.9 1083.7 1832.0 1085.5 1818.4 1087.4 1803.2 1089.2 1787.0 1091.0 1770.2 1092.8 1753.4 1094.6 1736.3 1096.4 1718.2 1098.2 1699.4 1100.1 1680.2 1101.9 1661.2 1103.7 1642.6 1105.5 1624.9 1107.3 1607.2 1109.1 1588.9 1110.9 1570.6 1112.8 1553.0 1114.6 1536.8 1116.4 1522.7 1118.2 1511.3 1120.9 1497.5 1123.7 1484.5 1126.4 1473.2 1128.2 1467.4 1129.1 1465.2 1130.0 1463.4 1130.9 1462.1 1131.8 1461.4 1132.7 1461.4 1133.6 1462.0 1134.5 1463.4 1135.4 1465.3 1137.3 1470.8 1140.0 1482.1 1142.7 1495.5 1145.4 1509.4 1147.2 1519.6 1149.1 1531.9 1150.9 1545.8 1152.7 1560.9 1154.5 1576.7 1156.3 1593.0 1158.1 1609.2 1159.9 1624.9 1161.8 1641.1 1163.6 1658.6 1165.4 1676.8 1167.2 1694.9 1169.0 1712.3 1170.8 1728.5 1172.6 1742.7 1175.4 1760.0 1178.1 1775.6 1180.8 1789.9 1183.5 1803.0 1186.3 1815.0 1189.9 1829.4 1193.5 1842.0 1197.1 1853.6 1201.7 1866.9 1206.2 1878.8 1211.7 1891.2 1217.1 1901.3 1224.4 1912.7 1231.6 1922.5 1237.1 1928.3 1240.7 1931.2 1251.6 1936.7 1260.7 1939.9 1267.0 1941.0 1279.7 1941.3 1292.4 1941.6 1305.1 1941.8 1317.8 1942.0 1330.5 1942.1 1343.2 1942.2 1355.9 1942.3 1368.6 1942.4 1381.3 1942.5 1394.0 1942.5 1406.7 1942.5 1414.0 1942.5" fill="none" stroke="#5b9bf0" stroke-width="4.1" stroke-linejoin="round" stroke-dasharray="0.5 12.2" stroke-linecap="round"/>
<path d="M833.3 1942.5 846.0 1942.5 858.7 1942.5 871.4 1942.5 884.1 1942.4 896.8 1942.4 909.5 1942.4 922.2 1942.3 934.9 1942.2 947.6 1942.2 960.3 1942.1 973.0 1941.2 984.8 1938.8 996.6 1935.6 1008.4 1930.3 1014.8 1928.1 1027.5 1925.9 1038.4 1923.8 1042.0 1922.6 1045.6 1920.5 1049.2 1917.6 1052.9 1913.7 1056.5 1908.6 1060.1 1902.3 1061.0 1900.3 1062.0 1897.2 1062.9 1893.2 1064.7 1882.7 1066.5 1870.2 1068.3 1857.1 1070.1 1844.8 1072.8 1828.8 1075.6 1813.7 1078.3 1798.5 1081.0 1782.7 1083.7 1765.4 1085.5 1752.7 1087.4 1738.5 1089.2 1722.2 1091.0 1704.4 1092.8 1685.8 1094.6 1667.0 1096.4 1648.7 1098.2 1631.4 1100.1 1615.3 1101.9 1598.9 1103.7 1582.4 1105.5 1566.2 1107.3 1550.7 1109.1 1536.4 1110.9 1523.7 1112.8 1513.0 1115.5 1500.0 1118.2 1487.4 1120.9 1476.2 1122.7 1470.0 1124.6 1465.2 1125.5 1463.5 1126.4 1462.2 1127.3 1461.5 1128.2 1461.3 1129.1 1461.6 1130.0 1462.3 1130.9 1463.3 1132.7 1466.3 1134.5 1470.3 1139.1 1483.6 1142.7 1495.6 1144.5 1502.4 1147.2 1515.2 1150.0 1530.4 1152.7 1547.4 1154.5 1559.3 1156.3 1571.5 1158.1 1583.8 1159.9 1596.0 1161.8 1608.8 1163.6 1622.9 1165.4 1637.8 1167.2 1653.4 1169.0 1669.2 1170.8 1685.0 1172.6 1700.4 1174.5 1715.2 1176.3 1728.9 1178.1 1741.3 1180.8 1757.0 1183.5 1771.4 1186.3 1784.8 1189.0 1797.3 1192.6 1812.7 1196.2 1826.6 1199.9 1839.1 1203.5 1850.6 1208.0 1864.1 1212.6 1876.5 1218.0 1889.4 1222.6 1898.3 1229.8 1909.5 1237.1 1919.1 1242.5 1924.9 1247.0 1928.5 1250.7 1930.5 1262.5 1934.6 1274.3 1937.4 1287.0 1939.0 1299.7 1940.1 1312.4 1941.0 1325.1 1941.6 1337.8 1942.0 1350.5 1942.1 1363.2 1942.3 1375.9 1942.4 1388.6 1942.4 1401.3 1942.5 1414.0 1942.5" fill="none" stroke="#5b9bf0" stroke-width="4.1" stroke-linejoin="round" stroke-dasharray="0.5 12.2" stroke-linecap="round"/>
<path d="M833.3 1942.5 846.0 1942.5 858.7 1942.5 871.4 1942.5 884.1 1942.5 896.8 1942.5 909.5 1942.5 922.2 1942.5 934.9 1942.5 947.6 1942.5 960.3 1942.5 973.0 1942.5 985.7 1942.5 998.4 1942.5 1011.1 1942.5 1022.9 1942.4 1024.7 1942.0 1027.5 1940.8 1031.1 1938.2 1036.5 1932.9 1038.4 1930.5 1040.2 1927.2 1042.9 1921.0 1047.4 1908.3 1052.0 1893.8 1055.6 1879.8 1058.3 1867.8 1061.0 1854.3 1063.8 1839.4 1066.5 1821.2 1068.3 1807.1 1070.1 1792.1 1071.9 1776.5 1073.7 1760.8 1075.6 1745.4 1077.4 1729.4 1079.2 1712.6 1081.0 1695.5 1082.8 1678.3 1084.6 1661.3 1086.4 1644.9 1088.3 1629.4 1090.1 1614.5 1091.9 1599.5 1093.7 1584.4 1095.5 1569.6 1097.3 1555.4 1099.2 1542.0 1101.0 1529.8 1103.7 1514.4 1106.4 1502.4 1110.0 1487.1 1113.7 1473.8 1115.5 1468.6 1117.3 1464.6 1118.2 1463.1 1119.1 1462.1 1120.0 1461.5 1120.9 1461.3 1121.8 1461.5 1122.7 1462.1 1123.7 1462.9 1125.5 1465.4 1127.3 1468.8 1130.9 1477.7 1135.4 1491.1 1138.2 1499.8 1140.9 1511.0 1143.6 1524.6 1146.3 1540.1 1149.1 1557.1 1150.9 1568.9 1152.7 1581.1 1154.5 1593.4 1156.3 1605.7 1158.1 1619.1 1159.9 1634.5 1161.8 1651.2 1163.6 1668.6 1165.4 1686.1 1167.2 1703.1 1169.0 1718.9 1170.8 1732.9 1172.6 1744.5 1175.4 1757.2 1179.0 1771.9 1182.6 1784.8 1186.3 1796.3 1190.8 1809.0 1195.3 1820.2 1200.8 1832.5 1206.2 1844.1 1211.7 1855.2 1218.0 1867.0 1224.4 1877.8 1231.6 1888.9 1238.9 1898.7 1247.0 1908.5 1255.2 1917.5 1262.5 1924.0 1267.9 1927.6 1278.8 1932.7 1290.6 1937.0 1302.4 1939.4 1315.1 1940.2 1327.8 1940.7 1340.5 1941.2 1353.2 1941.7 1365.9 1942.0 1378.6 1942.2 1391.3 1942.4 1404.0 1942.5 1414.0 1942.5" fill="none" stroke="#5b9bf0" stroke-width="4.1" stroke-linejoin="round" stroke-dasharray="0.5 12.2" stroke-linecap="round"/>
<path d="M833.3 1942.5 846.0 1942.5 858.7 1942.5 871.4 1942.5 884.1 1942.5 896.8 1942.5 909.5 1942.5 922.2 1942.5 934.9 1942.5 947.6 1942.5 960.3 1942.5 973.0 1942.5 985.7 1942.5 998.4 1942.5 1011.1 1942.5 1023.8 1942.5 1029.3 1942.4 1031.1 1941.7 1033.8 1940.0 1036.5 1937.6 1040.2 1933.1 1042.9 1929.1 1044.7 1925.6 1050.2 1912.2 1054.7 1899.3 1058.3 1886.8 1061.0 1874.9 1063.8 1861.8 1066.5 1848.4 1069.2 1833.7 1071.9 1816.7 1073.7 1804.4 1075.6 1792.1 1078.3 1774.6 1080.1 1761.9 1081.9 1746.6 1083.7 1725.3 1085.5 1703.6 1087.4 1687.5 1089.2 1673.7 1091.0 1661.0 1092.8 1648.7 1094.6 1635.7 1096.4 1622.5 1098.2 1608.5 1100.1 1593.1 1101.9 1576.9 1103.7 1561.0 1105.5 1545.3 1107.3 1530.7 1109.1 1516.8 1110.9 1504.7 1112.8 1495.4 1116.4 1480.5 1119.1 1470.4 1120.0 1467.7 1121.8 1464.1 1122.7 1462.6 1123.7 1461.6 1124.6 1461.3 1125.5 1461.8 1126.4 1462.7 1128.2 1465.5 1129.1 1467.7 1132.7 1482.0 1136.4 1497.4 1139.1 1511.5 1141.8 1528.7 1143.6 1542.4 1145.4 1557.4 1147.2 1572.2 1149.1 1587.0 1150.9 1600.5 1153.6 1617.9 1156.3 1634.0 1159.0 1650.5 1161.8 1666.8 1164.5 1681.8 1167.2 1696.0 1169.9 1712.0 1172.6 1729.1 1175.4 1744.8 1178.1 1759.4 1180.8 1773.6 1183.5 1788.1 1186.3 1802.2 1189.0 1814.0 1192.6 1826.7 1197.1 1840.9 1201.7 1854.3 1206.2 1866.2 1211.7 1878.7 1217.1 1889.5 1223.5 1900.5 1230.7 1911.0 1238.9 1920.9 1248.0 1929.1 1254.3 1933.6 1265.2 1938.7 1277.0 1941.6 1286.1 1942.5 1298.8 1942.5 1311.5 1942.5 1324.2 1942.5 1336.9 1942.5 1349.6 1942.5 1362.3 1942.5 1375.0 1942.5 1387.7 1942.5 1400.4 1942.5 1413.1 1942.5 1414.0 1942.5" fill="none" stroke="#f5203d" stroke-width="3.2" stroke-linejoin="round"/>
<rect x="833.3" y="1461.3" width="580.7" height="481.2" fill="none" stroke="#1a1a1a" stroke-width="1.4"/>
<path d="M978.47 1942.5v-9.4M1123.65 1942.5v-9.4M1268.83 1942.5v-9.4" fill="none" stroke="#1a1a1a" stroke-width="1.4"/>
<text transform="translate(833.3 1972.8) scale(1.102 1)" font-size="24.3" text-anchor="middle">520</text>
<text transform="translate(978.47 1972.8) scale(1.102 1)" font-size="24.3" text-anchor="middle">540</text>
<text transform="translate(1123.65 1972.8) scale(1.102 1)" font-size="24.3" text-anchor="middle">560</text>
<text transform="translate(1268.83 1972.8) scale(1.102 1)" font-size="24.3" text-anchor="middle">580</text>
<text transform="translate(1414 1972.8) scale(1.102 1)" font-size="24.3" text-anchor="middle">600</text>
<path d="M833.3 1701.9h9.4" fill="none" stroke="#1a1a1a" stroke-width="1.4"/>
<text transform="translate(821.1 1950.4) scale(1.102 1)" font-size="24.3" text-anchor="end">0</text>
<text transform="translate(821.1 1709.8) scale(0.995 1)" font-size="24.3" text-anchor="end">0.5</text>
<text transform="translate(821.1 1469.2) scale(0.856 1)" font-size="24.3" text-anchor="end">1.0</text>
<text transform="translate(1123.4 2013.7) scale(1.048 1)" font-size="27.4" text-anchor="middle">Wavelength (nm)</text>
<text transform="translate(764.5 1703.5) rotate(-90) scale(1.045 1)" font-size="27.4" text-anchor="middle">Intensity (a.u.)</text>
<line x1="846" y1="1520.6" x2="908.8" y2="1520.6" stroke="#000" stroke-width="3" stroke-dasharray="5 10.7 10.3 10.7 10.3 10.7 5.5 0"/>
<line x1="846" y1="1553.8" x2="908.8" y2="1553.8" stroke="#f5203d" stroke-width="3.2"/>
<line x1="846" y1="1591.9" x2="908.8" y2="1591.9" stroke="#5b9bf0" stroke-width="3.4" stroke-dasharray="2.6 5.7 4.6 5.7 4.6 5.7 4.6 5.7 4.6 5.7 4.6 5.7 2.7 0"/>
<text transform="translate(921.5 1529.8) scale(0.970 1)" font-size="27.4">Ref.</text>
<text transform="translate(921.5 1564) scale(0.966 1)" font-size="27.4">Rec. (<tspan font-style="italic">N</tspan> = 36)</text>
<text transform="translate(921.5 1601.4) scale(0.966 1)" font-size="27.4">Rec. (<tspan font-style="italic">N</tspan> &lt; 36)</text>
<path d="M1579.63 1685.74L1595.26 1850.93M1595.26 1850.93L1626.52 1723.45M1626.52 1723.45L1689.04 1544.35M1689.04 1544.35L1704.67 1645.68M1704.67 1645.68L1751.56 1527.86M1751.56 1527.86L1845.34 1612.69M1845.34 1612.69L2126.69 1558.49" fill="none" stroke="#0a1fc0" stroke-width="3.9" stroke-dasharray="7.4 12.4" stroke-dashoffset="-8.5" stroke-linecap="round"/>
<rect x="1573.73" y="1679.84" width="11.8" height="11.8" fill="#0a1fc0"/>
<rect x="1589.36" y="1845.03" width="11.8" height="11.8" fill="#0a1fc0"/>
<rect x="1620.62" y="1717.55" width="11.8" height="11.8" fill="#0a1fc0"/>
<rect x="1683.14" y="1538.45" width="11.8" height="11.8" fill="#0a1fc0"/>
<rect x="1698.77" y="1639.78" width="11.8" height="11.8" fill="#0a1fc0"/>
<rect x="1745.66" y="1521.96" width="11.8" height="11.8" fill="#0a1fc0"/>
<rect x="1839.44" y="1606.79" width="11.8" height="11.8" fill="#0a1fc0"/>
<rect x="2120.79" y="1552.59" width="11.8" height="11.8" fill="#0a1fc0"/>
<rect x="1564" y="1471.3" width="579.1" height="471.3" fill="none" stroke="#1a1a1a" stroke-width="1.4"/>
<path d="M1657.78 1942.6v-9.5M1751.56 1942.6v-9.5M1845.34 1942.6v-9.5M1939.13 1942.6v-9.5M2032.91 1942.6v-9.5M2126.69 1942.6v-9.5" fill="none" stroke="#1a1a1a" stroke-width="1.4"/>
<text transform="translate(1564 1972.9) scale(1.102 1)" font-size="24.3" text-anchor="middle">0</text>
<text transform="translate(1657.78 1972.9) scale(1.102 1)" font-size="24.3" text-anchor="middle">6</text>
<text transform="translate(1750.56 1972.9) scale(0.929 1)" font-size="24.3" text-anchor="middle">12</text>
<text transform="translate(1844.34 1972.9) scale(0.929 1)" font-size="24.3" text-anchor="middle">18</text>
<text transform="translate(1939.13 1972.9) scale(1.102 1)" font-size="24.3" text-anchor="middle">24</text>
<text transform="translate(2032.91 1972.9) scale(1.102 1)" font-size="24.3" text-anchor="middle">30</text>
<text transform="translate(2126.69 1972.9) scale(1.102 1)" font-size="24.3" text-anchor="middle">36</text>
<path d="M1610.89 1942.6v-5.5M1704.67 1942.6v-5.5M1798.45 1942.6v-5.5M1892.23 1942.6v-5.5M1986.02 1942.6v-5.5M2079.8 1942.6v-5.5" fill="none" stroke="#1a1a1a" stroke-width="1.4"/>
<path d="M1564 1824.77h10M1564 1706.95h10M1564 1589.12h10" fill="none" stroke="#1a1a1a" stroke-width="1.4"/>
<text transform="translate(1551.8 1950.8) scale(1.102 1)" font-size="24.3" text-anchor="end">80</text>
<text transform="translate(1551.8 1832.97) scale(1.102 1)" font-size="24.3" text-anchor="end">85</text>
<text transform="translate(1551.8 1715.15) scale(1.102 1)" font-size="24.3" text-anchor="end">90</text>
<text transform="translate(1551.8 1597.33) scale(1.102 1)" font-size="24.3" text-anchor="end">95</text>
<text transform="translate(1551.8 1479.5) scale(0.987 1)" font-size="24.3" text-anchor="end">100</text>
<path d="M1564 1883.69h5.9M1564 1765.86h5.9M1564 1648.04h5.9M1564 1530.21h5.9" fill="none" stroke="#1a1a1a" stroke-width="1.4"/>
<text transform="translate(1846.4 2018) scale(1.040 1)" font-size="27.4" text-anchor="middle">Number of states</text>
<text transform="translate(1485.8 1707.4) rotate(-90) scale(1.015 1)" font-size="27.4" text-anchor="middle">Fidelity (%)</text>
</g>
<g id="labels">
<text transform="translate(-0.12 29.3) scale(1.070 1)" font-size="39" font-weight="bold" stroke="#000" stroke-width="1.1" stroke-linejoin="round">a</text>
<text transform="translate(692.7 29.3) scale(1.070 1)" font-size="39" font-weight="bold" stroke="#000" stroke-width="1.1" stroke-linejoin="round">b</text>
<text transform="translate(1454.28 29.3) scale(1.070 1)" font-size="39" font-weight="bold" stroke="#000" stroke-width="1.1" stroke-linejoin="round">c</text>
<text transform="translate(-0.42 819.3) scale(1.070 1)" font-size="39" font-weight="bold" stroke="#000" stroke-width="1.1" stroke-linejoin="round">d</text>
<text transform="translate(731.58 819.3) scale(1.070 1)" font-size="39" font-weight="bold" stroke="#000" stroke-width="1.1" stroke-linejoin="round">e</text>
<text transform="translate(1458.45 819.3) scale(1.070 1)" font-size="39" font-weight="bold" stroke="#000" stroke-width="1.1" stroke-linejoin="round">f</text>
<text transform="translate(-0.42 1463.9) scale(1.070 1)" font-size="39" font-weight="bold" stroke="#000" stroke-width="1.1" stroke-linejoin="round">g</text>
<text transform="translate(731.6 1463.9) scale(1.070 1)" font-size="39" font-weight="bold" stroke="#000" stroke-width="1.1" stroke-linejoin="round">h</text>
<text transform="translate(1457.7 1463.9) scale(1.070 1)" font-size="39" font-weight="bold" stroke="#000" stroke-width="1.1" stroke-linejoin="round">i</text>
</g>
</svg>
</body>
</html>
